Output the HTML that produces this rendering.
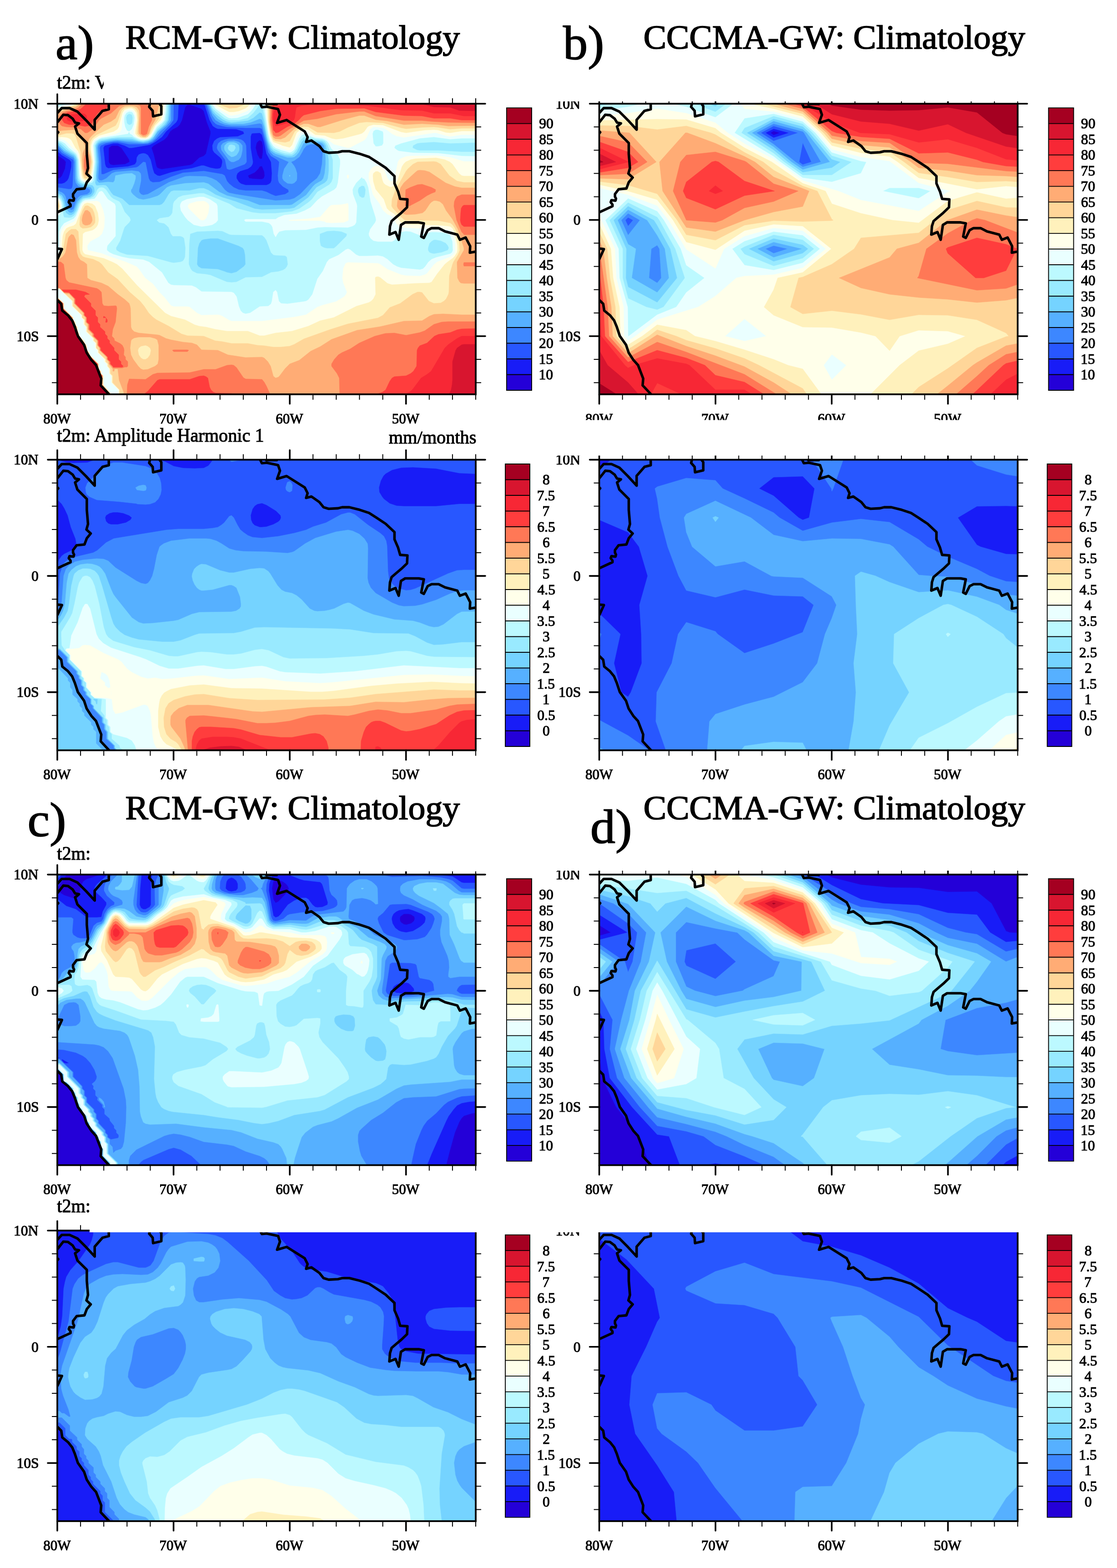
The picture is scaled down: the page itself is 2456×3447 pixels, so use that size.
<!DOCTYPE html><html><head><meta charset="utf-8"><title>t2m climatology</title><style>html,body{margin:0;padding:0;background:#fff}svg{display:block}text{font-family:"Liberation Serif","Times New Roman",serif;fill:#000}</style></head><body>
<svg xmlns="http://www.w3.org/2000/svg" width="2456" height="3447" viewBox="0 0 2456 3447">
<rect width="2456" height="3447" fill="#fff"/>
<defs>
<clipPath id="clip_a"><rect x="126.0" y="228.0" width="920.0" height="638.8"/></clipPath>
<clipPath id="clip_b"><rect x="1317.6" y="228.0" width="920.0" height="638.8"/></clipPath>
<clipPath id="clip_a2"><rect x="126.0" y="1010.6" width="920.0" height="638.8"/></clipPath>
<clipPath id="clip_b2"><rect x="1317.6" y="1010.6" width="920.0" height="638.8"/></clipPath>
<clipPath id="clip_c"><rect x="126.0" y="1922.6" width="920.0" height="638.8"/></clipPath>
<clipPath id="clip_d"><rect x="1317.6" y="1922.6" width="920.0" height="638.8"/></clipPath>
<clipPath id="clip_c2"><rect x="126.0" y="2705.2" width="920.0" height="638.8"/></clipPath>
<clipPath id="clip_d2"><rect x="1317.6" y="2705.2" width="920.0" height="638.8"/></clipPath>
</defs>
<g clip-path="url(#clip_a)">
<rect x="123.0" y="225.0" width="926.0" height="644.8" fill="#2400d8"/>
<path fill="#181cf7" stroke="#181cf7" stroke-width="0.6" fill-rule="evenodd" d="M116 877l940 0 0-659-940 0 0 123 10 0 15 10 4 5-2 15-7 16-5 5-15 0 0 480zM244 362l-2-1-3-5 0-31 7-5 13 0 8 5 14 21 3 5 1 5-10 5-26 2zM351 371l-5-2-2-3-6-26-5-15 5-5 23-13 7-7 6-11 6-5 10-5 5-5 5-10 7-28 5-6 5 0 26 9 5 5 7 25 8 20 0 5-10 44-5 5-10 4-15 14-6 2-61 9zM550 392l-2 0-3-6 15-7 8-8 3-5 5-1 5 12 1 9-2 6-4 2-5 0-16-1zM571 349l-5-9-4-15 2-10 2-3 5-4 5 3 2 9 0 15-2 14z"/>
<path fill="#2857ff" stroke="#2857ff" stroke-width="0.6" fill-rule="evenodd" d="M116 877l940 0 0-659-607 0 0 10 2 5 10 31 7 13 6 4 5 2 41 1 15 5 2 5-14 6-39 2-7 3-6 5-4 10 1 10 3 5 13 11 4 5 1 5-2 10-3 4-5 1-5 0-11-2-15-5-5 0-21 6-20 3-26 6-25 8-5-1-7-5-3-9-5-21-3-5-3-5-5-3-5-1-5 1-5 2-4 6-1 10-3 5-2 1-13 4-44 4-5-3-2-6-4-36 3-5 19-5 10 0 15 5 10 5 6 0 35-6 5-1 11-6 15-11 9-12 22-20 3-5 1-5 2-41-277 0 0 114 10 0 10 9 17 10 4 5 0 11-3 14-3 11-3 5-6 5-6 2-20 0 0 468zM540 407l-10-3-5-4-5-8 0-6 2-5 6-5 17-5 7-5 3-5 1-5-5-31 0-25 2-6 2-1 16-1 5 4 5 17 5 25 10 18 2 25-1 16-2 5-4 3-5 2-41 0z"/>
<path fill="#3d87ff" stroke="#3d87ff" stroke-width="0.6" fill-rule="evenodd" d="M116 877l940 0 0-659-603 0 0 10 2 5 8 23 5 10 6 6 4 2 11 3 10 2 41 2 31 0 5 2 14 52 6 8 13 8 5 5-3 30 1 11 2 5 8 8 12 7 1 5-8 5-21 4-10-4-10-5-10-3-36 0-15-2-11-5-10-8-5-6-5-12-5-3-41-7-46 4-26 9-25 11-15 1-6-3-3-6-7-35-5-1-11 10-4 2-51 6-21 9-5 0-1-32-3-26 2-5 12-5 16-3 10 0 25 5 26 0 15-1 11-4 8-7 30-31 7-10 1-46-266 0 0 106 10 0 10 12 25 15 1 5-2 51-1 5-2 3-5 1-26-4-10 0 0 460zM499 371l5 2 5-1 29-11 2-2 2-3 0-5-1-31-2-5-4-5-5-3-10-2-16 0-10 2-8 3-6 5-2 5-1 5 2 5 16 21 3 15z"/>
<path fill="#56b0ff" stroke="#56b0ff" stroke-width="0.6" fill-rule="evenodd" d="M116 877l940 0 0-659-600 0 0 10 11 26 7 10 10 6 11 4 14 2 31 0 31-5 5 2 14 52 5 10 6 6 34 15-10 15-4 15 0 6 3 5 8 6 10 1 5-2 5-5 1-5 0-11-3-10-3-6-7-9 7-3 11-8 6-10 4-8 6-7 9-3 10 0 11 0 4 3 2 10-2 31-4 20-7 11-14 11-23 24-13 9-10 3-31 2-88-14-14-3-4-2-6-5-10-13-8-7-10-5-13-4-36-1-10 1-36 13-46 26-10 2-5-2-4-5 0-5 4-20 0-11-1-5-4-4-15-2-36 3-8 3-12 11-6 3-5 2-5-1-2-4 0-6 2-30-3-31 1-5 2-3 4-2 6-2 21-3 10-1 20 3 36 3 10-1 9-4 6-5 12-16 14-12 7-8 3-5 0-5 0-41-260 0 0 101 10 0 10 11 5 5 21 12 3 9 0 36 2 10 5 7 5 2 15 2 6 4 0 5-6 5-15 3-5 4-3 4-7 21-5 3-6-4-7-26-3-5-5-4-10-4-10 0 0 453zM509 356l5 0 11-5 4-5 2-6 2-10 0-10-4-5-4-3-11-3-13 1-11 5-4 5 0 5 1 5 17 23z"/>
<path fill="#75d3ff" stroke="#75d3ff" stroke-width="0.6" fill-rule="evenodd" d="M116 877l940 0 0-659-597 0 0 10 9 21 11 12 13 8 12 3 31 0 16-3 20-8 5 2 5 15 7 32 5 15 3 6 5 4 5 3 26 8 10 0 5-1 5-4 5-6 10-20 6-3 10 0 21 1 5 2 4 5 3 26 0 15-2 20-3 11-4 5-14 8-5 5-15 19-31 21-5 1-31 0-35 0-26-10-46-11-17-8-24-18-10-3-41 2-31 5-9 4-16 16-5 3-16 5-15 3-10-2-5-3-8-7-4-5 0-5 2-2 5-12 3-11 0-6-8-5-16 1-20 4-2 11-3 4-11-1-20 2-5-5-1-11 3-30-3-31 1-5 3-5 7-4 7-1 24-3 36 2 25 4 10-2 5-2 6-4 11-16 18-15 6-10 2-16 0-30-257 0 0 98 10 0 15 15 21 12 5 9 1 40 3 10 6 5 5 2 16 2 2 1 3 5 0 5-3 5-8 3-10 2-7 6-4 5-8 20-1 2-5 3-5-1-6-7-5-22-5-9-10-5-10 0 0 448zM636 386l1 2 1-2-1-1zM502 340l7 5 5-1 6-3 4-6 2-5 0-5-1-6-5-4-6-2-10 0-5 2-5 5-1 5 1 5 5 7z"/>
<path fill="#99eaff" stroke="#99eaff" stroke-width="0.6" fill-rule="evenodd" d="M116 877l940 0 0-659-595 0 0 10 7 15 6 7 15 12 10 5 10 2 11-1 25-3 12-6 14-12 5 2 5 18 6 33 4 13 5 12 5 6 5 3 21 7 10 1 5 0 5-3 5-5 11-22 5-5 5-1 36 5 5 4 3 5 6 31 0 25-2 16-2 5-5 5-18 10-18 22-31 23-10 2-61 2-16-2-42-16-29-9-15-6-16-10-10-4-10 0-21 5-35 0-6 2-5 6-10 17-5 5-5 2-67 0-15-14-20-8-5-6-7-11-4-4-5-1-15 1-2-1-2-5 1-10 2-36-2-36 3-5 5-5 26-5 15-1 31 1 15 5 10 1 10-2 5-2 8-7 8-13 15-13 7-10 2-16 0-30-254 0 0 95 10 0 4 2 16 15 17 10 4 5 2 6 1 35 2 11 4 5 6 3 21 2 4 5 1 5 0 5-3 5-2 3-5 3-16 3-5 4-5 8-5 15-5 7-5 3-5 0-7-5-2-5-4-20-5-11-8-5-10 0 0 445zM494 597l-15-5-36-2-7-4-3-5 1-16 1-20 3-10 5-7 5-2 15-2 16 0 45 16 10 5 3 5 2 10 1 21-4 5-16 12-11 3-10-2zM503 330l6 4 5-2 4-7-2-5-7-2-5 1-3 6z"/>
<path fill="#bcf9ff" stroke="#bcf9ff" stroke-width="0.6" fill-rule="evenodd" d="M116 877l940 0 0-543-41 0-51-3-41 0-6-1-10-5 1-5 9-5 6-1 31-2 36 3 66-2 0-95-593 0 0 10 5 10 6 6 20 16 10 4 21 0 20-5 12-11 14-18 5 1 5 21 7 42 4 16 4 9 5 7 16 8 10 3 10 1 5 0 4-3 6-8 7-17 4-5 5-4 5 0 20 5 16 2 5 2 4 5 3 5 11 31 0 41-3 8-5 6-26 16-12 16-8 7-20 14-16 6-36 4-35 0-16-2-35-9-16-10-56-23-10 0-36 5-10 4-9 9-2 5-2 20-3 5-5 4-20 3-6 4 5 5 11 2 5 4 5 5 5 14 4 5 17 0 5 2 3 3 3 21-1 20-2 5-3 4-5 2-15 2-6-1-51-14-46-3-15-5-8-5-1-5 9-16 8-25 2-5 10-10 3-5-2-6-11-12-8-18-4-5-13-6-5-4-11-16-5-4-5-1-5 1-4 4-4 10-4 5-8 4-11 1-5 2-7 9-5 15-6 10-2 2-5 3-5 1-11-1-2-5-1-25-4-10-8-8-10 0 0 442zM494 618l-31-13-10-2-20-2-10-5-4-5-4-10 0-5 1-41 2-21 15-5 46-2 10 1 15 7 5 1 67 1 5 4 5 7 10 27 5 5 5 1 21 1 4 3 2 16-2 5-4 5-5 3-10 3-16 2-20 10-36 1-20 10-11 1-10-1zM714 545l-5-2-4-3-2-10 0-16 16-6 15-1 10 1 7 1 12 5-1 5-23 23-5 4-15 0zM796 435l-6-4-3-9 0-5 2-5 7-4 5 1 3 8-1 10-2 7zM944 555l-3-5 0-5 3-10 5-5 5-3 5 0 10 2 11 5 5 6 2 5-2 5-14 5-17 3-5-1zM181 402l6 2 11-1 5-2 3-4 4-41-2-36 5-9 5-4 5-1 36-5 31 0 15 7 10 1 10-2 5-2 5-5 11-17 10-9 8-10 3-21 0-25-225 0 0 10-16 3-10 0 0 79 10 0 10 5 16 15 10 6 5 5 4 10 2 41 4 7zM284 275l-5-4-2-12 2-6 5-3 6 2 2 7-1 10-1 3-3 2z"/>
<path fill="#eaffff" stroke="#eaffff" stroke-width="0.6" fill-rule="evenodd" d="M116 877l940 0 0-533-41-1-51-6-56-1-31-4-4-2-6-5 2-5 13-5 41-11 31-3 36 5 25-2 41 0 0-86-476 0 0 10 10 66 4 16 7 11 5 4 13 5 18 5 5-2 5-4 11-25 5-7 5-2 5 1 20 7 16 2 5 2 5 3 4 5 6 12 14 13 5 11 0 10-5 41-3 10-5 5-27 15-10 8-15 16-13 7-18 7-27 3-13 5-6 4-66 0-3 2 3 3 36 0 15 3 5 4 3 5 3 15 4 7 4-7 4-5 13-3 46-1 25-5 16-1 51 1 10-3 5-3 3-5 2-36-1-5-8-21-1-10 2-5 6-10 13-13 1 3 4 1 5 8 4 11 5 31 11 35 1 6-2 5-11 15-3 10 1 5 3 5 6 5 10 2 31 0 5-3 11-14 4-4 11-2 10 1 20 8 26-7 10 0 15 1 11 3 5 3 5 14 1 19-2 5-4 3-31 8-10 4-7 6-7 10-5 5-7 2-41-4-9-3-9-5-12-11-10-6-11-2-25 1-16 0-7-3-13-11-5-2-5 2-16 12-20 9-5 6-9 20-12 17-11 34-9 12-5 3-5 1-36 5-14-1-5-5-4-20-3-4-5 4-3 20-2 6-6 5-19 1-21 14-10 2-6-2-5-5-4-10-5-21-6-8-5-2-66-1-12-9-9-4-40-1-6-1-6-4-14-23-28-23-13-5-31-3-15-3-20-6-8-4-6-5 0-5 1-5 18-21 0-66-2-5-15-10-11-16-3-2-5 2-6 10-4 5-21 3-5 3-4 5-11 27-5 6-17 8-4 2-6 8-5 10-1 41-3 5-10 0 0 317zM826 322l-5-7-2-21 2-6 5-3 5 0 11 4 1 5 0 16 0 5-3 5-9 2zM426 494l17 4 15-2 9-2 8-5 4-5-1-31-2-5-15-10-13-5-10 0-27 5-11 5-3 5-1 5 2 10 9 14 6 7 9 7zM116 473l0 3 10 0 5-4 4-9 1-10-2-10-3-5-5-5-10 0 0 35zM179 397l3 2 5 2 5 0 6-1 4-3 2-5 4-36-3-36 2-5 3-5 8-5 5-2 58-9 3-5-5-2-4-8-2-10 0-10 1-5 4-6 6-3 6 1 2 2 3 6 1 5-2 15-4 10-6 5 2 5 4 2 4 4 6 3 10 4 10 0 7-2 6-5 12-21 11-9 5-6 3-21 1-25-212 0 0 10-27 7-10 0 0 73 10 0 10 3 7 4 9 10 15 12 2 3 4 11 2 35 2 8zM503 259l6 1 13-1 23-8 8-8 7-10 2-5 0-10-96 0 0 10 8 11 25 18z"/>
<path fill="#ffffea" stroke="#ffffea" stroke-width="0.6" fill-rule="evenodd" d="M116 877l127 0 1-7 3-3-19-21 0-20-5-5 0-5-5-5-1-11-20-20 0-5-5-5-1-11-4-4-1-6-10-10 0-5-4-5-1-10-4-5-1-6-5-5 0-5-20-20 0-11-15-14-5 5-5 0 0 214zM260 877l796 0 0-522-36 0-30-9-31-4-56 1-10 1-11 4-4 3-3 5-7 36-6 7-5-1-5-6-8-21-7-5-6-1-5 0-5 2-5 4-5 10 0 11 9 35 3 5 12 16 8 15 9 8 10 4 3 3 7 14 5 5 11 3 30 2 46 0 26 4 3 3 3 5 5 21 0 15-1 5-4 5-6 5-29 11-7 6-15 19-5 3-11 3-30-1-11-2-30-12-16-11-5-2-66-2-5 2-5 11-2 21 2 11 8 20-2 5-4 5-18 11-30 8-11 4-25 17-26 5-71 9-67 0-5-2-15-9-5-2-5-1-36 1-10-5-16-13-5-1-30 0-6-2-15-19-11-11-14-18-17-13-14-20-5-5-23-10-33-11-21-8-30-7-1-5 0-5 6-9 5-3 15-8 6-6 5-15 1-21-3-15-6-15-3-4-5-2-22 1-4 0-5 4-16 37-4 4-16 7-5 4-5 8-2 7-2 36-2 5-4 4-10 0 0 82 5-5 10 0 27 26 0 11 20 20 0 5 5 5 0 10 6 6 0 10 15 15 0 5 5 5 0 11 5 5 0 5 15 15 0 5 6 5 0 5 5 6 0 10 5 5 0 15 15 16 0 15zM717 489l12 1 21-1 5 0 10-4 1-1 0-31-1-6-15 3-21 1-5 3-20 23-26 4-43 3 2 1 67 0 10 2zM442 484l6 0 5-4 5-12 2-15-2-5-5-4-5-2-15 1-17 5-3 5 2 5 23 23zM116 468l0 3 10 0 3-3 3-5 2-10-2-10-4-5-2-3-10 0 0 28zM183 397l4 2 5 0 5-2 4-5 2-6 3-30-3-36 1-5 4-7 5-4 5-2 37-8 9-4 3-6 3-30 4-8 5-3 5-2 6 1 5 4 3 8 1 10-5 25 0 5 5 6 10 5 11 0 5-1 6-4 3-6 8-15 15-15 4-21 1-25-200 0 0 10-36 10-10 0 0 67 20 1 9 4 25 25 2 5 3 11 2 35 2 6 3 4zM764 392l2 0 1-6-2-2-2 2zM636 330l6-2 3-3 7-21 6-9 5-5 5-1 5 0 20 11 21 3 5 2 15 12 31 8 5-1 31-16 5-6 8-18 7-5 5 0 16 2 7 3 13 10 10 5 16 3 66-10 5 0 21 6 10 2 25-4 41 0 0-78-472 0 1 20 3 36 3 20 5 15 5 7 5 3 12 6 14 5zM509 254l16-3 20-8 5-5 6-10 0-10-88 0 0 10 6 7 30 18z"/>
<path fill="#fff1bc" stroke="#fff1bc" stroke-width="0.6" fill-rule="evenodd" d="M116 877l127 0 0-5 2-5-18-21 0-20-5-5 0-5-5-5 0-11-20-20-1-5-5-5-1-11-3-2-3-8-10-10 0-5-2-2-2-8 0-5-3-3-2-8-4-5-1-5-20-20 0-11-14-14-5 5-5 0 0 214zM262 877l794 0 0-490-36 0-5-1-6-5-14-20-6-5-11-5-19-4-46 2-10 2-11 5-4 4-4 6-10 31-7 10-5 4-5 0-10-5-4-4-2-5-4-16-6-4-5 0-5 4-1 5 1 13 5 17 18 22 7 20 5 5 11 7 15 19 6 3 5 1 71 2 21 2 5 1 5 4 4 7 3 10 4 21 0 10-1 5-5 8-5 5-11 8-6 5-16 20-13 19-5 2-31 1-51 3-10-3-16-13-5-2-5 1-1 2 1 36-5 10-5 5-5 3-27 8-50 25-30 7-26 12-36 11-36 4-25 6-10 0-26-10-46 0-25-4-21-5-15-2-10-3-21-11-31-8-13-7-62-61-32-36-12-10-10-5-19-8-41-9-4-4-2-5 0-5 1-31 5-4 16-4 5-3 4-4 3-5 2-10-2-16-6-15-6-5-11-2-6 2-4 5-15 39-5 4-10 3-6 3-5 7-3 10-2 26-2 10-8 8-10 0 0 77 5-5 10 0 28 27 0 11 21 20 0 5 5 5 0 10 5 6 0 10 15 15 0 5 6 5 0 11 5 5 0 5 15 15 0 5 5 5 0 5 5 6 0 10 5 5 0 15 16 16 0 15zM116 463l0 5 10 0 3-5 3-10-3-10-3-5-10 0 0 20zM182 392l5 4 5 0 6-4 2-6 3-15 1-15-4-26 0-10 3-10 4-5 11-7 32-9 8-5 3-5 8-31 5-7 10-3 6 0 5 3 5 7 2 16-4 25 0 5 5 6 7 3 10 1 5-3 7-7 9-18 12-12 2-5 4-21 0-20-192 0 0 10-5 3-26 7-10 4-10 0 0 60 20-1 10 1 6 2 5 4 9 17 6 7 3 8 5 46zM621 320l16 4 5-5 7-19 3-8 6-5 10-4 10 2 15 11 21 2 15 6 10 2 16-2 35-9 6-2 5-4 7-10 3-2 10-3 21 1 40 15 11 2 41-6 20-1 10 1 16 5 10 1 25-4 41 0 0-70-469 0 2 46 6 36 6 12 16 6zM498 243l6 3 10 0 11-2 15-6 5-4 5-6 0-10-78 0 0 10 2 2 20 11z"/>
<path fill="#ffd699" stroke="#ffd699" stroke-width="0.6" fill-rule="evenodd" d="M116 877l126 0 1-10-17-21 0-20-4-5-1-5-5-5 0-11-20-20-1-5-4-5-2-11-3-5-14-15 0-5-4-10 1-5-4-6-1-5-4-5 0-5-20-20 0-11-14-13-5 5-5 0 0 213zM263 877l793 0 0-476-36 0-15-3-17-12-19-25-9-5-6-1-36 1-10 5-11 10-4 5-23 41-8 21-1 15 3 5 18 19 6 5 4 2 72 1 26 5 5 4 5 7 6 13 4 21 1 15-4 10-10 16-2 5-7 25-1 36-1 5-5 10-5 5-7 4-15 1-11-5-15-19-5-1-5 0-11 5-27 20-23 9-15 17-11 6-66 13-41 13-56 20-21 12-10 4-20 2-16 0-20-3-15-1-21-4-36 0-20-4-16-2-25-10-36-1-13-4-28-17-27-14-8-6-9-9-10-15-9-11-23-20-26-28-21-15-14-18-6-5-13-6-18-4-5-2-5-6-2-8-3-41-5-5-10 0-5 3-7 7-7 41-3 5-7 5-2 1-10 0 0 73 5-5 10 0 30 28 0 11 20 20 0 5 6 5 0 10 5 6 0 10 15 15 0 5 5 5 0 11 5 5 0 5 16 15 0 5 5 5 0 5 5 6 0 10 5 5 0 15 15 16 0 15zM315 790l-5-3-5-7-2-10 2-5 5-4 10-2 5 2 5 4 2 5-2 10-5 7-5 3zM177 499l5 3 10-1 8-2 6-5 3-5 0-11-2-10-4-9-8-6-3-1-5 1-5 9-6 16-1 16 2 5zM116 463l0 1 10 0 3-6 1-5-1-5-3-7-10 0 0 17zM186 392l8 0 4-7 1-9 3-20-5-31 0-5 2-10 4-6 10-8 41-20 5-9 8-24 7-6 10-2 6 0 7 3 4 5 2 5 1 16-2 25 0 5 6 6 7 2 5 0 5-2 4-6 4-10 6-10 8-10 4-7 4-19 1-20-184 0 0 10-5 3-26 8-15 7-10 0 0 52 10 0 20-5 11 0 6 1 4 7 10 32 3 38 3 15zM606 310l21 3 10-3 11-21 10-7 10-4 10 1 20 12 36 1 13-3 18-9 25-10 16-2 36 2 40 11 11 2 35-3 26-1 10 1 26 4 25-2 41 0 0-64-466 0 1 51 4 25 6 13zM506 238l14-1 20-8 1-1 0-10-63 0 0 10 26 10z"/>
<path fill="#ffac75" stroke="#ffac75" stroke-width="0.6" fill-rule="evenodd" d="M116 877l125 0 2-10-18-21 0-20-4-5-1-5-4-5-1-11-20-20-1-5-6-10-3-11-14-15-1-10-3-5 0-5-4-11-3-5-1-5-20-20 0-11-13-12-5 4-5 0 0 213zM272 877l784 0 0-185-41 0-41-2-20 1-10 4-16 10-40 1-52 12-51 8-56 20-25 16-21 10-25 20-21 8-10 10-12 16-3 3-6 2-5-4-6-22-6-10-8-8-5-2-36 1-39-6-22-10-36-1-10-11-11-4-20-2-26-5-11-3-14-7-5-1-41-4-10-3-5-5-2-5-1-41-1-5-2-6-10-9-15-11-21-18-15-7-23-6-8-5-1-30-6-5-8-4-5-7-3-10-2-27-5-11-5-2-5 5-2 4-6 31-3 5-4 5-6 4-5 1-10 0 0 69 5-5 10-1 10 11 5 2 6 0 11 11 0 10 20 21 0 5 5 5 0 10 5 5 0 11 10 10 0 5 11 10 0 10 5 6 0 5 15 15 0 5 5 5 0 5 9 11 0 5 3 0 1-5 7 0 3 25 10 26 0 10zM310 811l-6-6-11-15-5-10-2-15 2-16 2-3 5-3 10-2 25 0 11 3 5 3 3 12 0 31-2 10-6 5-16 7-10 1zM1013 622l7 1 36 0 0-210-41 0-15-3-20-8-36-24-10-3-11-1-5 1-5 4-25 23-7 10-3 10-4 21-1 10 2 5 7 8 6 4 5 2 20-1 16-3 6-5 10-15 4-4 5-3 5 0 8 2 7 6 7 14 14 19 12 22 13 41 0 5-15 26 0 5 1 30 4 8zM185 494l2 1 5 0 6-2 3-4 2-5-1-6-4-11-6-5-5 1-5 10-1 5-1 6 2 8zM116 458l0 2 10 0 2-7-2-8-10 0 0 8zM187 386l5 0 3-5 3-10 1-15-1-13-6-15-4-3 0-5 4-5 4-10 4-5 28-26 16-7 10-7 8-17 7-7 6-3 9-1 11 1 5 2 3 3 3 5 1 11-2 35 1 5 8 6 6 0 7-6 5-15 9-15 8-31 1-15-174 0 0 10-9 7-27 8-10 5-4 5-10 0 0 38 10 0 5-3 5-1 26-2 10 4 3 5 12 26 0 5-5 12-1 14 1 19 3 11zM605 305l12 1 10-4 19-18 12-8 10-4 10 0 20 7 6 0 48-15 38-10 11 0 25 9 26 3 36 8 40-2 36 2 21 3 71-1 0-58-463 0 0 51 3 20 5 13zM504 228l10 0 0-10-10 0 0 5z"/>
<path fill="#ff7856" stroke="#ff7856" stroke-width="0.6" fill-rule="evenodd" d="M116 877l125 0 1-10-18-21 1-20-5-5 0-5-5-5 0-11-20-20-2-5-6-10-2-11-15-15-1-10-3-5 0-5-7-16-1-5-20-20 0-11-12-11-5 4-5 0 0 212zM279 877l315 0 0-10-8-18-5-9-5-6-36-1-5-3-15-22-6-5-5-1-10 1-25 9-26 0-31 7-71 1-10 3-16 11-36-1-4 13-1 26zM747 877l309 0 0-170-71 0-14 1-17 5-20 14-11 4-30 6-26-5-20 1-23 6-34 15-20 13-18 8-8 5-9 10-6 10 0 5 12 16 5 10 1 41zM246 805l3 4 20 0 5-2 5 0 2-2 0-10-5-5 0-5-4-5 1-10-1-5-3-6-5-4-12-6-1-5-5-5 2-15 6-16 3-30-1-5-2-1-16 1-10-1-3-5-2-25-5-5-5-3-61-13-6-5-2-5-4-30-6-5-18-1 0 63 5-5 10 0 10 10 11 1 12 13 0 10 21 21 0 5 5 5 0 10 5 5 0 11 10 10 0 5 10 10 0 10 5 6 0 5 16 15 0 5 5 5 0 5 3 3zM379 770l3 3 30 0 3-3-3-1-30 0zM1019 581l1 4 36 0 0-8-36 0zM1019 514l1 2 36 0 0-88-41 0-10 4-4 6-2 5-1 10 6 31 11 26zM116 453l10 0-10 0zM891 453l2 1 7-1 23-12 16-11 10-5 8-3 1-5-9-5-21-7-10 1-16 6-10 5-1 31zM186 371l1 4 5 0 4-14-1-10-3-10-5 0-2 10 0 15zM606 300l6 0 5-2 19-14 32-19 30-4 41-10 51-6 11 0 25 10 62 10 40 0 21 2 36 2 71 1 0-52-459 0-2 46 1 11 5 22zM310 294l5 3 5-1 3-2 4-15 7-15 0-5-1-21-3-5-11-5 0-10-138 0 0 10-9 9-10 4-16 4-8 3-6 6-2 5 0 10 3 5 3 3 10 2 21 1 11 4 9 8 5 0 12-8 14-20 5-4 21-11 18-16 12-3 26 0 5 1 4 2 1 5 0 55z"/>
<path fill="#ff3d3d" stroke="#ff3d3d" stroke-width="0.6" fill-rule="evenodd" d="M116 877l124 0 1-10-18-21 1-20-4-5-1-5-4-5-1-11-20-20-8-15-2-11-14-15-1-10-4-5 0-5-1-6-7-15-19-20 0-11-12-11-5 4-5 0 0 212zM316 877l198 0 0-10-5-2-35-1-5-2-5-5-3-6-4-20-4-3-5-2-10 1-21 7-66 0-5 2-21 24-9 7 0 5zM569 877l7 0 0-10-7 0 0 5zM827 877l229 0 0-155-41 1-10 2-15 6-26 4-9 4-16 15-16 6-4 5-2 5-1 35-7 11-6 5-10 5-26 2-5 3-5 7-9 19-7 5-14 5 0 5zM248 805l1 2 20 0 2-2-5-5 0-5-5-5 0-10-10-10 0-5-10-11 0-5-5-5 0-5-5-5 0-5-11-10 0-6-5-5 0-10-5-5 0-10-10-10 0-6-15-15 2-4 10-1-9-5-21-5-31 0 5 5 11 1 14 14 0 10 20 21 0 5 5 5 0 10 6 5 0 11 10 10 0 5 10 10 0 10 5 6 0 5 15 15 0 5 6 5 0 5 1 1zM232 708l1 1 3-1 0-5-3-4 0 4zM227 698l1 1 5-1-5-3zM116 637l5-5 7 0-2-28-10 0 0 28zM1015 494l5 4 36 0 0-47-36 0-3 2-3 5-1 10-1 16 1 5zM604 289l2 3 6-1 19-12 16-7 10-8 6-7 5-4 36-9 35-5 62-1 25 8 62 8 40 1 26 5 36 0 25 4 41 0 0-46-455 0-3 41 3 27zM167 274l20 4 11-2 5-6 5-11 5-8 5-5 15-8 5-5 4-5 0-10-52 0 0 10-13 12-10 4-19 4-7 5-4 6 0 5 4 6 11 4 15 0z"/>
<path fill="#f72735" stroke="#f72735" stroke-width="0.6" fill-rule="evenodd" d="M116 877l124 0 0-10-18-21 1-20-4-5-1-5-4-5-1-11-19-20-7-13-2-2-1-11-15-15-1-10-4-5-1-11-3-5-3-9-20-21 0-11-11-10-5 4-5 0 0 211zM891 877l165 0 0-138-41 0-10 5-20 14-7 7-30 51-9 7-13 8-18 24-5 5-12 7 0 5zM605 274l1 3 6-1 30-9 4-3 2-5 2-16 2-7 11-4 25-3 46-1 72 4 76 10 46 1 26 6 36 0 30 6 36 0 0-37-426 0 0 10-17 5-7 3-1 2-4 12 0 14 1 5zM148 264l4 2 5 1 25-1 6-2 3-5-1-5-3-3-5-1-25 2-5 2-5 5zM217 228l7 0 0-10-7 0 0 5z"/>
<path fill="#d8152f" stroke="#d8152f" stroke-width="0.6" fill-rule="evenodd" d="M116 877l123 0 1-10-19-21 0-20-3-9-4-6-2-11-16-15-4-7-3-3-2-7-3-3-1-11-15-15 0-10-5-5 0-11-4-5-2-7-20-23-1-11-10-8-5 3-5 0 0 210zM987 877l69 0 0-120-36 0-5 1-10 7-3 5-7 25 0 41-1 10-2 11-5 10 0 5zM1013 243l43 1 0-26-172 0 0 10 44 1 26 6 36 1 20 7z"/>
<path fill="#a50021" stroke="#a50021" stroke-width="0.6" fill-rule="evenodd" d="M116 877l123 0 0-10-20-21-1-25-4-5-1-7-4-4 0-5-15-15-2-6-4-4-1-6-4-4-1-11-15-15 0-10-5-5 0-11-5-5 0-6-23-24-1-11-7-6-10 1 0 210zM1015 228l41 1 0-11-41 0 0 5z"/>
</g>
<path d="M125.7 248.8L135.7 237.6L153.0 237.6L170.2 245.4L189.2 264.4L208.2 285.0L208.2 263.5L225.4 243.7L239.2 240.2L239.2 226.4M125.7 269.5L139.2 252.3L149.5 253.1L159.9 260.9L165.1 269.5L173.7 271.2L165.1 278.1L170.2 293.7L190.9 314.4L190.9 338.5L193.5 369.5L190.1 381.6L199.5 390.2L190.9 400.6L185.7 414.4L168.5 416.1L160.6 426.7L160.6 432.2L162.8 436.6L161.7 441.1L152.8 440.0L151.2 444.4L155.1 449.9L155.1 453.3L126.2 466.6M125.7 288.5L128.0 290.8L125.7 293.7M125.1 546.4L136.2 547.5L126.2 569.6M125.6 658.9L134.7 668.0L137.0 682.8L149.6 693.1L158.7 704.5L164.4 718.2L171.2 738.7L184.9 758.1L190.6 775.2L200.9 791.2L211.2 802.6L222.6 832.2L221.4 847.1L240.8 867.8M330.2 226.4L328.0 235.0L335.7 243.7L336.6 255.7L354.7 251.4L354.7 233.3L349.5 226.4M571.6 227.2L575.8 235.6L586.3 234.6L611.4 239.8L615.6 252.3L609.3 270.1L630.2 263.9L670.0 289.0L676.3 301.6L673.1 312.0L684.7 308.9L702.2 321.1L711.3 332.5L722.7 335.9L743.2 334.8L752.3 332.5L768.2 332.5L791.0 338.2L811.5 345.0L827.5 355.3L848.0 368.9L867.4 387.2L867.4 403.1L875.3 421.3L879.9 437.3L895.8 438.4L895.0 455.8L882.5 467.8L871.0 477.5L861.1 486.0L857.5 497.4L856.1 515.8L869.6 510.1L876.7 527.1L881.6 494.5L890.8 488.9L905.0 488.9L920.6 488.9L931.9 491.0L926.2 520.0L931.9 522.9L940.4 505.9L948.9 501.6L964.5 501.6L978.6 508.7L1005.5 515.8L1011.2 527.1L1023.9 522.2L1033.8 541.3L1033.1 555.4L1048.5 552.6M585.5 228.8L608.5 228.8" stroke="#000" stroke-width="5.6" stroke-linejoin="round" stroke-linecap="round" fill="none" clip-path="url(#clip_a)"/>
<path d="M126.0 228.0L126.0 207.0M126.0 866.8L126.0 887.8M381.6 228.0L381.6 207.0M381.6 866.8L381.6 887.8M637.1 228.0L637.1 207.0M637.1 866.8L637.1 887.8M892.7 228.0L892.7 207.0M892.7 866.8L892.7 887.8M126.0 228.0L105.0 228.0M1046.0 228.0L1067.0 228.0M126.0 483.5L105.0 483.5M1046.0 483.5L1067.0 483.5M126.0 739.0L105.0 739.0M1046.0 739.0L1067.0 739.0" stroke="#000" stroke-width="3.6" stroke-linecap="round" fill="none"/>
<path d="M177.1 228.0L177.1 216.0M177.1 866.8L177.1 878.8M228.2 228.0L228.2 216.0M228.2 866.8L228.2 878.8M279.3 228.0L279.3 216.0M279.3 866.8L279.3 878.8M330.4 228.0L330.4 216.0M330.4 866.8L330.4 878.8M432.7 228.0L432.7 216.0M432.7 866.8L432.7 878.8M483.8 228.0L483.8 216.0M483.8 866.8L483.8 878.8M534.9 228.0L534.9 216.0M534.9 866.8L534.9 878.8M586.0 228.0L586.0 216.0M586.0 866.8L586.0 878.8M688.2 228.0L688.2 216.0M688.2 866.8L688.2 878.8M739.3 228.0L739.3 216.0M739.3 866.8L739.3 878.8M790.4 228.0L790.4 216.0M790.4 866.8L790.4 878.8M841.6 228.0L841.6 216.0M841.6 866.8L841.6 878.8M943.8 228.0L943.8 216.0M943.8 866.8L943.8 878.8M994.9 228.0L994.9 216.0M994.9 866.8L994.9 878.8M1046.0 228.0L1046.0 216.0M1046.0 866.8L1046.0 878.8M126.0 279.1L114.0 279.1M1046.0 279.1L1058.0 279.1M126.0 330.2L114.0 330.2M1046.0 330.2L1058.0 330.2M126.0 381.3L114.0 381.3M1046.0 381.3L1058.0 381.3M126.0 432.4L114.0 432.4M1046.0 432.4L1058.0 432.4M126.0 534.6L114.0 534.6M1046.0 534.6L1058.0 534.6M126.0 585.7L114.0 585.7M1046.0 585.7L1058.0 585.7M126.0 636.8L114.0 636.8M1046.0 636.8L1058.0 636.8M126.0 687.9L114.0 687.9M1046.0 687.9L1058.0 687.9M126.0 790.1L114.0 790.1M1046.0 790.1L1058.0 790.1M126.0 841.2L114.0 841.2M1046.0 841.2L1058.0 841.2" stroke="#000" stroke-width="2" fill="none"/>
<rect x="126.0" y="228.0" width="920.0" height="638.8" fill="none" stroke="#000" stroke-width="3.8"/>
<text x="29.94" y="238.80" font-size="32.60" textLength="54.46" lengthAdjust="spacingAndGlyphs" stroke="#000" stroke-width="1.1">10N</text>
<text x="69.07" y="494.32" font-size="32.60" textLength="15.81" lengthAdjust="spacingAndGlyphs" stroke="#000" stroke-width="1.1">0</text>
<text x="36.43" y="749.84" font-size="32.60" textLength="49.21" lengthAdjust="spacingAndGlyphs" stroke="#000" stroke-width="1.1">10S</text>
<text x="95.34" y="930.60" font-size="32.60" textLength="60.20" lengthAdjust="spacingAndGlyphs" stroke="#000" stroke-width="1.1">80W</text>
<text x="350.47" y="930.60" font-size="32.60" textLength="60.20" lengthAdjust="spacingAndGlyphs" stroke="#000" stroke-width="1.1">70W</text>
<text x="606.37" y="930.60" font-size="32.60" textLength="60.20" lengthAdjust="spacingAndGlyphs" stroke="#000" stroke-width="1.1">60W</text>
<text x="861.70" y="930.60" font-size="32.60" textLength="60.20" lengthAdjust="spacingAndGlyphs" stroke="#000" stroke-width="1.1">50W</text>
<rect x="1113.9" y="237.1" width="55.1" height="34.8" fill="#a50021"/>
<rect x="1113.9" y="271.6" width="55.1" height="34.8" fill="#d8152f"/>
<rect x="1113.9" y="306.1" width="55.1" height="34.8" fill="#f72735"/>
<rect x="1113.9" y="340.6" width="55.1" height="34.8" fill="#ff3d3d"/>
<rect x="1113.9" y="375.1" width="55.1" height="34.8" fill="#ff7856"/>
<rect x="1113.9" y="409.6" width="55.1" height="34.8" fill="#ffac75"/>
<rect x="1113.9" y="444.1" width="55.1" height="34.8" fill="#ffd699"/>
<rect x="1113.9" y="478.6" width="55.1" height="34.8" fill="#fff1bc"/>
<rect x="1113.9" y="513.1" width="55.1" height="34.8" fill="#ffffea"/>
<rect x="1113.9" y="547.5" width="55.1" height="34.8" fill="#eaffff"/>
<rect x="1113.9" y="582.0" width="55.1" height="34.8" fill="#bcf9ff"/>
<rect x="1113.9" y="616.5" width="55.1" height="34.8" fill="#99eaff"/>
<rect x="1113.9" y="651.0" width="55.1" height="34.8" fill="#75d3ff"/>
<rect x="1113.9" y="685.5" width="55.1" height="34.8" fill="#56b0ff"/>
<rect x="1113.9" y="720.0" width="55.1" height="34.8" fill="#3d87ff"/>
<rect x="1113.9" y="754.5" width="55.1" height="34.8" fill="#2857ff"/>
<rect x="1113.9" y="789.0" width="55.1" height="34.8" fill="#181cf7"/>
<rect x="1113.9" y="823.5" width="55.1" height="34.8" fill="#2400d8"/>
<path d="M1113.9 237.1H1169.0V858.0H1113.9ZM1113.9 271.6H1169.0M1113.9 306.1H1169.0M1113.9 340.6H1169.0M1113.9 375.1H1169.0M1113.9 409.6H1169.0M1113.9 444.1H1169.0M1113.9 478.6H1169.0M1113.9 513.1H1169.0M1113.9 547.5H1169.0M1113.9 582.0H1169.0M1113.9 616.5H1169.0M1113.9 651.0H1169.0M1113.9 685.5H1169.0M1113.9 720.0H1169.0M1113.9 754.5H1169.0M1113.9 789.0H1169.0M1113.9 823.5H1169.0" stroke="#000" stroke-width="1.9" fill="none"/>
<text x="1185.27" y="282.49" font-size="32.60" textLength="31.62" lengthAdjust="spacingAndGlyphs" stroke="#000" stroke-width="1.1">90</text>
<text x="1185.23" y="316.99" font-size="32.60" textLength="31.62" lengthAdjust="spacingAndGlyphs" stroke="#000" stroke-width="1.1">85</text>
<text x="1185.19" y="351.48" font-size="32.60" textLength="31.62" lengthAdjust="spacingAndGlyphs" stroke="#000" stroke-width="1.1">80</text>
<text x="1184.79" y="385.98" font-size="32.60" textLength="31.62" lengthAdjust="spacingAndGlyphs" stroke="#000" stroke-width="1.1">75</text>
<text x="1184.75" y="420.47" font-size="32.60" textLength="31.62" lengthAdjust="spacingAndGlyphs" stroke="#000" stroke-width="1.1">70</text>
<text x="1185.15" y="454.97" font-size="32.60" textLength="31.62" lengthAdjust="spacingAndGlyphs" stroke="#000" stroke-width="1.1">65</text>
<text x="1185.11" y="489.46" font-size="32.60" textLength="31.62" lengthAdjust="spacingAndGlyphs" stroke="#000" stroke-width="1.1">60</text>
<text x="1184.91" y="523.96" font-size="32.60" textLength="31.62" lengthAdjust="spacingAndGlyphs" stroke="#000" stroke-width="1.1">55</text>
<text x="1184.87" y="558.45" font-size="32.60" textLength="31.62" lengthAdjust="spacingAndGlyphs" stroke="#000" stroke-width="1.1">50</text>
<text x="1185.51" y="592.94" font-size="32.60" textLength="31.62" lengthAdjust="spacingAndGlyphs" stroke="#000" stroke-width="1.1">45</text>
<text x="1185.47" y="627.44" font-size="32.60" textLength="31.62" lengthAdjust="spacingAndGlyphs" stroke="#000" stroke-width="1.1">40</text>
<text x="1185.07" y="661.93" font-size="32.60" textLength="31.62" lengthAdjust="spacingAndGlyphs" stroke="#000" stroke-width="1.1">35</text>
<text x="1185.03" y="696.43" font-size="32.60" textLength="31.62" lengthAdjust="spacingAndGlyphs" stroke="#000" stroke-width="1.1">30</text>
<text x="1185.15" y="730.92" font-size="32.60" textLength="31.62" lengthAdjust="spacingAndGlyphs" stroke="#000" stroke-width="1.1">25</text>
<text x="1185.11" y="765.42" font-size="32.60" textLength="31.62" lengthAdjust="spacingAndGlyphs" stroke="#000" stroke-width="1.1">20</text>
<text x="1184.44" y="799.91" font-size="32.60" textLength="31.62" lengthAdjust="spacingAndGlyphs" stroke="#000" stroke-width="1.1">15</text>
<text x="1184.40" y="834.41" font-size="32.60" textLength="31.62" lengthAdjust="spacingAndGlyphs" stroke="#000" stroke-width="1.1">10</text>
<g clip-path="url(#clip_b)">
<rect x="1314.6" y="225.0" width="926.0" height="644.8" fill="#2400d8"/>
<path fill="#181cf7" stroke="#181cf7" stroke-width="0.6" fill-rule="evenodd" d="M1318 228l958 0 0 639-958 0 0-575zM1701 288l-7 4 7 5 14-5z"/>
<path fill="#2857ff" stroke="#2857ff" stroke-width="0.6" fill-rule="evenodd" d="M1318 228l958 0 0 639-958 0 0-575zM1701 283l-18 9 18 11 34-11z"/>
<path fill="#3d87ff" stroke="#3d87ff" stroke-width="0.6" fill-rule="evenodd" d="M1318 228l958 0 0 639-958 0 0-575zM1381 478l-6 6 6 13 11-13zM1701 277l-28 15 28 18 54-18zM1765 314l-8 42 8 6 19-6z"/>
<path fill="#56b0ff" stroke="#56b0ff" stroke-width="0.6" fill-rule="evenodd" d="M1318 228l958 0 0 639-958 0 0-575zM1381 469l-15 15 15 33 26-33zM1445 539l-13 8-5 64 18 11 9-11-4-64zM1701 272l-38 20 38 25 48 39 16 11 40-11-37-64-3-3zM1701 540l-18 7 18 10 31-10z"/>
<path fill="#75d3ff" stroke="#75d3ff" stroke-width="0.6" fill-rule="evenodd" d="M1318 228l958 0 0 639-958 0 0-575zM1381 461l-23 23 23 53 17 10-9 64 56 32 26-32-9-64-17-30-22-33zM1701 266l-48 26 48 31 39 33 25 17 60-17-51-64-9-8zM1701 532l-36 15 36 19 63-19z"/>
<path fill="#99eaff" stroke="#99eaff" stroke-width="0.6" fill-rule="evenodd" d="M1318 228l239 0 16 6 8-6 695 0 0 639-958 0 0-575zM1381 453l-32 31 28 63-1 64 5 20 64 34 44-54-15-64-29-52-7-11zM1701 261l-59 31 59 38 31 26 33 23 64-10 19-13-19-6-49-58-15-14zM1701 524l-55 23 55 28 64-18 12-10-12-9z"/>
<path fill="#bcf9ff" stroke="#bcf9ff" stroke-width="0.6" fill-rule="evenodd" d="M1350 228l175 0 48 18 24-18 679 0 0 639-958 0 0-634zM1381 445l-41 39 29 63 0 64 12 45 40 19 24 6 14-6 47-64-21-64-35-63-5-7zM1637 281l-7 11 71 45 23 19 41 29 64 0 44-29-44-14-42-50-22-20-64-17zM1637 542l-9 5 9 12 64 26 64-17 25-21-25-20-64-11z"/>
<path fill="#eaffff" stroke="#eaffff" stroke-width="0.6" fill-rule="evenodd" d="M1318 292l0-48 63-9 32-7 64 0 32 7 64 23 40-30 663 0 0 639-958 0 0-511zM1381 436l-50 48 29 63 2 64 18 64 1 64 0 1 64-48 42-17 22-32 40-32-40-28-12-36-37-63-15-20zM1637 260l-22 32 86 52 15 12 49 35 64 9 64-19 12-25-12-2-64-19-36-43-28-25-64-17zM1956 413l-15 7 79 16 26-16-26-7zM1637 530l-27 17 27 36 64 11 64-16 38-31-38-30-64-8z"/>
<path fill="#ffffea" stroke="#ffffea" stroke-width="0.6" fill-rule="evenodd" d="M1318 292l0-37 63-6 64-10 64 10 64 21 27 22 37 24 64 34 64 47 64 19 14 4 50 20 127 24 64-42 7-2-71-18-64-48-63-9-64-17-30-36-34-31-64-16-64-6-8-11 647 0 0 639-958 0 0-405 4 22 30 63 3 64 16 64 1 64 9 10 16-10 48-36 90-28 38-24 46-40 18-4 64-3 64-15 51-42-51-40-64-6-64 18-45 28-19 43-64-42-39-64-25-32-64-24-63-15 0-57zM1829 779l-18 24 18 32 32-32zM1637 701l-43 38 43 11 48-11z"/>
<path fill="#fff1bc" stroke="#fff1bc" stroke-width="0.6" fill-rule="evenodd" d="M1318 292l0-27 127-3 64 1 64 19 12 10 52 33 60 31 68 47 50 17 14 28 64 21 69 15 58 6 64-48 64-19 64 14 64-5 0 435-362 0 64-64 42-32 64-15 39-17-39-11-64-2-42 13-22 32-31-32-32-8-64-11-64-1-64-26-21-18 21-38 9-26 55-12 63-52-63-50-64-4-64 14-64 42-64-17-29-48-35-45-64-19-63-14 0-50zM1650 228l626 0 0 186-64-5-64 7-128-25-46-35-18-12-63-8-64-16-24-28-40-36-64-17zM1318 547l0-54 25 54 5 64 14 64 2 64 17 19 31-19 33-25 64 12 19 13 45 11 64 19 64 21 32 13 32 8 41 56-488 0 0-256z"/>
<path fill="#ffd699" stroke="#ffd699" stroke-width="0.6" fill-rule="evenodd" d="M1318 292l0-16 63 1 64 8 64-8 54 15 10 4 64 39 41 21 23 18 64 35 32 11 32 62 3 2-3 1-64 2-64-2-64 10-64 33-64-12-20-32-44-58-64-19-63-8 0-43zM1675 228l601 0 0 174-64-4-64 2-64-11-64-9-32-24-32-22-63-7-64-14-18-21-46-42-64-16zM2056 484l28-22 64-20 64 14 64 2 0 409-272 0 16-16 64-41 64-45 64-25 6-1-6-7-64-29-64-10-64-1-64 11-63-12-64-8-64 7-27-15 18-64 9-2 64-28 49-34 15-24 127-11zM1318 547l0-36 17 36 6 64 12 64 2 64 26 29 46-29 18-14 42 14 22 9 64 18 64 22 32 15 96 51 9 13-456 0 0-256z"/>
<path fill="#ffac75" stroke="#ffac75" stroke-width="0.6" fill-rule="evenodd" d="M1318 292l0-5 66 5 59 64-62 38-63-2 0-36zM1507 292l4 0 62 23 64 29 23 12 41 33 78 31-14 34-64 12-64 18-64 25-64-9-52-80-7-64zM1700 228l576 0 0 163-64-4-64-2-64-10-64-6-17-13-47-32-63-5-64-14-11-13-53-47-64-17zM2083 484l65-23 64 13 64 9 0 164-64 13-64 5-64-7-64-4-64-7-63-14-48-22 111-45 16-19 48-13zM1318 547l0-18 8 18 8 64 10 64 3 64 34 38 64-41 64 25 64 21 64 24 64 35 40 26-423 0 0-256zM2139 803l9-6 64-37 64-12 0 119-216 0 24-19z"/>
<path fill="#ff7856" stroke="#ff7856" stroke-width="0.6" fill-rule="evenodd" d="M1722 228l554 0 0 151-64-3-128-16-64-2-64-44-63-4-64-12-5-6-59-53zM1318 356l0-57 63 14 42 43-42 26-63 3zM1496 356l13-15 64-7 64 20 4 2 60 48 54 16-54 23-64 14-49 27-15 5-64-5-29-64zM2137 484l11-4 18 4 110 42 0 86-64 22-64 4-131-27 3-4 17-60 47-34zM1318 547l18 128 3 64 42 47 64-34 64 22 128 49 71 44-390 0 0-256zM2174 803l38-24 64-13 0 101-174 0 46-40z"/>
<path fill="#ff3d3d" stroke="#ff3d3d" stroke-width="0.6" fill-rule="evenodd" d="M1743 228l533 0 0 140-64-3-51-9-13-5-64-16-64 2-64-32-63-4-54-9-10-4-64-54zM1318 356l0-44 63 22 22 22-22 13-63 10zM1565 356l8-2 7 2 57 42 66 22-66 10-64 30-64-25-7-15 7-20zM2080 547l4-3 64-21 64 14 24 10-24 48-49 16-18 0-61-54zM1318 611l0-15 9 79 3 64 51 57 64-26 64 17 41 16 23 22 64 15 43 27-362 0 0-192zM2206 803l6-4 64-15 0 83-138 0 10-9z"/>
<path fill="#f72735" stroke="#f72735" stroke-width="0.6" fill-rule="evenodd" d="M1764 228l512 0 0 128-64-6-64-25-64-19-64 7-64-18-65-3-62-23-64-41zM1318 356l0-31 64 31-64 16zM1559 420l14-12 16 12-16 6zM1318 675l4 64 52 64 7 6 13-6 51-15 64 12 7 3 57 54 64 0 16 10-154 0-54-25-14 25-113 0 0-128zM2274 803l2-1 0 65-98 0 34-32z"/>
<path fill="#d8152f" stroke="#d8152f" stroke-width="0.6" fill-rule="evenodd" d="M1793 228l483 0 0 103-64-9-88-30-40-19-64 14-64-15-63-5-64-16zM1318 356l0-18 36 18-36 9zM1318 803l0-32 18 32 45 38 23 26-86 0zM2230 867l46-22 0 22z"/>
<path fill="#a50021" stroke="#a50021" stroke-width="0.6" fill-rule="evenodd" d="M1823 228l453 0 0 77-64-10-8-3-56-45-64-11-64 6-64 1-63-2-64-9zM1318 356l0-4 8 4-8 2zM1318 867l0-24 38 24z"/>
</g>
<path d="M1317.3 248.8L1327.3 237.6L1344.6 237.6L1361.8 245.4L1380.8 264.4L1399.8 285.0L1399.8 263.5L1417.0 243.7L1430.8 240.2L1430.8 226.4M1317.3 269.5L1330.8 252.3L1341.1 253.1L1351.5 260.9L1356.7 269.5L1365.3 271.2L1356.7 278.1L1361.8 293.7L1382.5 314.4L1382.5 338.5L1385.1 369.5L1381.7 381.6L1391.1 390.2L1382.5 400.6L1377.3 414.4L1360.1 416.1L1352.2 426.7L1352.2 432.2L1354.4 436.6L1353.3 441.1L1344.4 440.0L1342.8 444.4L1346.7 449.9L1346.7 453.3L1317.8 466.6M1317.3 288.5L1319.6 290.8L1317.3 293.7M1316.7 546.4L1327.8 547.5L1317.8 569.6M1317.2 658.9L1326.3 668.0L1328.6 682.8L1341.2 693.1L1350.3 704.5L1356.0 718.2L1362.8 738.7L1376.5 758.1L1382.2 775.2L1392.5 791.2L1402.8 802.6L1414.2 832.2L1413.0 847.1L1432.4 867.8M1521.8 226.4L1519.6 235.0L1527.3 243.7L1528.2 255.7L1546.3 251.4L1546.3 233.3L1541.1 226.4M1763.2 227.2L1767.4 235.6L1777.9 234.6L1803.0 239.8L1807.2 252.3L1800.9 270.1L1821.8 263.9L1861.6 289.0L1867.9 301.6L1864.7 312.0L1876.3 308.9L1893.8 321.1L1902.9 332.5L1914.3 335.9L1934.8 334.8L1943.9 332.5L1959.8 332.5L1982.6 338.2L2003.1 345.0L2019.1 355.3L2039.6 368.9L2059.0 387.2L2059.0 403.1L2066.9 421.3L2071.5 437.3L2087.4 438.4L2086.6 455.8L2074.1 467.8L2062.6 477.5L2052.7 486.0L2049.1 497.4L2047.7 515.8L2061.2 510.1L2068.3 527.1L2073.2 494.5L2082.4 488.9L2096.6 488.9L2112.2 488.9L2123.5 491.0L2117.8 520.0L2123.5 522.9L2132.0 505.9L2140.5 501.6L2156.1 501.6L2170.2 508.7L2197.1 515.8L2202.8 527.1L2215.5 522.2L2225.4 541.3L2224.7 555.4L2240.1 552.6M1777.1 228.8L1800.1 228.8" stroke="#000" stroke-width="5.6" stroke-linejoin="round" stroke-linecap="round" fill="none" clip-path="url(#clip_b)"/>
<path d="M1317.6 228.0L1317.6 207.0M1317.6 866.8L1317.6 887.8M1573.2 228.0L1573.2 207.0M1573.2 866.8L1573.2 887.8M1828.7 228.0L1828.7 207.0M1828.7 866.8L1828.7 887.8M2084.3 228.0L2084.3 207.0M2084.3 866.8L2084.3 887.8M1317.6 228.0L1296.6 228.0M2237.6 228.0L2258.6 228.0M1317.6 483.5L1296.6 483.5M2237.6 483.5L2258.6 483.5M1317.6 739.0L1296.6 739.0M2237.6 739.0L2258.6 739.0" stroke="#000" stroke-width="3.6" stroke-linecap="round" fill="none"/>
<path d="M1368.7 228.0L1368.7 216.0M1368.7 866.8L1368.7 878.8M1419.8 228.0L1419.8 216.0M1419.8 866.8L1419.8 878.8M1470.9 228.0L1470.9 216.0M1470.9 866.8L1470.9 878.8M1522.0 228.0L1522.0 216.0M1522.0 866.8L1522.0 878.8M1624.3 228.0L1624.3 216.0M1624.3 866.8L1624.3 878.8M1675.4 228.0L1675.4 216.0M1675.4 866.8L1675.4 878.8M1726.5 228.0L1726.5 216.0M1726.5 866.8L1726.5 878.8M1777.6 228.0L1777.6 216.0M1777.6 866.8L1777.6 878.8M1879.8 228.0L1879.8 216.0M1879.8 866.8L1879.8 878.8M1930.9 228.0L1930.9 216.0M1930.9 866.8L1930.9 878.8M1982.0 228.0L1982.0 216.0M1982.0 866.8L1982.0 878.8M2033.2 228.0L2033.2 216.0M2033.2 866.8L2033.2 878.8M2135.4 228.0L2135.4 216.0M2135.4 866.8L2135.4 878.8M2186.5 228.0L2186.5 216.0M2186.5 866.8L2186.5 878.8M2237.6 228.0L2237.6 216.0M2237.6 866.8L2237.6 878.8M1317.6 279.1L1305.6 279.1M2237.6 279.1L2249.6 279.1M1317.6 330.2L1305.6 330.2M2237.6 330.2L2249.6 330.2M1317.6 381.3L1305.6 381.3M2237.6 381.3L2249.6 381.3M1317.6 432.4L1305.6 432.4M2237.6 432.4L2249.6 432.4M1317.6 534.6L1305.6 534.6M2237.6 534.6L2249.6 534.6M1317.6 585.7L1305.6 585.7M2237.6 585.7L2249.6 585.7M1317.6 636.8L1305.6 636.8M2237.6 636.8L2249.6 636.8M1317.6 687.9L1305.6 687.9M2237.6 687.9L2249.6 687.9M1317.6 790.1L1305.6 790.1M2237.6 790.1L2249.6 790.1M1317.6 841.2L1305.6 841.2M2237.6 841.2L2249.6 841.2" stroke="#000" stroke-width="2" fill="none"/>
<rect x="1317.6" y="228.0" width="920.0" height="638.8" fill="none" stroke="#000" stroke-width="3.8"/>
<text x="1221.54" y="238.80" font-size="32.60" textLength="54.46" lengthAdjust="spacingAndGlyphs" stroke="#000" stroke-width="1.1">10N</text>
<text x="1260.67" y="494.32" font-size="32.60" textLength="15.81" lengthAdjust="spacingAndGlyphs" stroke="#000" stroke-width="1.1">0</text>
<text x="1228.03" y="749.84" font-size="32.60" textLength="49.21" lengthAdjust="spacingAndGlyphs" stroke="#000" stroke-width="1.1">10S</text>
<text x="1286.94" y="930.60" font-size="32.60" textLength="60.20" lengthAdjust="spacingAndGlyphs" stroke="#000" stroke-width="1.1">80W</text>
<text x="1542.07" y="930.60" font-size="32.60" textLength="60.20" lengthAdjust="spacingAndGlyphs" stroke="#000" stroke-width="1.1">70W</text>
<text x="1797.97" y="930.60" font-size="32.60" textLength="60.20" lengthAdjust="spacingAndGlyphs" stroke="#000" stroke-width="1.1">60W</text>
<text x="2053.30" y="930.60" font-size="32.60" textLength="60.20" lengthAdjust="spacingAndGlyphs" stroke="#000" stroke-width="1.1">50W</text>
<rect x="2305.5" y="237.1" width="55.1" height="34.8" fill="#a50021"/>
<rect x="2305.5" y="271.6" width="55.1" height="34.8" fill="#d8152f"/>
<rect x="2305.5" y="306.1" width="55.1" height="34.8" fill="#f72735"/>
<rect x="2305.5" y="340.6" width="55.1" height="34.8" fill="#ff3d3d"/>
<rect x="2305.5" y="375.1" width="55.1" height="34.8" fill="#ff7856"/>
<rect x="2305.5" y="409.6" width="55.1" height="34.8" fill="#ffac75"/>
<rect x="2305.5" y="444.1" width="55.1" height="34.8" fill="#ffd699"/>
<rect x="2305.5" y="478.6" width="55.1" height="34.8" fill="#fff1bc"/>
<rect x="2305.5" y="513.1" width="55.1" height="34.8" fill="#ffffea"/>
<rect x="2305.5" y="547.5" width="55.1" height="34.8" fill="#eaffff"/>
<rect x="2305.5" y="582.0" width="55.1" height="34.8" fill="#bcf9ff"/>
<rect x="2305.5" y="616.5" width="55.1" height="34.8" fill="#99eaff"/>
<rect x="2305.5" y="651.0" width="55.1" height="34.8" fill="#75d3ff"/>
<rect x="2305.5" y="685.5" width="55.1" height="34.8" fill="#56b0ff"/>
<rect x="2305.5" y="720.0" width="55.1" height="34.8" fill="#3d87ff"/>
<rect x="2305.5" y="754.5" width="55.1" height="34.8" fill="#2857ff"/>
<rect x="2305.5" y="789.0" width="55.1" height="34.8" fill="#181cf7"/>
<rect x="2305.5" y="823.5" width="55.1" height="34.8" fill="#2400d8"/>
<path d="M2305.5 237.1H2360.6V858.0H2305.5ZM2305.5 271.6H2360.6M2305.5 306.1H2360.6M2305.5 340.6H2360.6M2305.5 375.1H2360.6M2305.5 409.6H2360.6M2305.5 444.1H2360.6M2305.5 478.6H2360.6M2305.5 513.1H2360.6M2305.5 547.5H2360.6M2305.5 582.0H2360.6M2305.5 616.5H2360.6M2305.5 651.0H2360.6M2305.5 685.5H2360.6M2305.5 720.0H2360.6M2305.5 754.5H2360.6M2305.5 789.0H2360.6M2305.5 823.5H2360.6" stroke="#000" stroke-width="1.9" fill="none"/>
<text x="2376.87" y="282.49" font-size="32.60" textLength="31.62" lengthAdjust="spacingAndGlyphs" stroke="#000" stroke-width="1.1">90</text>
<text x="2376.83" y="316.99" font-size="32.60" textLength="31.62" lengthAdjust="spacingAndGlyphs" stroke="#000" stroke-width="1.1">85</text>
<text x="2376.79" y="351.48" font-size="32.60" textLength="31.62" lengthAdjust="spacingAndGlyphs" stroke="#000" stroke-width="1.1">80</text>
<text x="2376.39" y="385.98" font-size="32.60" textLength="31.62" lengthAdjust="spacingAndGlyphs" stroke="#000" stroke-width="1.1">75</text>
<text x="2376.35" y="420.47" font-size="32.60" textLength="31.62" lengthAdjust="spacingAndGlyphs" stroke="#000" stroke-width="1.1">70</text>
<text x="2376.75" y="454.97" font-size="32.60" textLength="31.62" lengthAdjust="spacingAndGlyphs" stroke="#000" stroke-width="1.1">65</text>
<text x="2376.71" y="489.46" font-size="32.60" textLength="31.62" lengthAdjust="spacingAndGlyphs" stroke="#000" stroke-width="1.1">60</text>
<text x="2376.51" y="523.96" font-size="32.60" textLength="31.62" lengthAdjust="spacingAndGlyphs" stroke="#000" stroke-width="1.1">55</text>
<text x="2376.47" y="558.45" font-size="32.60" textLength="31.62" lengthAdjust="spacingAndGlyphs" stroke="#000" stroke-width="1.1">50</text>
<text x="2377.11" y="592.94" font-size="32.60" textLength="31.62" lengthAdjust="spacingAndGlyphs" stroke="#000" stroke-width="1.1">45</text>
<text x="2377.07" y="627.44" font-size="32.60" textLength="31.62" lengthAdjust="spacingAndGlyphs" stroke="#000" stroke-width="1.1">40</text>
<text x="2376.67" y="661.93" font-size="32.60" textLength="31.62" lengthAdjust="spacingAndGlyphs" stroke="#000" stroke-width="1.1">35</text>
<text x="2376.63" y="696.43" font-size="32.60" textLength="31.62" lengthAdjust="spacingAndGlyphs" stroke="#000" stroke-width="1.1">30</text>
<text x="2376.75" y="730.92" font-size="32.60" textLength="31.62" lengthAdjust="spacingAndGlyphs" stroke="#000" stroke-width="1.1">25</text>
<text x="2376.71" y="765.42" font-size="32.60" textLength="31.62" lengthAdjust="spacingAndGlyphs" stroke="#000" stroke-width="1.1">20</text>
<text x="2376.04" y="799.91" font-size="32.60" textLength="31.62" lengthAdjust="spacingAndGlyphs" stroke="#000" stroke-width="1.1">15</text>
<text x="2376.00" y="834.41" font-size="32.60" textLength="31.62" lengthAdjust="spacingAndGlyphs" stroke="#000" stroke-width="1.1">10</text>
<g clip-path="url(#clip_a2)">
<rect x="123.0" y="1007.6" width="926.0" height="644.8" fill="#2400d8"/>
<path fill="#181cf7" stroke="#181cf7" stroke-width="0.6" fill-rule="evenodd" d="M116 1660l940 0 0-660-940 0 0 655z"/>
<path fill="#2857ff" stroke="#2857ff" stroke-width="0.6" fill-rule="evenodd" d="M116 1660l940 0 0-552-46 0-51 5-71 0-16-1-15-5-13-10-4-5-6-10-1-10 4-15 6-11 5-5 14-8 20-5 26-1 51 3 51 10 46 2 0-42-588 0 0 11-5 7-5 6-10 5-20 1-26-1-20-4-17-9-13-5 0-11-144 0 0 11-5 2-11 4-30 1-16-1-10-3-7-3 0-11-13 0 0 98 10 0 10 10 6 10 7 15 7 26 10 25 3 16-1 5-27 13-5 4-6 8-4 13-10 0 0 412zM238 1151l-5-5-2-8 2-5 8-5 8-2 10 0 12 2 13 5 6 5-3 5-10 6-18 4-15 0zM571 1159l-11-4-5-5-3-7-1-10 4-14 5-7 6-4 10-2 10 4 21 13 10 10 1 5-2 5-4 4-11 6-15 5-10 1z"/>
<path fill="#3d87ff" stroke="#3d87ff" stroke-width="0.6" fill-rule="evenodd" d="M116 1660l940 0 0-407-36 0-15 1-20 7-72 33-10 3-10 1-16-4-10-6-5-5-7-12-2-15-2-56-2-11-5-10-8-7-27-18-29-23-10-4-5 0-15 4-22 12-11 6-29 9-15 7-26 7-35 7-36 4-21-2-10-4-10-7-7-6-6-10-8-16-5-5-5 2-11 14-6 5-8 5-11 2-20 2-56 0-26 2-116 19-17 9-19 17-9 5-38 9-10 3-11 6-5 5-4 8-5 15-4 61-2 15-10 0 0 318zM302 1108l18 1 10-1 11-4 7-7 5-10 2-10-1-15-3-11-5-9-5-6-11-7-10-4-51-8-20 0-11 4-10 7-36 34-4 10 1 10 2 5 6 5 16 7 51 4 36 4zM629 1077l3 3 5 2 5-3 1-12-2-5-4-4-5 2-1 2-3 10zM504 1011l5 4 16-3 2-1 0-11-23 0 0 5z"/>
<path fill="#56b0ff" stroke="#56b0ff" stroke-width="0.6" fill-rule="evenodd" d="M116 1660l125 0 0-11-20-20 0-26-6-5 0-5-5-5 0-5-15-15 0-5-5-6 0-5-5-5 0-10-16-15 0-11-5-5 0-10-5-5 0-5-25-26 0-10-8-8-10 0 0 213zM250 1660l806 0 0-362-36 0-15 2-15 5-31 14-31 10-15 3-25 1-11-2-15-6-36-21-11-12-5-11-2-10 1-66-1-10-7-11-11-10-15-7-10-2-26 4-46 14-22 12-24 17-5 2-10 2-46-3-51-1-17-2-14-4-17-11-11-6-13-4-10-1-36 0-41 5-16 6-7 5-2 2-6 18-6 31-4 15-5 10-5 6-5 2-10-2-10-5-46-29-16-15-10-4-15-1-31 3-17 4-13 8-7 8-5 15-4 56-3 16-7 15-10 0 0 81 5-5 10 0 16 16 0 10 21 21 0 5 5 5 0 5 5 5 0 10 5 5 0 6 5 5 0 5 11 10 0 10 5 5 0 5 20 21 0 10 5 5 0 10 5 6 0 15 16 15 0 5 5 5-1 6zM301 1077l14 2 5-1 1-1 1-5-2-5-5-1-10 2-7 4 2 3z"/>
<path fill="#75d3ff" stroke="#75d3ff" stroke-width="0.6" fill-rule="evenodd" d="M116 1660l120 0-25-26 0-25-6-6 0-5-5-5 0-5-15-15 0-5-5-5 0-6-5-5 0-5-5-5 0-5-11-10 0-10-5-6 0-10-5-5 0-5-25-26 0-10-8-8 0 208zM252 1660l804 0 0-316-41 1-10 5-30 23-11 5-10 1-10-2-21-8-15-4-41-3-46-11-21-8-30-17-5-1-10 3-20 10-11 3-10 2-16 1-7-1-10-5-18-20-11-9-10-5-15-3-8-4-9-10-16-26-4-5-9-6-10-1-21 2-36 8-10 0-20-5-31-13-10-1-5 2-6 4-5 5-4 10-1 6 2 9 4 9 5 7 5 4 5 2 5 0 20-2 36-10 5 0 5 2 6 4 2 5 6 15 2 15 0 6-3 5-8 5-10 2-71 1-16 4-30 13-10 2-46 5-21 1-10-3-15-10-36-45-5-7-5-11-13-34-7-10-5-5-6-3-10-3-11-1-15 2-10 4-10 8-6 8-4 20-4 46-4 16-5 10-8 12-10 0 0 67 5-5 10 0 18 18 0 10 21 21 0 5 5 5 0 5 5 5 0 10 5 5 0 6 5 5 0 5 10 10 0 10 6 5 0 5 20 21 0 10 5 5 0 10 5 6 0 15 16 15 0 5 5 5 0 6-3 2z"/>
<path fill="#99eaff" stroke="#99eaff" stroke-width="0.6" fill-rule="evenodd" d="M253 1660l803 0 0-248-41 0-41 5-20 1-15-5-26-14-15-6-77-1-51-8-36-2-153-3-21 1-30 9-16 3-76 1-10 3-31 12-15 3-26 0-51-5-15-4-16-6-10-7-10-10-5-8-5-15-20-69-7-21-4-6-5-5-9-4-7-1-10 0-10 4-8 7-2 5-5 21-5 40-3 16-8 15-15 21-10 0 0 51 5-5 10 0 20 20 0 10 21 21 0 5 5 5 0 5 5 5 0 10 5 5 0 6 5 5 0 5 10 10 0 10 5 5 0 5 21 21 0 10 5 5 0 10 5 6 0 15 15 15 0 5 6 5 0 6-5 4zM213 1549l-2-2-1-5-6-5 4-1 7 1-1 10z"/>
<path fill="#bcf9ff" stroke="#bcf9ff" stroke-width="0.6" fill-rule="evenodd" d="M272 1660l784 0 0-215-102-1-15-2-36-10-10-1-21 1-41 7-30 3-82 5-82 1-14-3-32-15-15-3-16 2-30 8-16 2-15 0-36-5-20-1-10 1-41 9-10 0-11-1-41-12-35-7-30-9-16-5-11-8-5-7-5-15-10-52-10-39-5-12-5-7-6-3-5 0-5 2-2 3-6 10-3 11-7 35-5 21-5 10-19 31 0 10 1 20 5 7 2 4 10 10 0 10 25 26 0 10 5 5 0 5 6 5 0 10 10 11 0 5 9 8 16 2-2 26 8 10 0 5 5 5 0 10 5 5 1 11 5 5 0 10 17 15 1 5 8 5 0 6z"/>
<path fill="#eaffff" stroke="#eaffff" stroke-width="0.6" fill-rule="evenodd" d="M300 1660l756 0 0-191-46 0-122-6-108 13-76 5-77-3-12-2-29-10-10-2-16 1-46 6-18 0-48-8-15 1-41 6-21 0-20-6-29-14-13-5-65-21-17-10-10-10-5-10-14-56-6-10-5 0-5 8-11 32-14 29-4 28-7 1-2 4 10 10 0 10 26 26 0 10 5 5 0 5 5 5 0 10 10 11 0 5 8 7 15 1 10 2 0 41 5 5 0 10 5 5 0 11 6 5 30 8 11 6 7 11 3 10 0 6z"/>
<path fill="#ffffea" stroke="#ffffea" stroke-width="0.6" fill-rule="evenodd" d="M354 1660l702 0 0-173-46-1-61-3-61 1-154 16-30 2-77-4-51-8-72 3-56-8-20 1-52 6-20 1-15-3-16 2-15-4-20-10-11-8-12-15-7-5-32-14-30-17-11-1-6 1-7 6-28 3 0 2 10 10 0 10 25 26 0 10 5 5 0 5 6 5 0 10 10 11 0 5 6 6 25 1 13 3 3 24 5 8 15-3 46-17 5 0 5 3 5 11 2 10 4 46 3 15 5 10 10 5 0 6zM218 1476l0-1 2 1zM238 1513l-8-7 1-5-11-10 3-14 9 4 5 5 4 10 2 15zM244 1527l0-15 1 15z"/>
<path fill="#fff1bc" stroke="#fff1bc" stroke-width="0.6" fill-rule="evenodd" d="M390 1660l666 0 0-157-46-1-61-3-77 4-56 5-82 11-25 2-26 0-107-7-67-1-61-8-31 2-41 8-10 5-5 3-5 6-4 8-2 10-2 16 0 35 5 21 6 10 7 7 21 10 3 3 0 6z"/>
<path fill="#ffd699" stroke="#ffd699" stroke-width="0.6" fill-rule="evenodd" d="M400 1660l656 0 0-142-46 0-56-2-128 10-56 8-56 4-148 1-62-4-56-9-20 1-21 4-25 8-11 7-7 11-4 21 1 20 5 16 9 10 12 7 5 5 8 13 0 6z"/>
<path fill="#ffac75" stroke="#ffac75" stroke-width="0.6" fill-rule="evenodd" d="M407 1660l649 0 0-126-71 1-41 3-56 6-62-1-56 9-87 3-107 10-21-1-97-14-46 0-19 7-11 9-6 8-1 9 0 10 2 5 20 26 9 20 1 5 0 6z"/>
<path fill="#ff7856" stroke="#ff7856" stroke-width="0.6" fill-rule="evenodd" d="M414 1660l642 0 0-113-51 2-17 3-29 8-56 8-21 0-30-6-21-2-20 3-31 8-15 3-51-3-21 1-15 2-41 11-31 4-20 1-20 0-46-9-52-6-20-2-31 1-6 4-3 5 0 5 6 67z"/>
<path fill="#ff3d3d" stroke="#ff3d3d" stroke-width="0.6" fill-rule="evenodd" d="M422 1660l300 0 0-16-4-15-7-10-8-5-10-2-10 1-41 8-25 0-46-5-41-12-16-3-51-3-20 0-5 1-5 4-5 6-4 10-2 10 0 26zM793 1660l263 0 0-99-36 1-15 3-17 8-29 19-36 11-20 4-10 1-11-2-35-17-11-4-10 0-5 1-5 2-6 5-5 5-5 11-6 20-1 26z"/>
<path fill="#f72735" stroke="#f72735" stroke-width="0.6" fill-rule="evenodd" d="M430 1660l163 0 0-11-7-3-56-22-16-3-15-1-31 0-25 4-5 4-5 9-3 12 0 6zM824 1660l15 0 0-11-2-5-6-3-5 1-2 13zM953 1660l103 0 0-80-30 3-11 3-5 3-20 20-26 30-11 10 0 6z"/>
<path fill="#d8152f" stroke="#d8152f" stroke-width="0.6" fill-rule="evenodd" d="M445 1660l97 0 0-11-17-7-16-2-25 1-23 3-16 5 0 6z"/>
</g>
<path d="M125.7 1031.4L135.7 1020.2L153.0 1020.2L170.2 1028.0L189.2 1047.0L208.2 1067.6L208.2 1046.1L225.4 1026.3L239.2 1022.8L239.2 1009.0M125.7 1052.1L139.2 1034.9L149.5 1035.7L159.9 1043.5L165.1 1052.1L173.7 1053.8L165.1 1060.7L170.2 1076.3L190.9 1097.0L190.9 1121.1L193.5 1152.1L190.1 1164.2L199.5 1172.8L190.9 1183.2L185.7 1197.0L168.5 1198.7L160.6 1209.3L160.6 1214.8L162.8 1219.2L161.7 1223.7L152.8 1222.6L151.2 1227.0L155.1 1232.5L155.1 1235.9L126.2 1249.2M125.7 1071.1L128.0 1073.4L125.7 1076.3M125.1 1329.0L136.2 1330.1L126.2 1352.2M125.6 1441.5L134.7 1450.6L137.0 1465.4L149.6 1475.7L158.7 1487.1L164.4 1500.8L171.2 1521.3L184.9 1540.7L190.6 1557.8L200.9 1573.8L211.2 1585.2L222.6 1614.8L221.4 1629.7L240.8 1650.4M330.2 1009.0L328.0 1017.6L335.7 1026.3L336.6 1038.3L354.7 1034.0L354.7 1015.9L349.5 1009.0M571.6 1009.8L575.8 1018.2L586.3 1017.2L611.4 1022.4L615.6 1034.9L609.3 1052.7L630.2 1046.5L670.0 1071.6L676.3 1084.2L673.1 1094.6L684.7 1091.5L702.2 1103.7L711.3 1115.1L722.7 1118.5L743.2 1117.4L752.3 1115.1L768.2 1115.1L791.0 1120.8L811.5 1127.6L827.5 1137.9L848.0 1151.5L867.4 1169.8L867.4 1185.7L875.3 1203.9L879.9 1219.9L895.8 1221.0L895.0 1238.4L882.5 1250.4L871.0 1260.1L861.1 1268.6L857.5 1280.0L856.1 1298.4L869.6 1292.7L876.7 1309.7L881.6 1277.1L890.8 1271.5L905.0 1271.5L920.6 1271.5L931.9 1273.6L926.2 1302.6L931.9 1305.5L940.4 1288.5L948.9 1284.2L964.5 1284.2L978.6 1291.3L1005.5 1298.4L1011.2 1309.7L1023.9 1304.8L1033.8 1323.9L1033.1 1338.0L1048.5 1335.2M585.5 1011.4L608.5 1011.4" stroke="#000" stroke-width="5.6" stroke-linejoin="round" stroke-linecap="round" fill="none" clip-path="url(#clip_a2)"/>
<path d="M126.0 1010.6L126.0 989.6M126.0 1649.4L126.0 1670.4M381.6 1010.6L381.6 989.6M381.6 1649.4L381.6 1670.4M637.1 1010.6L637.1 989.6M637.1 1649.4L637.1 1670.4M892.7 1010.6L892.7 989.6M892.7 1649.4L892.7 1670.4M126.0 1010.6L105.0 1010.6M1046.0 1010.6L1067.0 1010.6M126.0 1266.1L105.0 1266.1M1046.0 1266.1L1067.0 1266.1M126.0 1521.6L105.0 1521.6M1046.0 1521.6L1067.0 1521.6" stroke="#000" stroke-width="3.6" stroke-linecap="round" fill="none"/>
<path d="M177.1 1010.6L177.1 998.6M177.1 1649.4L177.1 1661.4M228.2 1010.6L228.2 998.6M228.2 1649.4L228.2 1661.4M279.3 1010.6L279.3 998.6M279.3 1649.4L279.3 1661.4M330.4 1010.6L330.4 998.6M330.4 1649.4L330.4 1661.4M432.7 1010.6L432.7 998.6M432.7 1649.4L432.7 1661.4M483.8 1010.6L483.8 998.6M483.8 1649.4L483.8 1661.4M534.9 1010.6L534.9 998.6M534.9 1649.4L534.9 1661.4M586.0 1010.6L586.0 998.6M586.0 1649.4L586.0 1661.4M688.2 1010.6L688.2 998.6M688.2 1649.4L688.2 1661.4M739.3 1010.6L739.3 998.6M739.3 1649.4L739.3 1661.4M790.4 1010.6L790.4 998.6M790.4 1649.4L790.4 1661.4M841.6 1010.6L841.6 998.6M841.6 1649.4L841.6 1661.4M943.8 1010.6L943.8 998.6M943.8 1649.4L943.8 1661.4M994.9 1010.6L994.9 998.6M994.9 1649.4L994.9 1661.4M1046.0 1010.6L1046.0 998.6M1046.0 1649.4L1046.0 1661.4M126.0 1061.7L114.0 1061.7M1046.0 1061.7L1058.0 1061.7M126.0 1112.8L114.0 1112.8M1046.0 1112.8L1058.0 1112.8M126.0 1163.9L114.0 1163.9M1046.0 1163.9L1058.0 1163.9M126.0 1215.0L114.0 1215.0M1046.0 1215.0L1058.0 1215.0M126.0 1317.2L114.0 1317.2M1046.0 1317.2L1058.0 1317.2M126.0 1368.3L114.0 1368.3M1046.0 1368.3L1058.0 1368.3M126.0 1419.4L114.0 1419.4M1046.0 1419.4L1058.0 1419.4M126.0 1470.5L114.0 1470.5M1046.0 1470.5L1058.0 1470.5M126.0 1572.7L114.0 1572.7M1046.0 1572.7L1058.0 1572.7M126.0 1623.8L114.0 1623.8M1046.0 1623.8L1058.0 1623.8" stroke="#000" stroke-width="2" fill="none"/>
<rect x="126.0" y="1010.6" width="920.0" height="638.8" fill="none" stroke="#000" stroke-width="3.8"/>
<text x="29.94" y="1021.40" font-size="32.60" textLength="54.46" lengthAdjust="spacingAndGlyphs" stroke="#000" stroke-width="1.1">10N</text>
<text x="69.07" y="1276.92" font-size="32.60" textLength="15.81" lengthAdjust="spacingAndGlyphs" stroke="#000" stroke-width="1.1">0</text>
<text x="36.43" y="1532.44" font-size="32.60" textLength="49.21" lengthAdjust="spacingAndGlyphs" stroke="#000" stroke-width="1.1">10S</text>
<text x="95.34" y="1713.20" font-size="32.60" textLength="60.20" lengthAdjust="spacingAndGlyphs" stroke="#000" stroke-width="1.1">80W</text>
<text x="350.47" y="1713.20" font-size="32.60" textLength="60.20" lengthAdjust="spacingAndGlyphs" stroke="#000" stroke-width="1.1">70W</text>
<text x="606.37" y="1713.20" font-size="32.60" textLength="60.20" lengthAdjust="spacingAndGlyphs" stroke="#000" stroke-width="1.1">60W</text>
<text x="861.70" y="1713.20" font-size="32.60" textLength="60.20" lengthAdjust="spacingAndGlyphs" stroke="#000" stroke-width="1.1">50W</text>
<rect x="1111.0" y="1020.0" width="54.0" height="34.8" fill="#a50021"/>
<rect x="1111.0" y="1054.5" width="54.0" height="34.8" fill="#d8152f"/>
<rect x="1111.0" y="1089.0" width="54.0" height="34.8" fill="#f72735"/>
<rect x="1111.0" y="1123.5" width="54.0" height="34.8" fill="#ff3d3d"/>
<rect x="1111.0" y="1158.0" width="54.0" height="34.8" fill="#ff7856"/>
<rect x="1111.0" y="1192.5" width="54.0" height="34.8" fill="#ffac75"/>
<rect x="1111.0" y="1227.0" width="54.0" height="34.8" fill="#ffd699"/>
<rect x="1111.0" y="1261.5" width="54.0" height="34.8" fill="#fff1bc"/>
<rect x="1111.0" y="1296.0" width="54.0" height="34.8" fill="#ffffea"/>
<rect x="1111.0" y="1330.5" width="54.0" height="34.8" fill="#eaffff"/>
<rect x="1111.0" y="1365.0" width="54.0" height="34.8" fill="#bcf9ff"/>
<rect x="1111.0" y="1399.5" width="54.0" height="34.8" fill="#99eaff"/>
<rect x="1111.0" y="1434.0" width="54.0" height="34.8" fill="#75d3ff"/>
<rect x="1111.0" y="1468.5" width="54.0" height="34.8" fill="#56b0ff"/>
<rect x="1111.0" y="1503.0" width="54.0" height="34.8" fill="#3d87ff"/>
<rect x="1111.0" y="1537.5" width="54.0" height="34.8" fill="#2857ff"/>
<rect x="1111.0" y="1572.0" width="54.0" height="34.8" fill="#181cf7"/>
<rect x="1111.0" y="1606.5" width="54.0" height="34.8" fill="#2400d8"/>
<path d="M1111.0 1020.0H1165.0V1641.0H1111.0ZM1111.0 1054.5H1165.0M1111.0 1089.0H1165.0M1111.0 1123.5H1165.0M1111.0 1158.0H1165.0M1111.0 1192.5H1165.0M1111.0 1227.0H1165.0M1111.0 1261.5H1165.0M1111.0 1296.0H1165.0M1111.0 1330.5H1165.0M1111.0 1365.0H1165.0M1111.0 1399.5H1165.0M1111.0 1434.0H1165.0M1111.0 1468.5H1165.0M1111.0 1503.0H1165.0M1111.0 1537.5H1165.0M1111.0 1572.0H1165.0M1111.0 1606.5H1165.0" stroke="#000" stroke-width="1.9" fill="none"/>
<text x="1193.09" y="1065.40" font-size="32.60" textLength="15.81" lengthAdjust="spacingAndGlyphs" stroke="#000" stroke-width="1.1">8</text>
<text x="1180.84" y="1099.90" font-size="32.60" textLength="39.53" lengthAdjust="spacingAndGlyphs" stroke="#000" stroke-width="1.1">7.5</text>
<text x="1192.50" y="1134.40" font-size="32.60" textLength="15.81" lengthAdjust="spacingAndGlyphs" stroke="#000" stroke-width="1.1">7</text>
<text x="1181.20" y="1168.90" font-size="32.60" textLength="39.53" lengthAdjust="spacingAndGlyphs" stroke="#000" stroke-width="1.1">6.5</text>
<text x="1192.90" y="1203.40" font-size="32.60" textLength="15.81" lengthAdjust="spacingAndGlyphs" stroke="#000" stroke-width="1.1">6</text>
<text x="1180.96" y="1237.90" font-size="32.60" textLength="39.53" lengthAdjust="spacingAndGlyphs" stroke="#000" stroke-width="1.1">5.5</text>
<text x="1192.82" y="1272.40" font-size="32.60" textLength="15.81" lengthAdjust="spacingAndGlyphs" stroke="#000" stroke-width="1.1">5</text>
<text x="1181.55" y="1306.90" font-size="32.60" textLength="39.53" lengthAdjust="spacingAndGlyphs" stroke="#000" stroke-width="1.1">4.5</text>
<text x="1193.02" y="1341.40" font-size="32.60" textLength="15.81" lengthAdjust="spacingAndGlyphs" stroke="#000" stroke-width="1.1">4</text>
<text x="1181.12" y="1375.90" font-size="32.60" textLength="39.53" lengthAdjust="spacingAndGlyphs" stroke="#000" stroke-width="1.1">3.5</text>
<text x="1192.98" y="1410.40" font-size="32.60" textLength="15.81" lengthAdjust="spacingAndGlyphs" stroke="#000" stroke-width="1.1">3</text>
<text x="1181.20" y="1444.90" font-size="32.60" textLength="39.53" lengthAdjust="spacingAndGlyphs" stroke="#000" stroke-width="1.1">2.5</text>
<text x="1193.29" y="1479.40" font-size="32.60" textLength="15.81" lengthAdjust="spacingAndGlyphs" stroke="#000" stroke-width="1.1">2</text>
<text x="1180.49" y="1513.90" font-size="32.60" textLength="39.53" lengthAdjust="spacingAndGlyphs" stroke="#000" stroke-width="1.1">1.5</text>
<text x="1192.66" y="1548.40" font-size="32.60" textLength="15.81" lengthAdjust="spacingAndGlyphs" stroke="#000" stroke-width="1.1">1</text>
<text x="1181.28" y="1582.90" font-size="32.60" textLength="39.53" lengthAdjust="spacingAndGlyphs" stroke="#000" stroke-width="1.1">0.5</text>
<text x="1193.09" y="1617.40" font-size="32.60" textLength="15.81" lengthAdjust="spacingAndGlyphs" stroke="#000" stroke-width="1.1">0</text>
<g clip-path="url(#clip_b2)">
<rect x="1314.6" y="1007.6" width="926.0" height="644.8" fill="#2400d8"/>
<path fill="#181cf7" stroke="#181cf7" stroke-width="0.6" fill-rule="evenodd" d="M1318 1011l958 0 0 638-958 0 0-575z"/>
<path fill="#2857ff" stroke="#2857ff" stroke-width="0.6" fill-rule="evenodd" d="M1343 1011l933 0 0 103-64-2-64 1-42 25 42 60 8 4 56 16 64 2 0 429-958 0 0-300 46 45-14 64 16 64 15 10 6-10 24-64-1-64-4-64 18-64-19-64-24-32-63-27 0-111zM1701 1049l-32 25 32 16 55 48 9 5 14-5 12-64-26-27z"/>
<path fill="#3d87ff" stroke="#3d87ff" stroke-width="0.6" fill-rule="evenodd" d="M1440 1074l5-4 64-19 64 5 16 18 48 22 64 31 13 11 51 29 64-18 64-8 63 7 64 38 19 16 45 22 64 27 28 15 36 12 64 4 0 367-812 0-22-63 2-64 33-64 14-64 18-26 64 20 5 6 59 42 64-21 64-25 24-60-24-19-64-2-64-13-64 17-64-15-17-32-24-64-17-64-6-42zM1786 1011l68 0-22 63-3 6-1-6zM2135 1011l141 0 0 42-64-10-64-20zM1318 1394l0-4 4 4-4 11zM1318 1586l0-3 63 34 46 32-109 0z"/>
<path fill="#56b0ff" stroke="#56b0ff" stroke-width="0.6" fill-rule="evenodd" d="M1504 1138l5-8 64-29 78 37 50 38 64 14 64-6 64 1 63 12 8 5 56 62 24 2 40 2 64 17 64 22 64 7 0 335-721 0 5-63 13-16 64-21 64-17 64-32 32-42 17-64 15-35 10-29-10-19-64-41-64-3-5-1-59-32-64 11-51-43-13-32zM1318 1649l0-6 10 6z"/>
<path fill="#75d3ff" stroke="#75d3ff" stroke-width="0.6" fill-rule="evenodd" d="M1567 1138l6-3 7 3-7 9zM1880 1266l13-9 32 9 31 14 64 22 64-4 64 14 49 18 15 11 64 21 0 287-410 0 11-63 5-64-5-64 8-64-3-64zM1630 1649l7-9 64-9 64 2 8 16-136 0z"/>
<path fill="#99eaff" stroke="#99eaff" stroke-width="0.6" fill-rule="evenodd" d="M2074 1330l10-2 8 2 56 26 58 38 6 9 64 51 0 195-343 0 23-54 43-73-35-64 2-64 54-35z"/>
<path fill="#bcf9ff" stroke="#bcf9ff" stroke-width="0.6" fill-rule="evenodd" d="M2080 1394l4-3 6 3-6 6zM2252 1522l24-2 0 129-275 0 19-27 64-32 64-36 64-30z"/>
<path fill="#eaffff" stroke="#eaffff" stroke-width="0.6" fill-rule="evenodd" d="M2196 1586l16-11 64-11 0 85-155 0 27-21z"/>
<path fill="#ffffea" stroke="#ffffea" stroke-width="0.6" fill-rule="evenodd" d="M2176 1649l36-33 64-15 0 48-64 0z"/>
<path fill="#fff1bc" stroke="#fff1bc" stroke-width="0.6" fill-rule="evenodd" d="M2223 1649l53-16 0 16z"/>
</g>
<path d="M1317.3 1031.4L1327.3 1020.2L1344.6 1020.2L1361.8 1028.0L1380.8 1047.0L1399.8 1067.6L1399.8 1046.1L1417.0 1026.3L1430.8 1022.8L1430.8 1009.0M1317.3 1052.1L1330.8 1034.9L1341.1 1035.7L1351.5 1043.5L1356.7 1052.1L1365.3 1053.8L1356.7 1060.7L1361.8 1076.3L1382.5 1097.0L1382.5 1121.1L1385.1 1152.1L1381.7 1164.2L1391.1 1172.8L1382.5 1183.2L1377.3 1197.0L1360.1 1198.7L1352.2 1209.3L1352.2 1214.8L1354.4 1219.2L1353.3 1223.7L1344.4 1222.6L1342.8 1227.0L1346.7 1232.5L1346.7 1235.9L1317.8 1249.2M1317.3 1071.1L1319.6 1073.4L1317.3 1076.3M1316.7 1329.0L1327.8 1330.1L1317.8 1352.2M1317.2 1441.5L1326.3 1450.6L1328.6 1465.4L1341.2 1475.7L1350.3 1487.1L1356.0 1500.8L1362.8 1521.3L1376.5 1540.7L1382.2 1557.8L1392.5 1573.8L1402.8 1585.2L1414.2 1614.8L1413.0 1629.7L1432.4 1650.4M1521.8 1009.0L1519.6 1017.6L1527.3 1026.3L1528.2 1038.3L1546.3 1034.0L1546.3 1015.9L1541.1 1009.0M1763.2 1009.8L1767.4 1018.2L1777.9 1017.2L1803.0 1022.4L1807.2 1034.9L1800.9 1052.7L1821.8 1046.5L1861.6 1071.6L1867.9 1084.2L1864.7 1094.6L1876.3 1091.5L1893.8 1103.7L1902.9 1115.1L1914.3 1118.5L1934.8 1117.4L1943.9 1115.1L1959.8 1115.1L1982.6 1120.8L2003.1 1127.6L2019.1 1137.9L2039.6 1151.5L2059.0 1169.8L2059.0 1185.7L2066.9 1203.9L2071.5 1219.9L2087.4 1221.0L2086.6 1238.4L2074.1 1250.4L2062.6 1260.1L2052.7 1268.6L2049.1 1280.0L2047.7 1298.4L2061.2 1292.7L2068.3 1309.7L2073.2 1277.1L2082.4 1271.5L2096.6 1271.5L2112.2 1271.5L2123.5 1273.6L2117.8 1302.6L2123.5 1305.5L2132.0 1288.5L2140.5 1284.2L2156.1 1284.2L2170.2 1291.3L2197.1 1298.4L2202.8 1309.7L2215.5 1304.8L2225.4 1323.9L2224.7 1338.0L2240.1 1335.2M1777.1 1011.4L1800.1 1011.4" stroke="#000" stroke-width="5.6" stroke-linejoin="round" stroke-linecap="round" fill="none" clip-path="url(#clip_b2)"/>
<path d="M1317.6 1010.6L1317.6 989.6M1317.6 1649.4L1317.6 1670.4M1573.2 1010.6L1573.2 989.6M1573.2 1649.4L1573.2 1670.4M1828.7 1010.6L1828.7 989.6M1828.7 1649.4L1828.7 1670.4M2084.3 1010.6L2084.3 989.6M2084.3 1649.4L2084.3 1670.4M1317.6 1010.6L1296.6 1010.6M2237.6 1010.6L2258.6 1010.6M1317.6 1266.1L1296.6 1266.1M2237.6 1266.1L2258.6 1266.1M1317.6 1521.6L1296.6 1521.6M2237.6 1521.6L2258.6 1521.6" stroke="#000" stroke-width="3.6" stroke-linecap="round" fill="none"/>
<path d="M1368.7 1010.6L1368.7 998.6M1368.7 1649.4L1368.7 1661.4M1419.8 1010.6L1419.8 998.6M1419.8 1649.4L1419.8 1661.4M1470.9 1010.6L1470.9 998.6M1470.9 1649.4L1470.9 1661.4M1522.0 1010.6L1522.0 998.6M1522.0 1649.4L1522.0 1661.4M1624.3 1010.6L1624.3 998.6M1624.3 1649.4L1624.3 1661.4M1675.4 1010.6L1675.4 998.6M1675.4 1649.4L1675.4 1661.4M1726.5 1010.6L1726.5 998.6M1726.5 1649.4L1726.5 1661.4M1777.6 1010.6L1777.6 998.6M1777.6 1649.4L1777.6 1661.4M1879.8 1010.6L1879.8 998.6M1879.8 1649.4L1879.8 1661.4M1930.9 1010.6L1930.9 998.6M1930.9 1649.4L1930.9 1661.4M1982.0 1010.6L1982.0 998.6M1982.0 1649.4L1982.0 1661.4M2033.2 1010.6L2033.2 998.6M2033.2 1649.4L2033.2 1661.4M2135.4 1010.6L2135.4 998.6M2135.4 1649.4L2135.4 1661.4M2186.5 1010.6L2186.5 998.6M2186.5 1649.4L2186.5 1661.4M2237.6 1010.6L2237.6 998.6M2237.6 1649.4L2237.6 1661.4M1317.6 1061.7L1305.6 1061.7M2237.6 1061.7L2249.6 1061.7M1317.6 1112.8L1305.6 1112.8M2237.6 1112.8L2249.6 1112.8M1317.6 1163.9L1305.6 1163.9M2237.6 1163.9L2249.6 1163.9M1317.6 1215.0L1305.6 1215.0M2237.6 1215.0L2249.6 1215.0M1317.6 1317.2L1305.6 1317.2M2237.6 1317.2L2249.6 1317.2M1317.6 1368.3L1305.6 1368.3M2237.6 1368.3L2249.6 1368.3M1317.6 1419.4L1305.6 1419.4M2237.6 1419.4L2249.6 1419.4M1317.6 1470.5L1305.6 1470.5M2237.6 1470.5L2249.6 1470.5M1317.6 1572.7L1305.6 1572.7M2237.6 1572.7L2249.6 1572.7M1317.6 1623.8L1305.6 1623.8M2237.6 1623.8L2249.6 1623.8" stroke="#000" stroke-width="2" fill="none"/>
<rect x="1317.6" y="1010.6" width="920.0" height="638.8" fill="none" stroke="#000" stroke-width="3.8"/>
<text x="1221.54" y="1021.40" font-size="32.60" textLength="54.46" lengthAdjust="spacingAndGlyphs" stroke="#000" stroke-width="1.1">10N</text>
<text x="1260.67" y="1276.92" font-size="32.60" textLength="15.81" lengthAdjust="spacingAndGlyphs" stroke="#000" stroke-width="1.1">0</text>
<text x="1228.03" y="1532.44" font-size="32.60" textLength="49.21" lengthAdjust="spacingAndGlyphs" stroke="#000" stroke-width="1.1">10S</text>
<text x="1286.94" y="1713.20" font-size="32.60" textLength="60.20" lengthAdjust="spacingAndGlyphs" stroke="#000" stroke-width="1.1">80W</text>
<text x="1542.07" y="1713.20" font-size="32.60" textLength="60.20" lengthAdjust="spacingAndGlyphs" stroke="#000" stroke-width="1.1">70W</text>
<text x="1797.97" y="1713.20" font-size="32.60" textLength="60.20" lengthAdjust="spacingAndGlyphs" stroke="#000" stroke-width="1.1">60W</text>
<text x="2053.30" y="1713.20" font-size="32.60" textLength="60.20" lengthAdjust="spacingAndGlyphs" stroke="#000" stroke-width="1.1">50W</text>
<rect x="2302.6" y="1020.0" width="54.0" height="34.8" fill="#a50021"/>
<rect x="2302.6" y="1054.5" width="54.0" height="34.8" fill="#d8152f"/>
<rect x="2302.6" y="1089.0" width="54.0" height="34.8" fill="#f72735"/>
<rect x="2302.6" y="1123.5" width="54.0" height="34.8" fill="#ff3d3d"/>
<rect x="2302.6" y="1158.0" width="54.0" height="34.8" fill="#ff7856"/>
<rect x="2302.6" y="1192.5" width="54.0" height="34.8" fill="#ffac75"/>
<rect x="2302.6" y="1227.0" width="54.0" height="34.8" fill="#ffd699"/>
<rect x="2302.6" y="1261.5" width="54.0" height="34.8" fill="#fff1bc"/>
<rect x="2302.6" y="1296.0" width="54.0" height="34.8" fill="#ffffea"/>
<rect x="2302.6" y="1330.5" width="54.0" height="34.8" fill="#eaffff"/>
<rect x="2302.6" y="1365.0" width="54.0" height="34.8" fill="#bcf9ff"/>
<rect x="2302.6" y="1399.5" width="54.0" height="34.8" fill="#99eaff"/>
<rect x="2302.6" y="1434.0" width="54.0" height="34.8" fill="#75d3ff"/>
<rect x="2302.6" y="1468.5" width="54.0" height="34.8" fill="#56b0ff"/>
<rect x="2302.6" y="1503.0" width="54.0" height="34.8" fill="#3d87ff"/>
<rect x="2302.6" y="1537.5" width="54.0" height="34.8" fill="#2857ff"/>
<rect x="2302.6" y="1572.0" width="54.0" height="34.8" fill="#181cf7"/>
<rect x="2302.6" y="1606.5" width="54.0" height="34.8" fill="#2400d8"/>
<path d="M2302.6 1020.0H2356.6V1641.0H2302.6ZM2302.6 1054.5H2356.6M2302.6 1089.0H2356.6M2302.6 1123.5H2356.6M2302.6 1158.0H2356.6M2302.6 1192.5H2356.6M2302.6 1227.0H2356.6M2302.6 1261.5H2356.6M2302.6 1296.0H2356.6M2302.6 1330.5H2356.6M2302.6 1365.0H2356.6M2302.6 1399.5H2356.6M2302.6 1434.0H2356.6M2302.6 1468.5H2356.6M2302.6 1503.0H2356.6M2302.6 1537.5H2356.6M2302.6 1572.0H2356.6M2302.6 1606.5H2356.6" stroke="#000" stroke-width="1.9" fill="none"/>
<text x="2384.69" y="1065.40" font-size="32.60" textLength="15.81" lengthAdjust="spacingAndGlyphs" stroke="#000" stroke-width="1.1">8</text>
<text x="2372.44" y="1099.90" font-size="32.60" textLength="39.53" lengthAdjust="spacingAndGlyphs" stroke="#000" stroke-width="1.1">7.5</text>
<text x="2384.10" y="1134.40" font-size="32.60" textLength="15.81" lengthAdjust="spacingAndGlyphs" stroke="#000" stroke-width="1.1">7</text>
<text x="2372.80" y="1168.90" font-size="32.60" textLength="39.53" lengthAdjust="spacingAndGlyphs" stroke="#000" stroke-width="1.1">6.5</text>
<text x="2384.50" y="1203.40" font-size="32.60" textLength="15.81" lengthAdjust="spacingAndGlyphs" stroke="#000" stroke-width="1.1">6</text>
<text x="2372.56" y="1237.90" font-size="32.60" textLength="39.53" lengthAdjust="spacingAndGlyphs" stroke="#000" stroke-width="1.1">5.5</text>
<text x="2384.42" y="1272.40" font-size="32.60" textLength="15.81" lengthAdjust="spacingAndGlyphs" stroke="#000" stroke-width="1.1">5</text>
<text x="2373.15" y="1306.90" font-size="32.60" textLength="39.53" lengthAdjust="spacingAndGlyphs" stroke="#000" stroke-width="1.1">4.5</text>
<text x="2384.62" y="1341.40" font-size="32.60" textLength="15.81" lengthAdjust="spacingAndGlyphs" stroke="#000" stroke-width="1.1">4</text>
<text x="2372.72" y="1375.90" font-size="32.60" textLength="39.53" lengthAdjust="spacingAndGlyphs" stroke="#000" stroke-width="1.1">3.5</text>
<text x="2384.58" y="1410.40" font-size="32.60" textLength="15.81" lengthAdjust="spacingAndGlyphs" stroke="#000" stroke-width="1.1">3</text>
<text x="2372.80" y="1444.90" font-size="32.60" textLength="39.53" lengthAdjust="spacingAndGlyphs" stroke="#000" stroke-width="1.1">2.5</text>
<text x="2384.89" y="1479.40" font-size="32.60" textLength="15.81" lengthAdjust="spacingAndGlyphs" stroke="#000" stroke-width="1.1">2</text>
<text x="2372.09" y="1513.90" font-size="32.60" textLength="39.53" lengthAdjust="spacingAndGlyphs" stroke="#000" stroke-width="1.1">1.5</text>
<text x="2384.26" y="1548.40" font-size="32.60" textLength="15.81" lengthAdjust="spacingAndGlyphs" stroke="#000" stroke-width="1.1">1</text>
<text x="2372.88" y="1582.90" font-size="32.60" textLength="39.53" lengthAdjust="spacingAndGlyphs" stroke="#000" stroke-width="1.1">0.5</text>
<text x="2384.69" y="1617.40" font-size="32.60" textLength="15.81" lengthAdjust="spacingAndGlyphs" stroke="#000" stroke-width="1.1">0</text>
<g clip-path="url(#clip_c)">
<rect x="123.0" y="1919.6" width="926.0" height="644.8" fill="#2400d8"/>
<path fill="#181cf7" stroke="#181cf7" stroke-width="0.6" fill-rule="evenodd" d="M239 2572l742 0 0-11 9-35 10-36 10-24 5-8 5-5 16-5 20-4 0-532-835 0 0 11-31 10-7 5-5 10-4 21-3 5-9 1-21-7-8-5-5-5-1-5 2-5 17-25 0-11-30 0 0 445 5 0 5-5 10 10 1 15 4 5 4 1 12 13 1 7 4 5 1 10 4 5 1 11 15 15 0 10 4 4 2 6 3 4 3 7 13 11 0 4 5 6 0 4 5 7 0 9 2 5 0 15 18 19 1 7zM606 1985l-5-8-3-24 3-16 5-4 6 1 10 4 7 5 4 5 2 5-1 5-4 5-18 19-4 2zM888 2032l-6-4-2-3-1-5 1-5 8-6 10 0 5 1 8 5 1 5-2 5-6 5-11 3z"/>
<path fill="#2857ff" stroke="#2857ff" stroke-width="0.6" fill-rule="evenodd" d="M240 2572l699 0 0-11 10-25 32-72 5-10 11-15 8-9 10-5 16-3 25-2 0-479-36 0-5-1-15-10-5-3-37-4 0-11-322 0 0 11 22 9 10 3 36 4 4 4 2 5 11 36-1 5-11 5-11 1-5-1-6-5-9-12-5-3-10 0-16 6-14 9-16 21-5 5-6 2-5-4-10-55 1-15 7-20 0-11-264 0 0 11-3 20 0 46-3 5-9 5-5 0-5-3-3-7 1-36 3-30 0-11-74 0 0 11-23 20-4 5-2 5 1 5 4 5 10 9 11 12 0 5-8 15-3 12-10 1-21 0-5-3-20-15-21-7-20-16-10 0 0 348 10 0 7 2-12 1-5 5 0 24 5 0 5-5 11 11 0 15 4 4 5 1 11 11 7 20 0 5 4 5 1 11 14 15 2 10 7 11 2 5 14 15 1 5 4 5 1 5 4 5 1 11 4 5 0 15 15 18 2 8zM504 1959l-3-1-5-5 1-10 1-5 3-5 3-2 5-2 5 2 6 5 3 7 0 10-4 5-10 2zM877 2183l-5 0-10-5 1-5 3-5 6-4 5-2 16-2 5 1 5 4 7 8 1 5-10 5-19 1zM141 2337l-5-6 0-3 16 9-6 1zM877 2046l-8-6-6-10-2-10 1-5 3-6 6-5 6-3 11-2 10-1 10 3 20 8 7 6 1 5-2 8-6 6-5 4-15 9-15 3-11-2zM116 1928l0 5 10 0 9-10 0-6 0-5-19 0 0 11z"/>
<path fill="#3d87ff" stroke="#3d87ff" stroke-width="0.6" fill-rule="evenodd" d="M240 2572l64 0 0-11 6-7 5-4 56-24 11-3 15 4 24 14 21 20 0 11 462 0 0-11 3-15 7-31 12-30 5-10 8-11 20-17 17-18 9-7 20-9 10-3 41-3 0-222-41 0-5-2-6-5 2-5 4-5 5-3 41-1 0-210-36 0-5-1-20-17-8-3-18-4-41-3-66 2-24-5 0-11-147 0 0 11 23 0 5 2 3 3 1 5 2 25 4 9 8 7 4 5 1 5 0 5-3 4-5 3-9 3-16 4-46 3-26 4-5 2-9 8-11 4-6 1-5-1-3-4-2-5-5-31-6-26 1-15 7-20 0-11-69 0 0 11 7 5 7 10 2 5 1 10-3 5-8 4-16 2-10 0-10-3-7-3-4-5 1-15 4-10 5-5 0-11-144 0 0 11-5 10-4 15 1 41-4 5-12 10-5 2-5 0-5-1-5-5-4-6-1-5 5-77-57 0 0 11-6 5-8 10-3 5-2 10 0 5 6 11 17 15-1 5-7 3-8 7-6 10-3 11-4 6-10 3-7 6-8 20-6 7-5 1-10 0-7-2-9-6-2-5 0-5 2-25-4-3-41 0 0 289 25 2 26 6 15 7 7 5 10 11 9 15 5 15-1 5-3 5-7 6 4 5-1 5 5 5 0 10 5 5-1 5 11 11 0 5 5 5 0 10 11 10 1 5 9 11 0 5 5 5 0 5 5 5 0 5-2 2-15 3-7-5 0-5-5-5 0-5-15-16 0-5-5-5 0-10-5-5 0-5-16-16 0-10-5-5 0-10-5-5 0-5-20-21 0-10-16-15-14-14-10 0-5 6 0 21 5 0 5-5 12 12 0 15 3 4 5 0 11 12 1 5 4 5 4 10 0 5 4 11 0 5 14 15 3 10 6 10 1 6 15 15 1 5 4 5 1 5 4 5 1 11 4 5 0 15 14 17 2 3 0 6zM862 2189l-5-1-5-3-2-2-2-5 9-59 5-3 41 1 10 2 3 3 5 25 2 3 21 4 6 4 3 5 2 15-20 5-31 5-37 2zM888 2067l-36-11-9-6-10-20-3-10 2-5 10-8 15-18 5-1 31-1 10 2 38 15 9 5 4 5 2 6-3 10-4 10-10 15-5 5-16 5-25 2zM116 1923l10 0 0-11-10 0 0 5z"/>
<path fill="#56b0ff" stroke="#56b0ff" stroke-width="0.6" fill-rule="evenodd" d="M241 2572l42 0 0-21 3-10 14-14 61-30 10-3 11-2 15 2 20 5 31 11 51 6 15 3 26 12 31 10 10 5 6 5 7 10 0 11 212 0 0-11-12-20-3-10-4-21 0-15 3-9 6-6 20-18 26-16 29-23 17-9 20-2 51-2 51-16 10-1 36-1 0-200-41 0-20-6-10-1-77 7-46 3-9-2-6-2-7-8 0-10 4-26 3-35 5-10 17-11 3-5 1-5-4-5-7-4-39-17-12-11-10-8-11-6-23-10-1-5 2-26 6-10 6-3 16-2 10 2 9 3 7 5 4 4 5-1-1-34-2-5-5-5-6-5-11-5-16 0-10 3-10 7-4 5-3 5-1 41-2 5-5 5-57 7-10 3-15 10-5 0-31-1-31 6-5-1-5-3-3-5-7-38-10-26-3-3 3-2 2-8 10-20 0-11-47 0 0 11 11 10 17 20-3 5-12 5-19 5-15 0-26-3-19-7-2-5 0-10 1-10 4-10 0-11-123 0-1 16-5 25 0 36-5 5-19 16-5 2-5 0-10-3-5-4-4-6-3-10 0-10 8-56 0-11-42 0 0 11-15 15-5 10-1 6 1 4 5 7 5 4 12 5 7 5 2 5-1 5-20 6-5 2-6 5-4 7-6 16-5 6-9 4-4 5-10 21-8 7-15 4-10 1-6 3-4 5 1 5 4 5 2 10 1 16-2 5-22 12-5 5-3 8-4 6-3 1-10 0 0 136 92 6 10 2 10 4 10 9 10 15 24 67 5 25 1 16-1 35-4 41-3 11-4 5-12 4-5 5-2-14-6-6 0-10-6-5 0-5-5-5 0-5-15-16 0-5-5-5 0-10-5-5 0-5-16-16 0-10-5-5 0-10-5-5 0-5-20-21 0-10-28-27-10 0-5 5 0 20 5 0 5-5 12 12 1 15 2 3 5 1 12 12 1 5 4 5 1 5 3 5 0 5 4 11 0 5 6 5 11 15 2 10 4 5 1 6 15 15 0 5 5 5 0 5 5 5 0 11 5 5 0 15 13 15 3 5 0 6zM141 2256l-5-2-6-4-3-5 2-11 12-25 10-5 11-1 5 1 6 5 4 25 0 11-3 5-7 5-10 1-11 0zM228 2434l3 0-3-12-5-6-5-3 0 5 10 11zM986 2147l4 3 20-3 46 0 0-185-41 0-7-4-17-15-10-5-12-3-17-2-29 0-27 5-10 5-5 5-1 5 0 5 2 5 6 5 20 9 21 12 30 13 9 7 4 6 0 10-4 20 0 10 3 16 13 30 3 11 1 15-2 15zM116 2117l10 0 0-5 0-2-10 0 0 2zM116 2050l0 5 10 0 1-5-1-2-10 0z"/>
<path fill="#75d3ff" stroke="#75d3ff" stroke-width="0.6" fill-rule="evenodd" d="M241 2572l13 0 5-5 0-11-21-20 0-21-5-5 0-10-5-5 0-5-15-15 0-6-5-5 0-5-5-5 0-5-5-5 0-5-11-10 0-11-5-5 0-5-5-5 0-10-25-26 0-10-21-20-10 0-5 5 0 12 5 0 5-5 13 13 0 15 2 2 5 1 13 13 1 5 4 5 1 5 3 5 0 5 5 11 0 5 16 20 1 10 5 5 0 6 16 15 0 5 5 5 0 5 5 5 0 11 5 5 0 15 14 15 1 5 0 6zM632 2572l13 0 0-11 3-15 8-25 7-21 8-10 17-13 10-4 31-8 15-7 41-23 46-18 41-24 16-7 15-2 87-6 25-5 41 0 0-9-36 0-10-3-5-4-5-8-2-7-3-36 1-5 5-10 14-20 5-4 16-5 20-2 0-61-41-1-20-5-15-1-92 5-26 4-10-1-10-3-5-4-5-5-3-10 8-25 2-46 3-8 7-13 1-5-4-5-10-5-26-10-25-21-25-12-16-11-5-2-15 0-26 4-20 11-5 1-10 0-26-2-25 3-11 0-5-3-5-6-9-39-6-10-21-1-20 1-31-3-30-8-7-5-2-5 1-10 6-20 0-11-113 0 1 46-5 31-3 5-27 21-5 3-5 0-15-3-16-12-10-5-10-1-10 0-10 4-7 8-9 20-15 14-9 18-6 9-6 4-14 7-5 5-2 10-2 21-2 7-2 3-15 10-13 16-6 4-5 1-10 0 0 53 10 0 7-7 13-6 21-3 10 0 6 4 4 5 21 45 5 6 5 3 10 3 36 5 10 4 6 5 3 5 4 11 10 30 7 31 3 36 1 56 2 10 5 13 5 3 10 2 57-2 61 8 61 6 21 5 36 14 35 8 11 4 6 6 3 5 9 20 2 21zM1014 2112l6 4 36 0 0-148-36 0-10-1-10-4-26-20-15-3-20 0-17 3-11 5-3 5 1 5 4 5 8 6 33 16 15 11 16 13 2 6 1 5 1 35 10 21 12 31zM253 1953l1 2 15 2 15-1 6-7 6-26 0-11-27 0-1 26-4 6-5 5-5 1zM794 1953l2 2 4-2-4-1zM561 1928l10 4 5 0 7-9 0-11-29 0 0 11 6 4z"/>
<path fill="#99eaff" stroke="#99eaff" stroke-width="0.6" fill-rule="evenodd" d="M242 2572l10 0 5-5 0-11-20-20 0-21-5-5 0-10-5-5 0-5-16-15 0-6-5-5 0-5-5-5 0-5-5-5 0-5-10-10 0-11-5-5 0-5-5-5 0-10-26-26 0-10-19-19-10 0-5 5 0 10 5 0 5-5 14 14 0 15 1 2 5 0 14 14 0 5 5 5 0 5 5 5-1 5 2 5 3 6 0 5 5 5 2 5 9 10 1 10 5 5 0 6 15 15 0 5 5 5 1 5 4 5 1 11 4 5 0 15 15 15 1 11zM561 2469l15 2 15-2 21-5 35-13 57-9 10-3 51-27 56-21 16-8 7-6 5-5 4-25 4-6 5-2 26 2 15-1 36-8 15-5 5-3 5-7 7-16 14-24 15-16 4-6 11-34 5-6 36 1 0-7-36 0-30-10-26-1-20 1-16 2-40 1-9 2-17 6-36-2-6-9-2-11-1-10 3-10 6-12 3-9 0-66-8-5-26-10-6-5-13-16-7-5-25-14-10-3-15 0-15 3-22 9-9 3-10-1-26-4-31 3-10-3-4-3-4-5-7-26-5-11-5-2-31 1-1-3-12-5-53-12-9-4-5-5-2-5 1-5 4-15 5-10 0-11-106 0 1 16 3 12 6 13-1 5-10 31-3 5-6 5-11 8-16 13-5 2-5 1-15-1-11-2-5-3-10-12-10-4-10-1-5 1-5 4-6 7-8 18-14 15-13 25-5 6-16 11-5 6-3 8-3 21-4 10-12 10-8 11-7 5-9 3-15 1 0 39 10 0 15-7 21-5 20-9 5-1 5 1 6 10 8 24 7 10 5 4 10 5 26 10 66 20 6 2 7 5 4 10 4 21-2 71 3 31 2 10 4 10 7 11 6 4 10 4 9 2 68 7 31 5 46 6 35 7zM760 2266l-10-4-9-7-4-5-2-5 0-6 3-5 6-2 11-2 15 1 7 3 3 5 1 16-3 10-3 2-10 0zM826 2332l-10-7-9-9-4-5-1-5 1-10 2-11 5-5 11-2 10 2 5 4 10 12 2 5 2 10-1 10-2 8-5 3-11 1zM540 2031l-15-6-7-5 0-5 3-6 19-19 10 1 3 8 0 21-3 6-5 4zM1017 2050l3 2 36 0 0-77-56 0-5 1-5 4-2 4 0 5 7 11 4 9 6 27 5 9 5 5zM952 1953l2 5 5 0 1-5-6 0zM284 1923l1 0 0-11-1 0 0 5z"/>
<path fill="#bcf9ff" stroke="#bcf9ff" stroke-width="0.6" fill-rule="evenodd" d="M243 2572l8 0 5-5 0-11-21-20 0-21-5-5 0-10-5-5 0-5-15-15 0-6-5-5 0-5-6-5 0-5-5-5 0-5-10-10 0-11-5-5 0-5-5-5 0-10-26-26 0-10-17-17-10 0-5 5 0 8 5 0 5-5 15 14 0 15 5 1 15 15 0 5 5 5 0 5 5 5 0 10 4 6 0 5 6 5 0 5 10 10 1 10 5 5 0 6 15 15 0 5 5 5 0 5 5 5 0 11 5 5 0 15 15 15 1 11zM500 2434l76 1 10-2 46-14 66-7 16-5 48-30 5-5 0-5-3-10-6-10-14-20-35-36-7-11-2-10 4-20 0-11-6-1-30 2-16 14-5 2-10 2-10-1-10-6-6-6-3-11-1-25 3-5 7-5 25-11 5-5 8-10 5-5 8-4 10-3 5-3 3-5 2-11 5-7 5-3 16-6 15-9 5-1 13 16 14 10 3 5-3 31 0 31 4 2 15 1 16 3 2-1 1-5 0-31 13-20 5-11 3-20 0-20-4-14-5-6-5-3-5-2-31-2-3-4-2-26-3-5-12-9-11-5-5-1-15 1-36 11-10 2-10-1-26-5-36 1-9-4-5-5-11-26-5-2-5 5-11 23-5 5-5 2-5 0-5-1-24-11-8-5 1-5 3-6 13-15 2-5-1-5-10-5-44-10-10-6-7-5-2-4-1-1 1 0 5-9 11-21 0-11-99 0 0 11 6 15 5 4 6 3 19 3 6 5-6 5-19 8-6 3-5 7-5 13-5 7-5 5-15 10-16 13-5 2-15 0-21-2-4-4-6-8-5-5-10-4-5 0-5 1-5 4-12 22-14 19-15 28-8 9-9 5-6 5-4 11-3 20-4 10-4 5-1 11 1 10 2 2 5 2 5 0 15-2 7 3 4 5 10 29 5 6 5 3 31 10 56 20 56 3 16 2 5 6 7 18 5 5 17 5 32 3 20 5 16 4 14 9 4 5-4 5-30 18-16 13-9 3-36 7-18 5-8 5-2 5 0 5 3 7 10 8 51 18 29 18 27 10zM566 2327l-23-6-13-5-9-5-4-5 5-5 28-14 8-7 2-5 3-20 2-5 6-3 5 0 5 2 2 6 3 20 6 16 2 15-3 10-5 6-5 3-10 2zM443 2208l-15-17-10-8-3-5 2-5 7-5 9-3 10-1 10 1 8 3 10 5 5 5-4 5-9 8-15 17zM883 2280l5 3 10 2 25-5 26 0 5-1 5-3 3-21 2-7 5-3 21 0 0-21-1-15-15-4-15-2-10 1-26 6-31-1-6 20-4 3-10 5-15 2 0 6 17 10 3 6 3 14 2 5zM116 2193l0 2 10 0 27-12 6-5-2-10-5-3-36 1 0 22zM697 2178l1 3 6 0 1-3-1-3-6 0zM1019 2020l1 1 36 0 0-35-36 0-3 3 2 26z"/>
<path fill="#eaffff" stroke="#eaffff" stroke-width="0.6" fill-rule="evenodd" d="M243 2572l6 0 5-5 0-11-20-20 0-21-5-5 0-10-6-5 0-5-15-15 0-6-5-5 0-5-5-5 0-5-5-5 0-5-10-10 0-11-6-5 0-5-5-5 0-10-25-26 0-10-16-16-10 0-5 5 0 6 5 0 5-5 15 15 0 15 5 1 16 15 0 5 5 5 0 5 5 5 0 10 5 6 0 5 5 5 0 5 10 10 0 10 5 5 0 6 16 15 0 5 5 5 0 5 5 5 0 11 5 5 0 15 15 15 0 11zM501 2388l8 2 72-1 66-6 16-3 10-4 5-4 1-5-3-10-17-51-3-5-9-9-5-2-5-1-5 2-4 5-2 5-7 36-3 5-4 5-16 7-20 4-62-3-10 0-10 7-4 5 0 5 2 5 7 9zM441 2245l7 1 31 0 3-1 0-6-2-30-1-1-3 1-6 20-5 5-7 3-16 2zM307 2219l8 2 10-1 16-5 12-6 8-7 15-16 20-28 11-9 5-2 36 0 31 14 51 16 10 2 20 1 7 3 1 5 3 22 5 1 3-23 2-5 5-3 5-1 21-1 30-14 26-17 20-24 32-22 26-35 6-11 0-5-2-5-11-7-5-1-10 0-31 10-20 3-10 0-26-7-36 0-10-4-5-3-10-16-5-1-16 19-5 3-10 2-5-1-21-12-15-5-5-5 2-11 13-20-1-5-12-5-28-6-20-7-46 5-20 5-6 4-8 14-7 7-15 10-16 14-10 4-25 0-11-1-5-3-7-10-8-7-10-3-5 2-7 8-7 15-13 20-18 36-6 6-11 4-5 5-3 11-2 35 4 6 27 1 4 4 3 25 3 7 5 4 10 3 16 2 15 4 41 16zM411 2214l1 1 2-1 1-5-3-1-2 1zM116 2188l0 1 10 0 10-6 4-5-4-5-10-3-10 0 0 13zM788 2142l8 5 5-1 5-6 3-8 2-10 1-10-1-5-5-9-5-3-5 0-21 3-15 6-3 3-2 4 0 6 3 5 17 10 10 9zM438 1938l5 1 5 0 5-4 8-12 0-11-94 0 0 11 4 7 5 5 6 2 10-1 5-2 15-11 5 1 16 12z"/>
<path fill="#ffffea" stroke="#ffffea" stroke-width="0.6" fill-rule="evenodd" d="M310 2199l10 1 6-1 9-6 40-40 19-16 13-7 31-4 15 0 10 6 15 15 11 7 41 12 10 1 15-1 31-4 20-7 31-8 15-9 32-26 25-14 7-7 2-5 1-15-2-10-3-3-10-2-41 0-26-6-36-3-15-4-10-8-5 0-14 10-7 4-10 1-5-2-19-13-22-8-4-2-5-5 1-11 10-20-2-5-10-4-36-8-41 6-15 4-10 4-18 18-18 12-10 9-8 5-8 2-36-1-5-2-4-4-7-10-4-4-5-2-5-1-5 2-5 5-16 30-11 26-4 10-1 10-4 6-21 6-3 4-2 5 0 5 2 15 3 5 5 1 6-1 10-8 10-12 5-2 5 5 6 12 3 10 2 26 2 5 3 4 5 1 35 1 6 1 12 13 8 5zM116 2178l10 0-10 0zM793 2117l3 1 1-1-1-5-1 0zM728 2050l1 3 5 0 1-3-1 0-5 0zM374 1928l2 2 6 2 10-2 9-7 0-11-30 0 0 12zM432 1928l6 3 10 1 5-4 4-5 0-11-31 0 0 11 2 1z"/>
<path fill="#fff1bc" stroke="#fff1bc" stroke-width="0.6" fill-rule="evenodd" d="M315 2178l5 1 5-3 5-5 16-20 10-9 46-23 31-11 10-2 10 1 17 5 9 4 15 26 6 5 12 6 18 5 10 1 15-1 26-5 20-11 21-6 9-4 21-18 31-11 13-7 7-5 4-5 0-5-1-5-3-5-8-5-12-3-46-2-25-5-36-6-5 0-21 6-10 1-5-1-11-11-10-7-52-18 0-5 3-6 13-20-4-5-26-5-46 10-20 7-18 13-30 21-9 4-5 1-36 0-5-3-5-4-10-13-5-3-5-1-7 4-16 30-9 36 1 10 13 21 13 30 5 5 20 1 10 1 6 3 20 23zM374 1923l2 2 6 2 10-3 2-1 0-11-20 0 0 5zM433 1923l10 4 5 0 6-4 0-11-21 0 0 5z"/>
<path fill="#ffd699" stroke="#ffd699" stroke-width="0.6" fill-rule="evenodd" d="M524 2147l16 4 29-4 7-1 20-10 21-8 7-6 3-5 5-20 5-9 10 8 5 3 11 2 15-3 11-7 5-5 0-5-2-5-6-5-13-3-15 1-8 2-13 9-15-10-16-5-20-2-41 1-10-1-5-3-5-5-7-10-4-3-35-11-11 0-10 2-8 7-2 4-5-3-7-37-3-5-5-3-6-1-20 3-20 6-46 29-11 5-5 1-36-1-5-2-5-4-15-17-5-1-2 1-5 5-13 25-3 36 2 10 16 20 5 4 5-2 5-5 15-22 5-3 6 2 5 6 2 5 10 41 3 5 5 5 5 0 21-14 20-8 21-10 35-15 26-14 5 1 4 4 11 8 16 4 7 4 4 5 10 20 4 5 16 8zM381 1923l1 0 0-11-1 0 0 5z"/>
<path fill="#ffac75" stroke="#ffac75" stroke-width="0.6" fill-rule="evenodd" d="M529 2137l6 2 10 1 31-3 10-4 22-11 5-5 0-16-4-15-4-5-9-3-46-7-30-1-4-4-1-16-5-5-14-5-17-4-11 1-5 2-4 6-1 5 1 21 4 15 5 5 6 2 21 3 5 5 4 21 5 5 16 8zM314 2112l1 2 5 1 31 0 5-1 17-7 24-8 22-13 9-11 4-14 0-21-4-26-6-7-5-2-20 4-19 6-42 22-16 6-36-1-10-5-15-16-5-2-5 3-10 18-3 10 1 21 2 5 5 8 5 5 5 2 5-2 20-18 5-2 6 0 5 2 5 5 3 5 8 26zM666 2091l7 0 7-5 2-5-4-4-5-2-10 0-6 6 1 5 5 4z"/>
<path fill="#ff7856" stroke="#ff7856" stroke-width="0.6" fill-rule="evenodd" d="M539 2127l16 3 16 0 10-3 10-5 5-5 0-10-5-9-10-6-36-10-5 0-5 4-5 8-7 18 0 5 5 5 7 3zM327 2096l14 4 15 0 31-6 7-3 7-5 16-15 6-10 2-11-1-10-2-10-5-10-5-2-5 1-31 6-30 12-26 13-36 0-10-8-15-15-5-2-5 3-7 12-3 10 2 16 3 5 5 4 5 2 10-4 19-18 1-3 11 0 10 2 5 2 4 5 4 25 3 5 4 4zM473 2081l6 1 5-1 5-5 10-15 3-11-6-5-12-3-10-1-6 3-3 6 0 5 1 11 4 10z"/>
<path fill="#ff3d3d" stroke="#ff3d3d" stroke-width="0.6" fill-rule="evenodd" d="M570 2112l1 2 3-2-3-1zM344 2081l7 2 31 0 5-2 25-25 2-6-2-7-5-5-5-3-10-1-16 1-30 9-3 1-5 5 1 16 2 10zM248 2066l6 2 5-1 5-3 7-9 1-5-2-5-11-11-5-3-5 4-5 10-1 10 2 6zM478 2050l1 4 1-4-1 0z"/>
<path fill="#f72735" stroke="#f72735" stroke-width="0.6" fill-rule="evenodd" d="M249 2055l5 5 5-2 2-3 2-5-2-5-7-5-5 6 0 9z"/>
</g>
<path d="M125.7 1943.4L135.7 1932.2L153.0 1932.2L170.2 1940.0L189.2 1959.0L208.2 1979.6L208.2 1958.1L225.4 1938.3L239.2 1934.8L239.2 1921.0M125.7 1964.1L139.2 1946.9L149.5 1947.7L159.9 1955.5L165.1 1964.1L173.7 1965.8L165.1 1972.7L170.2 1988.3L190.9 2009.0L190.9 2033.1L193.5 2064.1L190.1 2076.2L199.5 2084.8L190.9 2095.2L185.7 2109.0L168.5 2110.7L160.6 2121.3L160.6 2126.8L162.8 2131.2L161.7 2135.7L152.8 2134.6L151.2 2139.0L155.1 2144.5L155.1 2147.9L126.2 2161.2M125.7 1983.1L128.0 1985.4L125.7 1988.3M125.1 2241.0L136.2 2242.1L126.2 2264.2M125.6 2353.5L134.7 2362.6L137.0 2377.4L149.6 2387.7L158.7 2399.1L164.4 2412.8L171.2 2433.3L184.9 2452.7L190.6 2469.8L200.9 2485.8L211.2 2497.2L222.6 2526.8L221.4 2541.7L240.8 2562.4M330.2 1921.0L328.0 1929.6L335.7 1938.3L336.6 1950.3L354.7 1946.0L354.7 1927.9L349.5 1921.0M571.6 1921.8L575.8 1930.2L586.3 1929.2L611.4 1934.4L615.6 1946.9L609.3 1964.7L630.2 1958.5L670.0 1983.6L676.3 1996.2L673.1 2006.6L684.7 2003.5L702.2 2015.7L711.3 2027.1L722.7 2030.5L743.2 2029.4L752.3 2027.1L768.2 2027.1L791.0 2032.8L811.5 2039.6L827.5 2049.9L848.0 2063.5L867.4 2081.8L867.4 2097.7L875.3 2115.9L879.9 2131.9L895.8 2133.0L895.0 2150.4L882.5 2162.4L871.0 2172.1L861.1 2180.6L857.5 2192.0L856.1 2210.4L869.6 2204.7L876.7 2221.7L881.6 2189.1L890.8 2183.5L905.0 2183.5L920.6 2183.5L931.9 2185.6L926.2 2214.6L931.9 2217.5L940.4 2200.5L948.9 2196.2L964.5 2196.2L978.6 2203.3L1005.5 2210.4L1011.2 2221.7L1023.9 2216.8L1033.8 2235.9L1033.1 2250.0L1048.5 2247.2M585.5 1923.4L608.5 1923.4" stroke="#000" stroke-width="5.6" stroke-linejoin="round" stroke-linecap="round" fill="none" clip-path="url(#clip_c)"/>
<path d="M126.0 1922.6L126.0 1901.6M126.0 2561.4L126.0 2582.4M381.6 1922.6L381.6 1901.6M381.6 2561.4L381.6 2582.4M637.1 1922.6L637.1 1901.6M637.1 2561.4L637.1 2582.4M892.7 1922.6L892.7 1901.6M892.7 2561.4L892.7 2582.4M126.0 1922.6L105.0 1922.6M1046.0 1922.6L1067.0 1922.6M126.0 2178.1L105.0 2178.1M1046.0 2178.1L1067.0 2178.1M126.0 2433.6L105.0 2433.6M1046.0 2433.6L1067.0 2433.6" stroke="#000" stroke-width="3.6" stroke-linecap="round" fill="none"/>
<path d="M177.1 1922.6L177.1 1910.6M177.1 2561.4L177.1 2573.4M228.2 1922.6L228.2 1910.6M228.2 2561.4L228.2 2573.4M279.3 1922.6L279.3 1910.6M279.3 2561.4L279.3 2573.4M330.4 1922.6L330.4 1910.6M330.4 2561.4L330.4 2573.4M432.7 1922.6L432.7 1910.6M432.7 2561.4L432.7 2573.4M483.8 1922.6L483.8 1910.6M483.8 2561.4L483.8 2573.4M534.9 1922.6L534.9 1910.6M534.9 2561.4L534.9 2573.4M586.0 1922.6L586.0 1910.6M586.0 2561.4L586.0 2573.4M688.2 1922.6L688.2 1910.6M688.2 2561.4L688.2 2573.4M739.3 1922.6L739.3 1910.6M739.3 2561.4L739.3 2573.4M790.4 1922.6L790.4 1910.6M790.4 2561.4L790.4 2573.4M841.6 1922.6L841.6 1910.6M841.6 2561.4L841.6 2573.4M943.8 1922.6L943.8 1910.6M943.8 2561.4L943.8 2573.4M994.9 1922.6L994.9 1910.6M994.9 2561.4L994.9 2573.4M1046.0 1922.6L1046.0 1910.6M1046.0 2561.4L1046.0 2573.4M126.0 1973.7L114.0 1973.7M1046.0 1973.7L1058.0 1973.7M126.0 2024.8L114.0 2024.8M1046.0 2024.8L1058.0 2024.8M126.0 2075.9L114.0 2075.9M1046.0 2075.9L1058.0 2075.9M126.0 2127.0L114.0 2127.0M1046.0 2127.0L1058.0 2127.0M126.0 2229.2L114.0 2229.2M1046.0 2229.2L1058.0 2229.2M126.0 2280.3L114.0 2280.3M1046.0 2280.3L1058.0 2280.3M126.0 2331.4L114.0 2331.4M1046.0 2331.4L1058.0 2331.4M126.0 2382.5L114.0 2382.5M1046.0 2382.5L1058.0 2382.5M126.0 2484.7L114.0 2484.7M1046.0 2484.7L1058.0 2484.7M126.0 2535.8L114.0 2535.8M1046.0 2535.8L1058.0 2535.8" stroke="#000" stroke-width="2" fill="none"/>
<rect x="126.0" y="1922.6" width="920.0" height="638.8" fill="none" stroke="#000" stroke-width="3.8"/>
<text x="29.94" y="1933.40" font-size="32.60" textLength="54.46" lengthAdjust="spacingAndGlyphs" stroke="#000" stroke-width="1.1">10N</text>
<text x="69.07" y="2188.92" font-size="32.60" textLength="15.81" lengthAdjust="spacingAndGlyphs" stroke="#000" stroke-width="1.1">0</text>
<text x="36.43" y="2444.44" font-size="32.60" textLength="49.21" lengthAdjust="spacingAndGlyphs" stroke="#000" stroke-width="1.1">10S</text>
<text x="95.34" y="2625.20" font-size="32.60" textLength="60.20" lengthAdjust="spacingAndGlyphs" stroke="#000" stroke-width="1.1">80W</text>
<text x="350.47" y="2625.20" font-size="32.60" textLength="60.20" lengthAdjust="spacingAndGlyphs" stroke="#000" stroke-width="1.1">70W</text>
<text x="606.37" y="2625.20" font-size="32.60" textLength="60.20" lengthAdjust="spacingAndGlyphs" stroke="#000" stroke-width="1.1">60W</text>
<text x="861.70" y="2625.20" font-size="32.60" textLength="60.20" lengthAdjust="spacingAndGlyphs" stroke="#000" stroke-width="1.1">50W</text>
<rect x="1113.9" y="1931.7" width="55.1" height="34.8" fill="#a50021"/>
<rect x="1113.9" y="1966.2" width="55.1" height="34.8" fill="#d8152f"/>
<rect x="1113.9" y="2000.7" width="55.1" height="34.8" fill="#f72735"/>
<rect x="1113.9" y="2035.2" width="55.1" height="34.8" fill="#ff3d3d"/>
<rect x="1113.9" y="2069.7" width="55.1" height="34.8" fill="#ff7856"/>
<rect x="1113.9" y="2104.2" width="55.1" height="34.8" fill="#ffac75"/>
<rect x="1113.9" y="2138.7" width="55.1" height="34.8" fill="#ffd699"/>
<rect x="1113.9" y="2173.2" width="55.1" height="34.8" fill="#fff1bc"/>
<rect x="1113.9" y="2207.7" width="55.1" height="34.8" fill="#ffffea"/>
<rect x="1113.9" y="2242.1" width="55.1" height="34.8" fill="#eaffff"/>
<rect x="1113.9" y="2276.6" width="55.1" height="34.8" fill="#bcf9ff"/>
<rect x="1113.9" y="2311.1" width="55.1" height="34.8" fill="#99eaff"/>
<rect x="1113.9" y="2345.6" width="55.1" height="34.8" fill="#75d3ff"/>
<rect x="1113.9" y="2380.1" width="55.1" height="34.8" fill="#56b0ff"/>
<rect x="1113.9" y="2414.6" width="55.1" height="34.8" fill="#3d87ff"/>
<rect x="1113.9" y="2449.1" width="55.1" height="34.8" fill="#2857ff"/>
<rect x="1113.9" y="2483.6" width="55.1" height="34.8" fill="#181cf7"/>
<rect x="1113.9" y="2518.1" width="55.1" height="34.8" fill="#2400d8"/>
<path d="M1113.9 1931.7H1169.0V2552.6H1113.9ZM1113.9 1966.2H1169.0M1113.9 2000.7H1169.0M1113.9 2035.2H1169.0M1113.9 2069.7H1169.0M1113.9 2104.2H1169.0M1113.9 2138.7H1169.0M1113.9 2173.2H1169.0M1113.9 2207.7H1169.0M1113.9 2242.1H1169.0M1113.9 2276.6H1169.0M1113.9 2311.1H1169.0M1113.9 2345.6H1169.0M1113.9 2380.1H1169.0M1113.9 2414.6H1169.0M1113.9 2449.1H1169.0M1113.9 2483.6H1169.0M1113.9 2518.1H1169.0" stroke="#000" stroke-width="1.9" fill="none"/>
<text x="1185.27" y="1977.09" font-size="32.60" textLength="31.62" lengthAdjust="spacingAndGlyphs" stroke="#000" stroke-width="1.1">90</text>
<text x="1185.23" y="2011.59" font-size="32.60" textLength="31.62" lengthAdjust="spacingAndGlyphs" stroke="#000" stroke-width="1.1">85</text>
<text x="1185.19" y="2046.08" font-size="32.60" textLength="31.62" lengthAdjust="spacingAndGlyphs" stroke="#000" stroke-width="1.1">80</text>
<text x="1184.79" y="2080.58" font-size="32.60" textLength="31.62" lengthAdjust="spacingAndGlyphs" stroke="#000" stroke-width="1.1">75</text>
<text x="1184.75" y="2115.07" font-size="32.60" textLength="31.62" lengthAdjust="spacingAndGlyphs" stroke="#000" stroke-width="1.1">70</text>
<text x="1185.15" y="2149.57" font-size="32.60" textLength="31.62" lengthAdjust="spacingAndGlyphs" stroke="#000" stroke-width="1.1">65</text>
<text x="1185.11" y="2184.06" font-size="32.60" textLength="31.62" lengthAdjust="spacingAndGlyphs" stroke="#000" stroke-width="1.1">60</text>
<text x="1184.91" y="2218.56" font-size="32.60" textLength="31.62" lengthAdjust="spacingAndGlyphs" stroke="#000" stroke-width="1.1">55</text>
<text x="1184.87" y="2253.05" font-size="32.60" textLength="31.62" lengthAdjust="spacingAndGlyphs" stroke="#000" stroke-width="1.1">50</text>
<text x="1185.51" y="2287.54" font-size="32.60" textLength="31.62" lengthAdjust="spacingAndGlyphs" stroke="#000" stroke-width="1.1">45</text>
<text x="1185.47" y="2322.04" font-size="32.60" textLength="31.62" lengthAdjust="spacingAndGlyphs" stroke="#000" stroke-width="1.1">40</text>
<text x="1185.07" y="2356.53" font-size="32.60" textLength="31.62" lengthAdjust="spacingAndGlyphs" stroke="#000" stroke-width="1.1">35</text>
<text x="1185.03" y="2391.03" font-size="32.60" textLength="31.62" lengthAdjust="spacingAndGlyphs" stroke="#000" stroke-width="1.1">30</text>
<text x="1185.15" y="2425.52" font-size="32.60" textLength="31.62" lengthAdjust="spacingAndGlyphs" stroke="#000" stroke-width="1.1">25</text>
<text x="1185.11" y="2460.02" font-size="32.60" textLength="31.62" lengthAdjust="spacingAndGlyphs" stroke="#000" stroke-width="1.1">20</text>
<text x="1184.44" y="2494.51" font-size="32.60" textLength="31.62" lengthAdjust="spacingAndGlyphs" stroke="#000" stroke-width="1.1">15</text>
<text x="1184.40" y="2529.01" font-size="32.60" textLength="31.62" lengthAdjust="spacingAndGlyphs" stroke="#000" stroke-width="1.1">10</text>
<g clip-path="url(#clip_d)">
<rect x="1314.6" y="1919.6" width="926.0" height="644.8" fill="#2400d8"/>
<path fill="#181cf7" stroke="#181cf7" stroke-width="0.6" fill-rule="evenodd" d="M1318 1923l500 0 11 6 64 16 63 6 64 1 64 9 64-1 32 26 32 61 8 3 56 3 0 508-848 0-22-63-51-64-31-64-6-60 0-253 25-7-25-16 0-48z"/>
<path fill="#2857ff" stroke="#2857ff" stroke-width="0.6" fill-rule="evenodd" d="M1318 1923l474 0 37 23 64 31 48 9 79 4 64 17 64 4 29 39 35 21 64-6 0 454-64 35-7 7-611 0-21-4-21 4-57 0-24-63-26-4-55-60-49-64-12-64-2-64-9-19 0-157 62-16-62-39 0-25z"/>
<path fill="#3d87ff" stroke="#3d87ff" stroke-width="0.6" fill-rule="evenodd" d="M1318 1923l448 0 63 39 43 24 21 8 63 5 64 11 64 30 39 10 25 4 64 38 64-15 0 411-32 10-32 18-45 45-487 0-43-19-64-25-26-19-38-11-64-12-38-41-50-64-16-64 6-64-29-56 0-110 56 38 7 23 10-23 10-64-20-20-63-44zM1509 2089l-4 25 4 9 64 29 45-38-45-40z"/>
<path fill="#56b0ff" stroke="#56b0ff" stroke-width="0.6" fill-rule="evenodd" d="M1318 1923l431 0 16 5 64 50 14 8 50 18 63 7 64 19 38 20 26 12 64 13 64 39 64-25 0 97-64 18-64 12-69 26-11 64 16 5 64 9 128-8 0 156-64 17-21 13-43 43-23 20-399 0-25-18-64-26-39-19-25-10-64-17-64-15-20-22-52-64-21-64 14-64 17-64 26-64 12-64-40-42-32-22-31-10zM1509 2027l-23 23 0 64 23 55 19 9 45 12 60-12 4-3 64-29 14-32-14-3-64-46-16-15-48-9zM1318 2114l0-29 42 29-42 51z"/>
<path fill="#75d3ff" stroke="#75d3ff" stroke-width="0.6" fill-rule="evenodd" d="M1318 1923l415 0 32 11 60 52 4 5 64 23 63 9 64 27 64 28 64 18 31 18-31 44-16 20-48 33-58 31-6 8-103 56 39 35 64 10 64 13 64 1 64 3 64 0 0 2 0 79-64 12-63 37-71 63-308 0-5-5-64-43-46-15-18-5-64-23-64-15-64-18-57-67-24-64 20-64 12-64 31-64 14-64-60-63-63-21zM1509 1993l-57 57 14 64 32 64 11 18 64 18 64-14 64-8 61-14 1-64-62-13-55-51-9-5-64-21zM1701 2292l-34 14 30 64 4 4 64 14 25-18 23-64-48-12zM1318 2114l0-19 28 19-28 34zM2243 2114l33-12 0 12 0 33z"/>
<path fill="#99eaff" stroke="#99eaff" stroke-width="0.6" fill-rule="evenodd" d="M1318 1923l399 0 48 17 54 46 10 15 64 24 63 10 37 15 27 19 64 26 59 19-51 64-8 6-128 59-63 7-64 5-64 19-64-2-64 13-16 21 36 64 44 47 28 17-28 28-64 10-64-20-64-12-64-17-45-53-24-64 19-64 14-64 36-66 64 107 64 18 64-13 64-12 64-10 49-24-30-64-83-23-44-41-20-12-64-30-64-34-46 12-18 18-15-18-49-16-63-14zM1318 2114l0-10 14 10-14 17zM2275 2114l1 0 0 1zM1810 2434l19-15 64-11 63-3 64 2 64-8 64 9 85 26-21 2-64 22-58 40-70 55-16 8-185 0-54-62-4-1 4-4z"/>
<path fill="#bcf9ff" stroke="#bcf9ff" stroke-width="0.6" fill-rule="evenodd" d="M1318 1923l383 0 64 22 47 41 17 25 64 24 63 12 9 3 55 38 74 26-10 13-57 51-7 3-64 8-31-11-32-5-64-18-24-41-104-33-33-31-31-20-64-39-64-33-64 5-64-10-63-8zM1422 2178l23-41 64 104 3 1 61 51 8 13 10 64 46 24 37 40-37 17-67-17-61-20-64-5-33-39-25-64 20-64zM1655 2242l46-10 64-5 27 15-27 12-64-2zM2078 2434l6-2 7 2-7 3zM1882 2498l11-10 63-9 26 19-26 14-63-6z"/>
<path fill="#eaffff" stroke="#eaffff" stroke-width="0.6" fill-rule="evenodd" d="M1318 1923l352 0 31 6 64 22 41 35 23 35 64 24 26 5 37 24 64 33 22 7-22 20-64 19-63-8-64-24-4-7-60-19-64-24-22-21-98-64-8-8-64-35-64-14-64 7-63-1zM1435 2178l10-18 11 18 53 101 30 27-8 64-22 13-64 12-21-25-25-64 20-64z"/>
<path fill="#ffffea" stroke="#ffffea" stroke-width="0.6" fill-rule="evenodd" d="M1318 1923l32 0-32 2zM1492 1923l146 0 63 12 64 22 34 29 30 45 51 19 13 54 63 4 16 6-16 7-63-4-64-21-64-7-64-28-11-11-98-64-19-19-64-40zM1430 2242l15-55 26 55 32 64-21 64-37 11-9-11-25-64z"/>
<path fill="#fff1bc" stroke="#fff1bc" stroke-width="0.6" fill-rule="evenodd" d="M1522 1923l99 0 16 14 64 4 64 21 27 24 37 54 26 10-26 24-64 8-64-31-99-65-29-31zM1442 2242l3-13 38 77-38 58-22-58z"/>
<path fill="#ffd699" stroke="#ffd699" stroke-width="0.6" fill-rule="evenodd" d="M1540 1923l33 0 31 0-31 21zM1613 1986l24-33 64-5 64 20 21 18 43 64-64 26-52-26-76-48zM1435 2306l10-36 18 36-18 27z"/>
<path fill="#ffac75" stroke="#ffac75" stroke-width="0.6" fill-rule="evenodd" d="M1559 1923l14 0 14 0-14 9zM1624 1986l13-18 64-14 64 20 14 12 34 64-48 20-39-20-25-17-64-38z"/>
<path fill="#ff7856" stroke="#ff7856" stroke-width="0.6" fill-rule="evenodd" d="M1635 1986l2-3 64-23 64 20 8 6 24 64-32 13-26-13-38-26-64-36z"/>
<path fill="#ff3d3d" stroke="#ff3d3d" stroke-width="0.6" fill-rule="evenodd" d="M1650 1986l51-20 64 19 1 1 15 64-16 7-13-7-51-35z"/>
<path fill="#f72735" stroke="#f72735" stroke-width="0.6" fill-rule="evenodd" d="M1666 1986l35-13 47 13-47 20zM1764 2050l1-2 0 2 0 1z"/>
<path fill="#d8152f" stroke="#d8152f" stroke-width="0.6" fill-rule="evenodd" d="M1682 1986l19-7 25 7-25 11z"/>
<path fill="#a50021" stroke="#a50021" stroke-width="0.6" fill-rule="evenodd" d="M1698 1986l3-1 4 1-4 2z"/>
</g>
<path d="M1317.3 1943.4L1327.3 1932.2L1344.6 1932.2L1361.8 1940.0L1380.8 1959.0L1399.8 1979.6L1399.8 1958.1L1417.0 1938.3L1430.8 1934.8L1430.8 1921.0M1317.3 1964.1L1330.8 1946.9L1341.1 1947.7L1351.5 1955.5L1356.7 1964.1L1365.3 1965.8L1356.7 1972.7L1361.8 1988.3L1382.5 2009.0L1382.5 2033.1L1385.1 2064.1L1381.7 2076.2L1391.1 2084.8L1382.5 2095.2L1377.3 2109.0L1360.1 2110.7L1352.2 2121.3L1352.2 2126.8L1354.4 2131.2L1353.3 2135.7L1344.4 2134.6L1342.8 2139.0L1346.7 2144.5L1346.7 2147.9L1317.8 2161.2M1317.3 1983.1L1319.6 1985.4L1317.3 1988.3M1316.7 2241.0L1327.8 2242.1L1317.8 2264.2M1317.2 2353.5L1326.3 2362.6L1328.6 2377.4L1341.2 2387.7L1350.3 2399.1L1356.0 2412.8L1362.8 2433.3L1376.5 2452.7L1382.2 2469.8L1392.5 2485.8L1402.8 2497.2L1414.2 2526.8L1413.0 2541.7L1432.4 2562.4M1521.8 1921.0L1519.6 1929.6L1527.3 1938.3L1528.2 1950.3L1546.3 1946.0L1546.3 1927.9L1541.1 1921.0M1763.2 1921.8L1767.4 1930.2L1777.9 1929.2L1803.0 1934.4L1807.2 1946.9L1800.9 1964.7L1821.8 1958.5L1861.6 1983.6L1867.9 1996.2L1864.7 2006.6L1876.3 2003.5L1893.8 2015.7L1902.9 2027.1L1914.3 2030.5L1934.8 2029.4L1943.9 2027.1L1959.8 2027.1L1982.6 2032.8L2003.1 2039.6L2019.1 2049.9L2039.6 2063.5L2059.0 2081.8L2059.0 2097.7L2066.9 2115.9L2071.5 2131.9L2087.4 2133.0L2086.6 2150.4L2074.1 2162.4L2062.6 2172.1L2052.7 2180.6L2049.1 2192.0L2047.7 2210.4L2061.2 2204.7L2068.3 2221.7L2073.2 2189.1L2082.4 2183.5L2096.6 2183.5L2112.2 2183.5L2123.5 2185.6L2117.8 2214.6L2123.5 2217.5L2132.0 2200.5L2140.5 2196.2L2156.1 2196.2L2170.2 2203.3L2197.1 2210.4L2202.8 2221.7L2215.5 2216.8L2225.4 2235.9L2224.7 2250.0L2240.1 2247.2M1777.1 1923.4L1800.1 1923.4" stroke="#000" stroke-width="5.6" stroke-linejoin="round" stroke-linecap="round" fill="none" clip-path="url(#clip_d)"/>
<path d="M1317.6 1922.6L1317.6 1901.6M1317.6 2561.4L1317.6 2582.4M1573.2 1922.6L1573.2 1901.6M1573.2 2561.4L1573.2 2582.4M1828.7 1922.6L1828.7 1901.6M1828.7 2561.4L1828.7 2582.4M2084.3 1922.6L2084.3 1901.6M2084.3 2561.4L2084.3 2582.4M1317.6 1922.6L1296.6 1922.6M2237.6 1922.6L2258.6 1922.6M1317.6 2178.1L1296.6 2178.1M2237.6 2178.1L2258.6 2178.1M1317.6 2433.6L1296.6 2433.6M2237.6 2433.6L2258.6 2433.6" stroke="#000" stroke-width="3.6" stroke-linecap="round" fill="none"/>
<path d="M1368.7 1922.6L1368.7 1910.6M1368.7 2561.4L1368.7 2573.4M1419.8 1922.6L1419.8 1910.6M1419.8 2561.4L1419.8 2573.4M1470.9 1922.6L1470.9 1910.6M1470.9 2561.4L1470.9 2573.4M1522.0 1922.6L1522.0 1910.6M1522.0 2561.4L1522.0 2573.4M1624.3 1922.6L1624.3 1910.6M1624.3 2561.4L1624.3 2573.4M1675.4 1922.6L1675.4 1910.6M1675.4 2561.4L1675.4 2573.4M1726.5 1922.6L1726.5 1910.6M1726.5 2561.4L1726.5 2573.4M1777.6 1922.6L1777.6 1910.6M1777.6 2561.4L1777.6 2573.4M1879.8 1922.6L1879.8 1910.6M1879.8 2561.4L1879.8 2573.4M1930.9 1922.6L1930.9 1910.6M1930.9 2561.4L1930.9 2573.4M1982.0 1922.6L1982.0 1910.6M1982.0 2561.4L1982.0 2573.4M2033.2 1922.6L2033.2 1910.6M2033.2 2561.4L2033.2 2573.4M2135.4 1922.6L2135.4 1910.6M2135.4 2561.4L2135.4 2573.4M2186.5 1922.6L2186.5 1910.6M2186.5 2561.4L2186.5 2573.4M2237.6 1922.6L2237.6 1910.6M2237.6 2561.4L2237.6 2573.4M1317.6 1973.7L1305.6 1973.7M2237.6 1973.7L2249.6 1973.7M1317.6 2024.8L1305.6 2024.8M2237.6 2024.8L2249.6 2024.8M1317.6 2075.9L1305.6 2075.9M2237.6 2075.9L2249.6 2075.9M1317.6 2127.0L1305.6 2127.0M2237.6 2127.0L2249.6 2127.0M1317.6 2229.2L1305.6 2229.2M2237.6 2229.2L2249.6 2229.2M1317.6 2280.3L1305.6 2280.3M2237.6 2280.3L2249.6 2280.3M1317.6 2331.4L1305.6 2331.4M2237.6 2331.4L2249.6 2331.4M1317.6 2382.5L1305.6 2382.5M2237.6 2382.5L2249.6 2382.5M1317.6 2484.7L1305.6 2484.7M2237.6 2484.7L2249.6 2484.7M1317.6 2535.8L1305.6 2535.8M2237.6 2535.8L2249.6 2535.8" stroke="#000" stroke-width="2" fill="none"/>
<rect x="1317.6" y="1922.6" width="920.0" height="638.8" fill="none" stroke="#000" stroke-width="3.8"/>
<text x="1221.54" y="1933.40" font-size="32.60" textLength="54.46" lengthAdjust="spacingAndGlyphs" stroke="#000" stroke-width="1.1">10N</text>
<text x="1260.67" y="2188.92" font-size="32.60" textLength="15.81" lengthAdjust="spacingAndGlyphs" stroke="#000" stroke-width="1.1">0</text>
<text x="1228.03" y="2444.44" font-size="32.60" textLength="49.21" lengthAdjust="spacingAndGlyphs" stroke="#000" stroke-width="1.1">10S</text>
<text x="1286.94" y="2625.20" font-size="32.60" textLength="60.20" lengthAdjust="spacingAndGlyphs" stroke="#000" stroke-width="1.1">80W</text>
<text x="1542.07" y="2625.20" font-size="32.60" textLength="60.20" lengthAdjust="spacingAndGlyphs" stroke="#000" stroke-width="1.1">70W</text>
<text x="1797.97" y="2625.20" font-size="32.60" textLength="60.20" lengthAdjust="spacingAndGlyphs" stroke="#000" stroke-width="1.1">60W</text>
<text x="2053.30" y="2625.20" font-size="32.60" textLength="60.20" lengthAdjust="spacingAndGlyphs" stroke="#000" stroke-width="1.1">50W</text>
<rect x="2305.5" y="1931.7" width="55.1" height="34.8" fill="#a50021"/>
<rect x="2305.5" y="1966.2" width="55.1" height="34.8" fill="#d8152f"/>
<rect x="2305.5" y="2000.7" width="55.1" height="34.8" fill="#f72735"/>
<rect x="2305.5" y="2035.2" width="55.1" height="34.8" fill="#ff3d3d"/>
<rect x="2305.5" y="2069.7" width="55.1" height="34.8" fill="#ff7856"/>
<rect x="2305.5" y="2104.2" width="55.1" height="34.8" fill="#ffac75"/>
<rect x="2305.5" y="2138.7" width="55.1" height="34.8" fill="#ffd699"/>
<rect x="2305.5" y="2173.2" width="55.1" height="34.8" fill="#fff1bc"/>
<rect x="2305.5" y="2207.7" width="55.1" height="34.8" fill="#ffffea"/>
<rect x="2305.5" y="2242.1" width="55.1" height="34.8" fill="#eaffff"/>
<rect x="2305.5" y="2276.6" width="55.1" height="34.8" fill="#bcf9ff"/>
<rect x="2305.5" y="2311.1" width="55.1" height="34.8" fill="#99eaff"/>
<rect x="2305.5" y="2345.6" width="55.1" height="34.8" fill="#75d3ff"/>
<rect x="2305.5" y="2380.1" width="55.1" height="34.8" fill="#56b0ff"/>
<rect x="2305.5" y="2414.6" width="55.1" height="34.8" fill="#3d87ff"/>
<rect x="2305.5" y="2449.1" width="55.1" height="34.8" fill="#2857ff"/>
<rect x="2305.5" y="2483.6" width="55.1" height="34.8" fill="#181cf7"/>
<rect x="2305.5" y="2518.1" width="55.1" height="34.8" fill="#2400d8"/>
<path d="M2305.5 1931.7H2360.6V2552.6H2305.5ZM2305.5 1966.2H2360.6M2305.5 2000.7H2360.6M2305.5 2035.2H2360.6M2305.5 2069.7H2360.6M2305.5 2104.2H2360.6M2305.5 2138.7H2360.6M2305.5 2173.2H2360.6M2305.5 2207.7H2360.6M2305.5 2242.1H2360.6M2305.5 2276.6H2360.6M2305.5 2311.1H2360.6M2305.5 2345.6H2360.6M2305.5 2380.1H2360.6M2305.5 2414.6H2360.6M2305.5 2449.1H2360.6M2305.5 2483.6H2360.6M2305.5 2518.1H2360.6" stroke="#000" stroke-width="1.9" fill="none"/>
<text x="2376.87" y="1977.09" font-size="32.60" textLength="31.62" lengthAdjust="spacingAndGlyphs" stroke="#000" stroke-width="1.1">90</text>
<text x="2376.83" y="2011.59" font-size="32.60" textLength="31.62" lengthAdjust="spacingAndGlyphs" stroke="#000" stroke-width="1.1">85</text>
<text x="2376.79" y="2046.08" font-size="32.60" textLength="31.62" lengthAdjust="spacingAndGlyphs" stroke="#000" stroke-width="1.1">80</text>
<text x="2376.39" y="2080.58" font-size="32.60" textLength="31.62" lengthAdjust="spacingAndGlyphs" stroke="#000" stroke-width="1.1">75</text>
<text x="2376.35" y="2115.07" font-size="32.60" textLength="31.62" lengthAdjust="spacingAndGlyphs" stroke="#000" stroke-width="1.1">70</text>
<text x="2376.75" y="2149.57" font-size="32.60" textLength="31.62" lengthAdjust="spacingAndGlyphs" stroke="#000" stroke-width="1.1">65</text>
<text x="2376.71" y="2184.06" font-size="32.60" textLength="31.62" lengthAdjust="spacingAndGlyphs" stroke="#000" stroke-width="1.1">60</text>
<text x="2376.51" y="2218.56" font-size="32.60" textLength="31.62" lengthAdjust="spacingAndGlyphs" stroke="#000" stroke-width="1.1">55</text>
<text x="2376.47" y="2253.05" font-size="32.60" textLength="31.62" lengthAdjust="spacingAndGlyphs" stroke="#000" stroke-width="1.1">50</text>
<text x="2377.11" y="2287.54" font-size="32.60" textLength="31.62" lengthAdjust="spacingAndGlyphs" stroke="#000" stroke-width="1.1">45</text>
<text x="2377.07" y="2322.04" font-size="32.60" textLength="31.62" lengthAdjust="spacingAndGlyphs" stroke="#000" stroke-width="1.1">40</text>
<text x="2376.67" y="2356.53" font-size="32.60" textLength="31.62" lengthAdjust="spacingAndGlyphs" stroke="#000" stroke-width="1.1">35</text>
<text x="2376.63" y="2391.03" font-size="32.60" textLength="31.62" lengthAdjust="spacingAndGlyphs" stroke="#000" stroke-width="1.1">30</text>
<text x="2376.75" y="2425.52" font-size="32.60" textLength="31.62" lengthAdjust="spacingAndGlyphs" stroke="#000" stroke-width="1.1">25</text>
<text x="2376.71" y="2460.02" font-size="32.60" textLength="31.62" lengthAdjust="spacingAndGlyphs" stroke="#000" stroke-width="1.1">20</text>
<text x="2376.04" y="2494.51" font-size="32.60" textLength="31.62" lengthAdjust="spacingAndGlyphs" stroke="#000" stroke-width="1.1">15</text>
<text x="2376.00" y="2529.01" font-size="32.60" textLength="31.62" lengthAdjust="spacingAndGlyphs" stroke="#000" stroke-width="1.1">10</text>
<g clip-path="url(#clip_c2)">
<rect x="123.0" y="2702.2" width="926.0" height="644.8" fill="#2400d8"/>
<path fill="#181cf7" stroke="#181cf7" stroke-width="0.6" fill-rule="evenodd" d="M116 3354l940 0 0-659-940 0 0 654z"/>
<path fill="#2857ff" stroke="#2857ff" stroke-width="0.6" fill-rule="evenodd" d="M240 3354l816 0 0-376-137-2-26-5-11-5-4-5-4-16-6-56-5-25-3-11-6-10-12-15-6-3-10-4-61-11-46-14-36-5-12-4-7-5-5-5-17-26-25-28-10-18 0-10-401 0-1 20-3 11-4 10-25 36-18 20-9 15-3 11-3 15-3 61-3 21-8 30-10 0 0 193 10-1 8 8 0 10 26 25 0 6 5 5 0 10 5 5 0 10 15 16 0 10 5 5 0 5 5 5 0 5 16 16 0 5 5 5 0 5 5 5 0 26 20 20 0 5zM993 2925l63 1 0-52-46 0-30 1-26 3-10 4-6 7-2 5 0 5 3 10 5 7 10 5 36 4z"/>
<path fill="#3d87ff" stroke="#3d87ff" stroke-width="0.6" fill-rule="evenodd" d="M242 3354l814 0 0-357-41 1-46-2-56 0-31-3-21-7-9-5-6-5-6-10 0-10 3-41 1-21-2-10-3-5-3-5-6-5-14-7-15-4-67-12-10-5-13-8-7-3-6 0-5 2-17 16-13 6-11 2-10 1-15-3-11-6-14-10-16-24-39-42-46-41-12-9-15-6-16-3-76-5-11 2-10 7-8 14-15 41-7 10-6 3-5 2-15 0-46-12-10 0-16 4-35 16-16 8-10 8-8 12-4 10-9 72-18 66-7 20-10 0 0 145 2-2 0-5 3-2 10 0 13 13 0 15 8 8 5 0 2 2 0 5 10 10 0 6 6 5 0 10 5 5 0 5 5 5 0 5 10 11 0 10 5 5 0 5 5 5 0 5 16 16 0 5 5 5 0 10 5 5 0 21 20 20 0 5-2 3-5 0z"/>
<path fill="#56b0ff" stroke="#56b0ff" stroke-width="0.6" fill-rule="evenodd" d="M262 3354l794 0 0-332-41 0-29-5-22-2-51 0-46-1-20-2-33-5-29-11-25-12-10-7-11-15-10-8-10-3-36-5-15-6-11-10-19-36-5-5-15-10-32-17-15-4-46-4-36 3-41 6-10 0-7-4-5-11-2-15 4-16 5-7 5-3 20-3 14-7 8-10 4-15-2-16-5-10-4-5-7-5-8-4-15-3-31 1-36 11-5 5-5 7-12 24-7 10-11 10-11 5-15 1-41-2-20 1-16 3-15 6-21 12-8 10-4 10-14 62-34 97-4 20 2 31 4 15 12 31 4 15-3 1-11-8-5 0-5-5-10 0-5 6 0 8 20 0 18 18 0 11 16 15 0 5 10 10 0 5 5 6 0 10 5 5 0 5 5 5 0 5 11 10 0 11 5 5 0 5 10 10 0 5 10 10 0 6 5 5 0 10 5 5 0 15 11 11 0 5 10 10 0 10zM315 3053l-15-3-4-2-10-11-5-10 1-10 7-26 5-30 4-11 3-5 9-6 26-6 35-13 11-1 10 4 5 5 5 7 5 12 2 9 0 10-2 10-5 13-10 19-10 13-18 11-28 16-16 5zM762 2910l3 1 5-2 4-4 2-6-1-5-10-3-5 2-1 1-1 5 2 9z"/>
<path fill="#75d3ff" stroke="#75d3ff" stroke-width="0.6" fill-rule="evenodd" d="M330 3354l726 0 0-42-41-41-5-7-5-9-4-13-3-26 3-15 4-9 5-6 10-7 36-13 0-30-41-16-30-15-32-11-35-20-10-5-15-2-62 2-10-1-10-3-31-15-36-13-40-18-26-6-46-5-10-2-10-4-8-6-10-10-11-20-4-21-4-51-5-5-15-6-20-5-21-2-20 2-19 6-8 5-4 5-1 5 3 11 3 5 6 6 10 8 15 7 40 9 10 5 5 6 1 5-1 5-3 5-18 20-13 13-11 6-10 2-41 6-15 4-5 5-16 31-10 10-10 5-31 10-28 21-18 9-15 2-15 0-16-4-15-7-10-1-16 5-10 5-15 3-10 3-7 5-4 5-4 11-1 15 5 8 19 17 7 11 4 10 5 20 18 36 12 36 7 14 10 11 8 6 13 5 25 6 5 4 5 5 0 5zM179 3073l8 4 16-1 10-3 5-3 5-6 4-16 4-46 4-16 9-12 10-9 16-30 9-11 16-12 23-13 12-10 11-7 20-7 31-4 5-3 5-5 5-15 1-35-1-26-1-5-4-6-5-1-10 1-11 4-25 25-10 7-11 5-10 3-33 3-28 5-9 5-12 12-5 7-5 12-13 41-7 15-7 10-14 9-10 13-15 32-9 23-2 10-1 10 2 10 3 11 7 12 5 5 10 7zM426 2772l12 1 10 0 1-1 1-5-2-3-5-1-17 4z"/>
<path fill="#99eaff" stroke="#99eaff" stroke-width="0.6" fill-rule="evenodd" d="M342 3354l629 0 0-10-4-36-1-36 5-76 7-41-1-5-2-5-5-5-6-3-82 0-35-4-31-2-15-3-17-9-27-25-16-11-71-25-12-3-16-2-10 0-15 3-16 6-25 13-33 13-85 25-20 3-41 0-21 3-15 7-42 24-29 20-12 10-8 11-5 10-3 10 0 10 4 16 8 20 12 26 12 15 22 16 10 9 10 16 2 5 0 5zM185 3027l2 3 5-1 2-2 0-5-2-6-5 0-3 6zM380 2838l2 0 3-5-3-7-6 2-3 5 3 4z"/>
<path fill="#bcf9ff" stroke="#bcf9ff" stroke-width="0.6" fill-rule="evenodd" d="M352 3354l581 0-2-46-5-41-3-10-5-13-5-7-5-5-10-6-10-4-62-8-66-16-41-25-41-18-7-5-8-8-21-27-5-4-10-3-10 1-51 8-37 7-35 10-41 15-41 10-15 8-24 24-12 8-15 4-16-1-10 4-5 5-2 5 1 5 9 36 3 26 4 10 11 16 5 11 5 19 1 10z"/>
<path fill="#eaffff" stroke="#eaffff" stroke-width="0.6" fill-rule="evenodd" d="M362 3354l541 0 0-10-2-15-3-12-4-9-11-15-12-10-9-5-14-6-27-7-41-9-20-6-16-10-24-24-11-7-11-3-51-6-16-4-9-5-7-5-19-22-10-9-10-5-5 0-16 4-9 6-32 24-27 17-44 24-31 22-37 25-7 11-3 10-2 20-1 36z"/>
<path fill="#ffffea" stroke="#ffffea" stroke-width="0.6" fill-rule="evenodd" d="M380 3354l415 0 0-10-35-27-31-28-20-13-21-5-51-5-41-13-20-3-21 0-25 4-26 6-19 7-14 11-23 24-10 10-16 10-40 19-2 3 0 5z"/>
<path fill="#fff1bc" stroke="#fff1bc" stroke-width="0.6" fill-rule="evenodd" d="M534 3354l180 0 0-10-10-6-31-4-51-4-46-7-10 1-16 5-6 5-9 8-1 2 0 5z"/>
</g>
<path d="M125.7 2726.0L135.7 2714.8L153.0 2714.8L170.2 2722.6L189.2 2741.6L208.2 2762.2L208.2 2740.7L225.4 2720.9L239.2 2717.4L239.2 2703.6M125.7 2746.7L139.2 2729.5L149.5 2730.3L159.9 2738.1L165.1 2746.7L173.7 2748.4L165.1 2755.3L170.2 2770.9L190.9 2791.6L190.9 2815.7L193.5 2846.7L190.1 2858.8L199.5 2867.4L190.9 2877.8L185.7 2891.6L168.5 2893.3L160.6 2903.9L160.6 2909.4L162.8 2913.8L161.7 2918.3L152.8 2917.2L151.2 2921.6L155.1 2927.1L155.1 2930.5L126.2 2943.8M125.7 2765.7L128.0 2768.0L125.7 2770.9M125.1 3023.6L136.2 3024.7L126.2 3046.8M125.6 3136.1L134.7 3145.2L137.0 3160.0L149.6 3170.3L158.7 3181.7L164.4 3195.4L171.2 3215.9L184.9 3235.3L190.6 3252.4L200.9 3268.4L211.2 3279.8L222.6 3309.4L221.4 3324.3L240.8 3345.0M330.2 2703.6L328.0 2712.2L335.7 2720.9L336.6 2732.9L354.7 2728.6L354.7 2710.5L349.5 2703.6M571.6 2704.4L575.8 2712.8L586.3 2711.8L611.4 2717.0L615.6 2729.5L609.3 2747.3L630.2 2741.1L670.0 2766.2L676.3 2778.8L673.1 2789.2L684.7 2786.1L702.2 2798.3L711.3 2809.7L722.7 2813.1L743.2 2812.0L752.3 2809.7L768.2 2809.7L791.0 2815.4L811.5 2822.2L827.5 2832.5L848.0 2846.1L867.4 2864.4L867.4 2880.3L875.3 2898.5L879.9 2914.5L895.8 2915.6L895.0 2933.0L882.5 2945.0L871.0 2954.7L861.1 2963.2L857.5 2974.6L856.1 2993.0L869.6 2987.3L876.7 3004.3L881.6 2971.7L890.8 2966.1L905.0 2966.1L920.6 2966.1L931.9 2968.2L926.2 2997.2L931.9 3000.1L940.4 2983.1L948.9 2978.8L964.5 2978.8L978.6 2985.9L1005.5 2993.0L1011.2 3004.3L1023.9 2999.4L1033.8 3018.5L1033.1 3032.6L1048.5 3029.8M585.5 2706.0L608.5 2706.0" stroke="#000" stroke-width="5.6" stroke-linejoin="round" stroke-linecap="round" fill="none" clip-path="url(#clip_c2)"/>
<path d="M126.0 2705.2L126.0 2684.2M126.0 3344.0L126.0 3365.0M381.6 2705.2L381.6 2684.2M381.6 3344.0L381.6 3365.0M637.1 2705.2L637.1 2684.2M637.1 3344.0L637.1 3365.0M892.7 2705.2L892.7 2684.2M892.7 3344.0L892.7 3365.0M126.0 2705.2L105.0 2705.2M1046.0 2705.2L1067.0 2705.2M126.0 2960.7L105.0 2960.7M1046.0 2960.7L1067.0 2960.7M126.0 3216.2L105.0 3216.2M1046.0 3216.2L1067.0 3216.2" stroke="#000" stroke-width="3.6" stroke-linecap="round" fill="none"/>
<path d="M177.1 2705.2L177.1 2693.2M177.1 3344.0L177.1 3356.0M228.2 2705.2L228.2 2693.2M228.2 3344.0L228.2 3356.0M279.3 2705.2L279.3 2693.2M279.3 3344.0L279.3 3356.0M330.4 2705.2L330.4 2693.2M330.4 3344.0L330.4 3356.0M432.7 2705.2L432.7 2693.2M432.7 3344.0L432.7 3356.0M483.8 2705.2L483.8 2693.2M483.8 3344.0L483.8 3356.0M534.9 2705.2L534.9 2693.2M534.9 3344.0L534.9 3356.0M586.0 2705.2L586.0 2693.2M586.0 3344.0L586.0 3356.0M688.2 2705.2L688.2 2693.2M688.2 3344.0L688.2 3356.0M739.3 2705.2L739.3 2693.2M739.3 3344.0L739.3 3356.0M790.4 2705.2L790.4 2693.2M790.4 3344.0L790.4 3356.0M841.6 2705.2L841.6 2693.2M841.6 3344.0L841.6 3356.0M943.8 2705.2L943.8 2693.2M943.8 3344.0L943.8 3356.0M994.9 2705.2L994.9 2693.2M994.9 3344.0L994.9 3356.0M1046.0 2705.2L1046.0 2693.2M1046.0 3344.0L1046.0 3356.0M126.0 2756.3L114.0 2756.3M1046.0 2756.3L1058.0 2756.3M126.0 2807.4L114.0 2807.4M1046.0 2807.4L1058.0 2807.4M126.0 2858.5L114.0 2858.5M1046.0 2858.5L1058.0 2858.5M126.0 2909.6L114.0 2909.6M1046.0 2909.6L1058.0 2909.6M126.0 3011.8L114.0 3011.8M1046.0 3011.8L1058.0 3011.8M126.0 3062.9L114.0 3062.9M1046.0 3062.9L1058.0 3062.9M126.0 3114.0L114.0 3114.0M1046.0 3114.0L1058.0 3114.0M126.0 3165.1L114.0 3165.1M1046.0 3165.1L1058.0 3165.1M126.0 3267.3L114.0 3267.3M1046.0 3267.3L1058.0 3267.3M126.0 3318.4L114.0 3318.4M1046.0 3318.4L1058.0 3318.4" stroke="#000" stroke-width="2" fill="none"/>
<rect x="126.0" y="2705.2" width="920.0" height="638.8" fill="none" stroke="#000" stroke-width="3.8"/>
<text x="29.94" y="2716.00" font-size="32.60" textLength="54.46" lengthAdjust="spacingAndGlyphs" stroke="#000" stroke-width="1.1">10N</text>
<text x="69.07" y="2971.52" font-size="32.60" textLength="15.81" lengthAdjust="spacingAndGlyphs" stroke="#000" stroke-width="1.1">0</text>
<text x="36.43" y="3227.04" font-size="32.60" textLength="49.21" lengthAdjust="spacingAndGlyphs" stroke="#000" stroke-width="1.1">10S</text>
<text x="95.34" y="3407.80" font-size="32.60" textLength="60.20" lengthAdjust="spacingAndGlyphs" stroke="#000" stroke-width="1.1">80W</text>
<text x="350.47" y="3407.80" font-size="32.60" textLength="60.20" lengthAdjust="spacingAndGlyphs" stroke="#000" stroke-width="1.1">70W</text>
<text x="606.37" y="3407.80" font-size="32.60" textLength="60.20" lengthAdjust="spacingAndGlyphs" stroke="#000" stroke-width="1.1">60W</text>
<text x="861.70" y="3407.80" font-size="32.60" textLength="60.20" lengthAdjust="spacingAndGlyphs" stroke="#000" stroke-width="1.1">50W</text>
<rect x="1111.0" y="2714.6" width="54.0" height="34.8" fill="#a50021"/>
<rect x="1111.0" y="2749.1" width="54.0" height="34.8" fill="#d8152f"/>
<rect x="1111.0" y="2783.6" width="54.0" height="34.8" fill="#f72735"/>
<rect x="1111.0" y="2818.1" width="54.0" height="34.8" fill="#ff3d3d"/>
<rect x="1111.0" y="2852.6" width="54.0" height="34.8" fill="#ff7856"/>
<rect x="1111.0" y="2887.1" width="54.0" height="34.8" fill="#ffac75"/>
<rect x="1111.0" y="2921.6" width="54.0" height="34.8" fill="#ffd699"/>
<rect x="1111.0" y="2956.1" width="54.0" height="34.8" fill="#fff1bc"/>
<rect x="1111.0" y="2990.6" width="54.0" height="34.8" fill="#ffffea"/>
<rect x="1111.0" y="3025.1" width="54.0" height="34.8" fill="#eaffff"/>
<rect x="1111.0" y="3059.6" width="54.0" height="34.8" fill="#bcf9ff"/>
<rect x="1111.0" y="3094.1" width="54.0" height="34.8" fill="#99eaff"/>
<rect x="1111.0" y="3128.6" width="54.0" height="34.8" fill="#75d3ff"/>
<rect x="1111.0" y="3163.1" width="54.0" height="34.8" fill="#56b0ff"/>
<rect x="1111.0" y="3197.6" width="54.0" height="34.8" fill="#3d87ff"/>
<rect x="1111.0" y="3232.1" width="54.0" height="34.8" fill="#2857ff"/>
<rect x="1111.0" y="3266.6" width="54.0" height="34.8" fill="#181cf7"/>
<rect x="1111.0" y="3301.1" width="54.0" height="34.8" fill="#2400d8"/>
<path d="M1111.0 2714.6H1165.0V3335.6H1111.0ZM1111.0 2749.1H1165.0M1111.0 2783.6H1165.0M1111.0 2818.1H1165.0M1111.0 2852.6H1165.0M1111.0 2887.1H1165.0M1111.0 2921.6H1165.0M1111.0 2956.1H1165.0M1111.0 2990.6H1165.0M1111.0 3025.1H1165.0M1111.0 3059.6H1165.0M1111.0 3094.1H1165.0M1111.0 3128.6H1165.0M1111.0 3163.1H1165.0M1111.0 3197.6H1165.0M1111.0 3232.1H1165.0M1111.0 3266.6H1165.0M1111.0 3301.1H1165.0" stroke="#000" stroke-width="1.9" fill="none"/>
<text x="1193.09" y="2760.00" font-size="32.60" textLength="15.81" lengthAdjust="spacingAndGlyphs" stroke="#000" stroke-width="1.1">8</text>
<text x="1180.84" y="2794.50" font-size="32.60" textLength="39.53" lengthAdjust="spacingAndGlyphs" stroke="#000" stroke-width="1.1">7.5</text>
<text x="1192.50" y="2829.00" font-size="32.60" textLength="15.81" lengthAdjust="spacingAndGlyphs" stroke="#000" stroke-width="1.1">7</text>
<text x="1181.20" y="2863.50" font-size="32.60" textLength="39.53" lengthAdjust="spacingAndGlyphs" stroke="#000" stroke-width="1.1">6.5</text>
<text x="1192.90" y="2898.00" font-size="32.60" textLength="15.81" lengthAdjust="spacingAndGlyphs" stroke="#000" stroke-width="1.1">6</text>
<text x="1180.96" y="2932.50" font-size="32.60" textLength="39.53" lengthAdjust="spacingAndGlyphs" stroke="#000" stroke-width="1.1">5.5</text>
<text x="1192.82" y="2967.00" font-size="32.60" textLength="15.81" lengthAdjust="spacingAndGlyphs" stroke="#000" stroke-width="1.1">5</text>
<text x="1181.55" y="3001.50" font-size="32.60" textLength="39.53" lengthAdjust="spacingAndGlyphs" stroke="#000" stroke-width="1.1">4.5</text>
<text x="1193.02" y="3036.00" font-size="32.60" textLength="15.81" lengthAdjust="spacingAndGlyphs" stroke="#000" stroke-width="1.1">4</text>
<text x="1181.12" y="3070.50" font-size="32.60" textLength="39.53" lengthAdjust="spacingAndGlyphs" stroke="#000" stroke-width="1.1">3.5</text>
<text x="1192.98" y="3105.00" font-size="32.60" textLength="15.81" lengthAdjust="spacingAndGlyphs" stroke="#000" stroke-width="1.1">3</text>
<text x="1181.20" y="3139.50" font-size="32.60" textLength="39.53" lengthAdjust="spacingAndGlyphs" stroke="#000" stroke-width="1.1">2.5</text>
<text x="1193.29" y="3174.00" font-size="32.60" textLength="15.81" lengthAdjust="spacingAndGlyphs" stroke="#000" stroke-width="1.1">2</text>
<text x="1180.49" y="3208.50" font-size="32.60" textLength="39.53" lengthAdjust="spacingAndGlyphs" stroke="#000" stroke-width="1.1">1.5</text>
<text x="1192.66" y="3243.00" font-size="32.60" textLength="15.81" lengthAdjust="spacingAndGlyphs" stroke="#000" stroke-width="1.1">1</text>
<text x="1181.28" y="3277.50" font-size="32.60" textLength="39.53" lengthAdjust="spacingAndGlyphs" stroke="#000" stroke-width="1.1">0.5</text>
<text x="1193.09" y="3312.00" font-size="32.60" textLength="15.81" lengthAdjust="spacingAndGlyphs" stroke="#000" stroke-width="1.1">0</text>
<g clip-path="url(#clip_d2)">
<rect x="1314.6" y="2702.2" width="926.0" height="644.8" fill="#2400d8"/>
<path fill="#181cf7" stroke="#181cf7" stroke-width="0.6" fill-rule="evenodd" d="M1318 2705l958 0 0 639-958 0 0-575z"/>
<path fill="#2857ff" stroke="#2857ff" stroke-width="0.6" fill-rule="evenodd" d="M1318 2705l415 0 32 24 64 12 64 19 63 27 64 35 64 54 43 21 21 9 64 42 64 9 0 387-788 0-6-64-37-59-48-69-13-64 5-63 32-64 24-55 6-9-13-64-60-64-60-46z"/>
<path fill="#3d87ff" stroke="#3d87ff" stroke-width="0.6" fill-rule="evenodd" d="M1507 2833l2-4 64-34 64-19 64 25 128 16 64 14 127 64 64 63 100 67 28 11 64 10 0 298-643 0-60-73-38-55-26-25-54-39-10-12-10-52 10-25 64-2 55 27 9 13 64 44 64 0 64-9 32-48-32-54-9-9-7-64-39-64-9-9-64-19-64-4-64-28z"/>
<path fill="#56b0ff" stroke="#56b0ff" stroke-width="0.6" fill-rule="evenodd" d="M1826 2897l3-2 64-4 12 6 51 42 19 22 45 45 32 19 32 21 64 29 64 17 64 12 0 240-529 0 2-64 16-11 64-2 32-51 26-64 6-32 9-32-9-15-18-48-21-64-25-56z"/>
<path fill="#75d3ff" stroke="#75d3ff" stroke-width="0.6" fill-rule="evenodd" d="M2063 3152l21-5 64 2 13 3 51 32 64 28 0 13-64 68-32 51-266 0 30-64 12-42 13-22 51-42z"/>
</g>
<path d="M1317.3 2726.0L1327.3 2714.8L1344.6 2714.8L1361.8 2722.6L1380.8 2741.6L1399.8 2762.2L1399.8 2740.7L1417.0 2720.9L1430.8 2717.4L1430.8 2703.6M1317.3 2746.7L1330.8 2729.5L1341.1 2730.3L1351.5 2738.1L1356.7 2746.7L1365.3 2748.4L1356.7 2755.3L1361.8 2770.9L1382.5 2791.6L1382.5 2815.7L1385.1 2846.7L1381.7 2858.8L1391.1 2867.4L1382.5 2877.8L1377.3 2891.6L1360.1 2893.3L1352.2 2903.9L1352.2 2909.4L1354.4 2913.8L1353.3 2918.3L1344.4 2917.2L1342.8 2921.6L1346.7 2927.1L1346.7 2930.5L1317.8 2943.8M1317.3 2765.7L1319.6 2768.0L1317.3 2770.9M1316.7 3023.6L1327.8 3024.7L1317.8 3046.8M1317.2 3136.1L1326.3 3145.2L1328.6 3160.0L1341.2 3170.3L1350.3 3181.7L1356.0 3195.4L1362.8 3215.9L1376.5 3235.3L1382.2 3252.4L1392.5 3268.4L1402.8 3279.8L1414.2 3309.4L1413.0 3324.3L1432.4 3345.0M1521.8 2703.6L1519.6 2712.2L1527.3 2720.9L1528.2 2732.9L1546.3 2728.6L1546.3 2710.5L1541.1 2703.6M1763.2 2704.4L1767.4 2712.8L1777.9 2711.8L1803.0 2717.0L1807.2 2729.5L1800.9 2747.3L1821.8 2741.1L1861.6 2766.2L1867.9 2778.8L1864.7 2789.2L1876.3 2786.1L1893.8 2798.3L1902.9 2809.7L1914.3 2813.1L1934.8 2812.0L1943.9 2809.7L1959.8 2809.7L1982.6 2815.4L2003.1 2822.2L2019.1 2832.5L2039.6 2846.1L2059.0 2864.4L2059.0 2880.3L2066.9 2898.5L2071.5 2914.5L2087.4 2915.6L2086.6 2933.0L2074.1 2945.0L2062.6 2954.7L2052.7 2963.2L2049.1 2974.6L2047.7 2993.0L2061.2 2987.3L2068.3 3004.3L2073.2 2971.7L2082.4 2966.1L2096.6 2966.1L2112.2 2966.1L2123.5 2968.2L2117.8 2997.2L2123.5 3000.1L2132.0 2983.1L2140.5 2978.8L2156.1 2978.8L2170.2 2985.9L2197.1 2993.0L2202.8 3004.3L2215.5 2999.4L2225.4 3018.5L2224.7 3032.6L2240.1 3029.8M1777.1 2706.0L1800.1 2706.0" stroke="#000" stroke-width="5.6" stroke-linejoin="round" stroke-linecap="round" fill="none" clip-path="url(#clip_d2)"/>
<path d="M1317.6 2705.2L1317.6 2684.2M1317.6 3344.0L1317.6 3365.0M1573.2 2705.2L1573.2 2684.2M1573.2 3344.0L1573.2 3365.0M1828.7 2705.2L1828.7 2684.2M1828.7 3344.0L1828.7 3365.0M2084.3 2705.2L2084.3 2684.2M2084.3 3344.0L2084.3 3365.0M1317.6 2705.2L1296.6 2705.2M2237.6 2705.2L2258.6 2705.2M1317.6 2960.7L1296.6 2960.7M2237.6 2960.7L2258.6 2960.7M1317.6 3216.2L1296.6 3216.2M2237.6 3216.2L2258.6 3216.2" stroke="#000" stroke-width="3.6" stroke-linecap="round" fill="none"/>
<path d="M1368.7 2705.2L1368.7 2693.2M1368.7 3344.0L1368.7 3356.0M1419.8 2705.2L1419.8 2693.2M1419.8 3344.0L1419.8 3356.0M1470.9 2705.2L1470.9 2693.2M1470.9 3344.0L1470.9 3356.0M1522.0 2705.2L1522.0 2693.2M1522.0 3344.0L1522.0 3356.0M1624.3 2705.2L1624.3 2693.2M1624.3 3344.0L1624.3 3356.0M1675.4 2705.2L1675.4 2693.2M1675.4 3344.0L1675.4 3356.0M1726.5 2705.2L1726.5 2693.2M1726.5 3344.0L1726.5 3356.0M1777.6 2705.2L1777.6 2693.2M1777.6 3344.0L1777.6 3356.0M1879.8 2705.2L1879.8 2693.2M1879.8 3344.0L1879.8 3356.0M1930.9 2705.2L1930.9 2693.2M1930.9 3344.0L1930.9 3356.0M1982.0 2705.2L1982.0 2693.2M1982.0 3344.0L1982.0 3356.0M2033.2 2705.2L2033.2 2693.2M2033.2 3344.0L2033.2 3356.0M2135.4 2705.2L2135.4 2693.2M2135.4 3344.0L2135.4 3356.0M2186.5 2705.2L2186.5 2693.2M2186.5 3344.0L2186.5 3356.0M2237.6 2705.2L2237.6 2693.2M2237.6 3344.0L2237.6 3356.0M1317.6 2756.3L1305.6 2756.3M2237.6 2756.3L2249.6 2756.3M1317.6 2807.4L1305.6 2807.4M2237.6 2807.4L2249.6 2807.4M1317.6 2858.5L1305.6 2858.5M2237.6 2858.5L2249.6 2858.5M1317.6 2909.6L1305.6 2909.6M2237.6 2909.6L2249.6 2909.6M1317.6 3011.8L1305.6 3011.8M2237.6 3011.8L2249.6 3011.8M1317.6 3062.9L1305.6 3062.9M2237.6 3062.9L2249.6 3062.9M1317.6 3114.0L1305.6 3114.0M2237.6 3114.0L2249.6 3114.0M1317.6 3165.1L1305.6 3165.1M2237.6 3165.1L2249.6 3165.1M1317.6 3267.3L1305.6 3267.3M2237.6 3267.3L2249.6 3267.3M1317.6 3318.4L1305.6 3318.4M2237.6 3318.4L2249.6 3318.4" stroke="#000" stroke-width="2" fill="none"/>
<rect x="1317.6" y="2705.2" width="920.0" height="638.8" fill="none" stroke="#000" stroke-width="3.8"/>
<text x="1221.54" y="2716.00" font-size="32.60" textLength="54.46" lengthAdjust="spacingAndGlyphs" stroke="#000" stroke-width="1.1">10N</text>
<text x="1260.67" y="2971.52" font-size="32.60" textLength="15.81" lengthAdjust="spacingAndGlyphs" stroke="#000" stroke-width="1.1">0</text>
<text x="1228.03" y="3227.04" font-size="32.60" textLength="49.21" lengthAdjust="spacingAndGlyphs" stroke="#000" stroke-width="1.1">10S</text>
<text x="1286.94" y="3407.80" font-size="32.60" textLength="60.20" lengthAdjust="spacingAndGlyphs" stroke="#000" stroke-width="1.1">80W</text>
<text x="1542.07" y="3407.80" font-size="32.60" textLength="60.20" lengthAdjust="spacingAndGlyphs" stroke="#000" stroke-width="1.1">70W</text>
<text x="1797.97" y="3407.80" font-size="32.60" textLength="60.20" lengthAdjust="spacingAndGlyphs" stroke="#000" stroke-width="1.1">60W</text>
<text x="2053.30" y="3407.80" font-size="32.60" textLength="60.20" lengthAdjust="spacingAndGlyphs" stroke="#000" stroke-width="1.1">50W</text>
<rect x="2302.6" y="2714.6" width="54.0" height="34.8" fill="#a50021"/>
<rect x="2302.6" y="2749.1" width="54.0" height="34.8" fill="#d8152f"/>
<rect x="2302.6" y="2783.6" width="54.0" height="34.8" fill="#f72735"/>
<rect x="2302.6" y="2818.1" width="54.0" height="34.8" fill="#ff3d3d"/>
<rect x="2302.6" y="2852.6" width="54.0" height="34.8" fill="#ff7856"/>
<rect x="2302.6" y="2887.1" width="54.0" height="34.8" fill="#ffac75"/>
<rect x="2302.6" y="2921.6" width="54.0" height="34.8" fill="#ffd699"/>
<rect x="2302.6" y="2956.1" width="54.0" height="34.8" fill="#fff1bc"/>
<rect x="2302.6" y="2990.6" width="54.0" height="34.8" fill="#ffffea"/>
<rect x="2302.6" y="3025.1" width="54.0" height="34.8" fill="#eaffff"/>
<rect x="2302.6" y="3059.6" width="54.0" height="34.8" fill="#bcf9ff"/>
<rect x="2302.6" y="3094.1" width="54.0" height="34.8" fill="#99eaff"/>
<rect x="2302.6" y="3128.6" width="54.0" height="34.8" fill="#75d3ff"/>
<rect x="2302.6" y="3163.1" width="54.0" height="34.8" fill="#56b0ff"/>
<rect x="2302.6" y="3197.6" width="54.0" height="34.8" fill="#3d87ff"/>
<rect x="2302.6" y="3232.1" width="54.0" height="34.8" fill="#2857ff"/>
<rect x="2302.6" y="3266.6" width="54.0" height="34.8" fill="#181cf7"/>
<rect x="2302.6" y="3301.1" width="54.0" height="34.8" fill="#2400d8"/>
<path d="M2302.6 2714.6H2356.6V3335.6H2302.6ZM2302.6 2749.1H2356.6M2302.6 2783.6H2356.6M2302.6 2818.1H2356.6M2302.6 2852.6H2356.6M2302.6 2887.1H2356.6M2302.6 2921.6H2356.6M2302.6 2956.1H2356.6M2302.6 2990.6H2356.6M2302.6 3025.1H2356.6M2302.6 3059.6H2356.6M2302.6 3094.1H2356.6M2302.6 3128.6H2356.6M2302.6 3163.1H2356.6M2302.6 3197.6H2356.6M2302.6 3232.1H2356.6M2302.6 3266.6H2356.6M2302.6 3301.1H2356.6" stroke="#000" stroke-width="1.9" fill="none"/>
<text x="2384.69" y="2760.00" font-size="32.60" textLength="15.81" lengthAdjust="spacingAndGlyphs" stroke="#000" stroke-width="1.1">8</text>
<text x="2372.44" y="2794.50" font-size="32.60" textLength="39.53" lengthAdjust="spacingAndGlyphs" stroke="#000" stroke-width="1.1">7.5</text>
<text x="2384.10" y="2829.00" font-size="32.60" textLength="15.81" lengthAdjust="spacingAndGlyphs" stroke="#000" stroke-width="1.1">7</text>
<text x="2372.80" y="2863.50" font-size="32.60" textLength="39.53" lengthAdjust="spacingAndGlyphs" stroke="#000" stroke-width="1.1">6.5</text>
<text x="2384.50" y="2898.00" font-size="32.60" textLength="15.81" lengthAdjust="spacingAndGlyphs" stroke="#000" stroke-width="1.1">6</text>
<text x="2372.56" y="2932.50" font-size="32.60" textLength="39.53" lengthAdjust="spacingAndGlyphs" stroke="#000" stroke-width="1.1">5.5</text>
<text x="2384.42" y="2967.00" font-size="32.60" textLength="15.81" lengthAdjust="spacingAndGlyphs" stroke="#000" stroke-width="1.1">5</text>
<text x="2373.15" y="3001.50" font-size="32.60" textLength="39.53" lengthAdjust="spacingAndGlyphs" stroke="#000" stroke-width="1.1">4.5</text>
<text x="2384.62" y="3036.00" font-size="32.60" textLength="15.81" lengthAdjust="spacingAndGlyphs" stroke="#000" stroke-width="1.1">4</text>
<text x="2372.72" y="3070.50" font-size="32.60" textLength="39.53" lengthAdjust="spacingAndGlyphs" stroke="#000" stroke-width="1.1">3.5</text>
<text x="2384.58" y="3105.00" font-size="32.60" textLength="15.81" lengthAdjust="spacingAndGlyphs" stroke="#000" stroke-width="1.1">3</text>
<text x="2372.80" y="3139.50" font-size="32.60" textLength="39.53" lengthAdjust="spacingAndGlyphs" stroke="#000" stroke-width="1.1">2.5</text>
<text x="2384.89" y="3174.00" font-size="32.60" textLength="15.81" lengthAdjust="spacingAndGlyphs" stroke="#000" stroke-width="1.1">2</text>
<text x="2372.09" y="3208.50" font-size="32.60" textLength="39.53" lengthAdjust="spacingAndGlyphs" stroke="#000" stroke-width="1.1">1.5</text>
<text x="2384.26" y="3243.00" font-size="32.60" textLength="15.81" lengthAdjust="spacingAndGlyphs" stroke="#000" stroke-width="1.1">1</text>
<text x="2372.88" y="3277.50" font-size="32.60" textLength="39.53" lengthAdjust="spacingAndGlyphs" stroke="#000" stroke-width="1.1">0.5</text>
<text x="2384.69" y="3312.00" font-size="32.60" textLength="15.81" lengthAdjust="spacingAndGlyphs" stroke="#000" stroke-width="1.1">0</text>
<text x="121.98" y="130.30" font-size="106.60" textLength="84.68" lengthAdjust="spacingAndGlyphs" stroke="#000" stroke-width="1.7">a)</text>
<text x="275.62" y="106.90" font-size="74.80" textLength="735.62" lengthAdjust="spacingAndGlyphs" stroke="#000" stroke-width="1.7">RCM-GW: Climatology</text>
<text x="1238.10" y="130.00" font-size="106.60" textLength="90.37" lengthAdjust="spacingAndGlyphs" stroke="#000" stroke-width="1.7">b)</text>
<text x="1414.68" y="106.90" font-size="74.80" textLength="839.50" lengthAdjust="spacingAndGlyphs" stroke="#000" stroke-width="1.7">CCCMA-GW: Climatology</text>
<text x="60.49" y="1838.00" font-size="106.60" textLength="85.09" lengthAdjust="spacingAndGlyphs" stroke="#000" stroke-width="1.7">c)</text>
<text x="275.62" y="1801.10" font-size="74.80" textLength="735.62" lengthAdjust="spacingAndGlyphs" stroke="#000" stroke-width="1.7">RCM-GW: Climatology</text>
<text x="1298.05" y="1853.30" font-size="106.60" textLength="91.58" lengthAdjust="spacingAndGlyphs" stroke="#000" stroke-width="1.7">d)</text>
<text x="1414.78" y="1801.40" font-size="74.80" textLength="839.40" lengthAdjust="spacingAndGlyphs" stroke="#000" stroke-width="1.7">CCCMA-GW: Climatology</text>
<text x="125.20" y="195.30" font-size="41.50" textLength="224.76" lengthAdjust="spacingAndGlyphs" stroke="#000" stroke-width="1.1">t2m: Variance</text>
<text x="125.20" y="1889.90" font-size="41.50" textLength="224.76" lengthAdjust="spacingAndGlyphs" stroke="#000" stroke-width="1.1">t2m: Variance</text>
<text x="125.20" y="2665.20" font-size="41.50" textLength="455.40" lengthAdjust="spacingAndGlyphs" stroke="#000" stroke-width="1.1">t2m: Amplitude Harmonic 1</text>
<rect x="228.0" y="160.0" width="900.0" height="55.4" fill="#fff"/>
<rect x="1200.0" y="153.0" width="1256.0" height="69.8" fill="#fff"/>
<rect x="1200.0" y="923.4" width="1256.0" height="78.1" fill="#fff"/>
<rect x="197.0" y="1820.0" width="903.0" height="95.5" fill="#fff"/>
<rect x="1200.0" y="1877.0" width="1256.0" height="37.0" fill="#fff"/>
<rect x="197.0" y="2627.0" width="903.0" height="82.0" fill="#fff"/>
<rect x="1200.0" y="2627.0" width="1256.0" height="82.0" fill="#fff"/>
<text x="125.20" y="970.60" font-size="41.50" textLength="455.40" lengthAdjust="spacingAndGlyphs" stroke="#000" stroke-width="1.1">t2m: Amplitude Harmonic 1</text>
<text x="854.79" y="974.70" font-size="40.50" textLength="192.55" lengthAdjust="spacingAndGlyphs" stroke="#000" stroke-width="1.1">mm/months</text>
</svg></body></html>
